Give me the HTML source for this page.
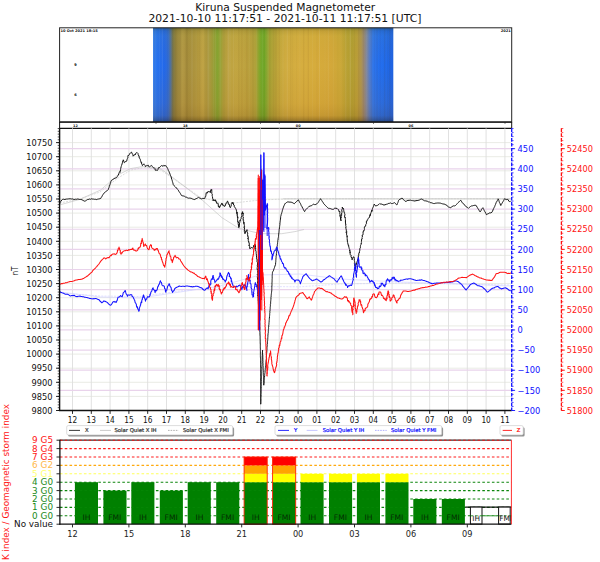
<!DOCTYPE html>
<html lang="en"><head><meta charset="utf-8"><title>Kiruna Suspended Magnetometer</title>
<style>html,body{margin:0;padding:0;background:#fff;}body{width:600px;height:562px;overflow:hidden;}svg{display:block;}</style>
</head><body>
<svg width="600" height="562" viewBox="0 0 600 562" font-family="'DejaVu Sans','Liberation Sans',sans-serif">
<defs>
<linearGradient id="keo" x1="0" y1="0" x2="1" y2="0">
<stop offset="0.0000" stop-color="#3a84f2"/>
<stop offset="0.0166" stop-color="#2672f0"/>
<stop offset="0.0458" stop-color="#2268ea"/>
<stop offset="0.0624" stop-color="#2f6cd8"/>
<stop offset="0.0728" stop-color="#50709c"/>
<stop offset="0.0832" stop-color="#7a7648"/>
<stop offset="0.0957" stop-color="#94823c"/>
<stop offset="0.1124" stop-color="#a48e40"/>
<stop offset="0.1248" stop-color="#b89e48"/>
<stop offset="0.1373" stop-color="#a48c3c"/>
<stop offset="0.1623" stop-color="#aa923e"/>
<stop offset="0.1873" stop-color="#b2983e"/>
<stop offset="0.2081" stop-color="#c0a446"/>
<stop offset="0.2247" stop-color="#ac963c"/>
<stop offset="0.2414" stop-color="#a49a3a"/>
<stop offset="0.2559" stop-color="#94a036"/>
<stop offset="0.2684" stop-color="#86a432"/>
<stop offset="0.2809" stop-color="#98a236"/>
<stop offset="0.2934" stop-color="#b09e3c"/>
<stop offset="0.3121" stop-color="#bca240"/>
<stop offset="0.3454" stop-color="#c2a642"/>
<stop offset="0.3787" stop-color="#bea23e"/>
<stop offset="0.4078" stop-color="#b8a03c"/>
<stop offset="0.4286" stop-color="#aea23a"/>
<stop offset="0.4390" stop-color="#8ea630"/>
<stop offset="0.4494" stop-color="#72a828"/>
<stop offset="0.4640" stop-color="#6ea426"/>
<stop offset="0.4744" stop-color="#8aa62e"/>
<stop offset="0.4848" stop-color="#a8a436"/>
<stop offset="0.5035" stop-color="#b4a238"/>
<stop offset="0.5243" stop-color="#c4a83c"/>
<stop offset="0.5535" stop-color="#d0ac40"/>
<stop offset="0.6117" stop-color="#d6ae40"/>
<stop offset="0.6742" stop-color="#d6ac3c"/>
<stop offset="0.7366" stop-color="#d4a83a"/>
<stop offset="0.7782" stop-color="#cca838"/>
<stop offset="0.8032" stop-color="#baa234"/>
<stop offset="0.8281" stop-color="#b29e32"/>
<stop offset="0.8489" stop-color="#ba9e38"/>
<stop offset="0.8656" stop-color="#ae944e"/>
<stop offset="0.8781" stop-color="#9a8a78"/>
<stop offset="0.8906" stop-color="#7884a4"/>
<stop offset="0.9030" stop-color="#507cd0"/>
<stop offset="0.9155" stop-color="#3076ea"/>
<stop offset="0.9363" stop-color="#2470f0"/>
<stop offset="0.9696" stop-color="#226cec"/>
<stop offset="1.0000" stop-color="#1e62e2"/>
</linearGradient>
<linearGradient id="keov" x1="0" y1="0" x2="0" y2="1">
<stop offset="0" stop-color="#203000" stop-opacity="0.34"/>
<stop offset="0.035" stop-color="#405010" stop-opacity="0.12"/>
<stop offset="0.09" stop-color="#8aa030" stop-opacity="0.06"/>
<stop offset="0.4" stop-color="#a06000" stop-opacity="0"/>
<stop offset="0.8" stop-color="#a05000" stop-opacity="0.08"/>
<stop offset="0.93" stop-color="#703800" stop-opacity="0.16"/>
<stop offset="1" stop-color="#201000" stop-opacity="0.42"/>
</linearGradient>
<pattern id="stripes" width="9" height="94" patternUnits="userSpaceOnUse">
<rect x="0" y="0" width="1" height="94" fill="#000" opacity="0.05"/>
<rect x="3" y="0" width="1" height="94" fill="#fff" opacity="0.06"/>
<rect x="6" y="0" width="1.5" height="94" fill="#000" opacity="0.04"/>
</pattern>
<clipPath id="mainclip"><rect x="59.6" y="128.3" width="452.1" height="282.2"/></clipPath>
<clipPath id="botclip"><rect x="59.6" y="436" width="451.8" height="90"/></clipPath>
<filter id="soft" x="-2%" y="-2%" width="104%" height="104%"><feGaussianBlur stdDeviation="0.35"/></filter>
</defs>
<rect width="600" height="562" fill="#fff"/>
<text x="195.3" y="10.6" font-size="10.5" fill="#111" textLength="179.9" lengthAdjust="spacingAndGlyphs">Kiruna Suspended Magnetometer</text>
<text x="148.4" y="22.2" font-size="10.5" fill="#111" textLength="273" lengthAdjust="spacingAndGlyphs">2021-10-10 11:17:51 - 2021-10-11 11:17:51 [UTC]</text>
<g>
<rect x="153" y="27.8" width="240.3" height="94.2" fill="url(#keo)"/>
<rect x="154.0" y="27.8" width="1.0" height="94.2" fill="#402000" opacity="0.054"/>
<rect x="155.7" y="27.8" width="0.6" height="94.2" fill="#fff" opacity="0.034"/>
<rect x="159.2" y="27.8" width="0.6" height="94.2" fill="#fff" opacity="0.059"/>
<rect x="161.7" y="27.8" width="1.4" height="94.2" fill="#fff" opacity="0.070"/>
<rect x="167.0" y="27.8" width="0.6" height="94.2" fill="#402000" opacity="0.054"/>
<rect x="172.4" y="27.8" width="0.6" height="94.2" fill="#402000" opacity="0.038"/>
<rect x="175.6" y="27.8" width="0.6" height="94.2" fill="#402000" opacity="0.064"/>
<rect x="179.8" y="27.8" width="0.6" height="94.2" fill="#402000" opacity="0.068"/>
<rect x="182.8" y="27.8" width="0.6" height="94.2" fill="#402000" opacity="0.067"/>
<rect x="186.3" y="27.8" width="1.4" height="94.2" fill="#402000" opacity="0.058"/>
<rect x="191.5" y="27.8" width="1.0" height="94.2" fill="#fff" opacity="0.086"/>
<rect x="195.7" y="27.8" width="0.8" height="94.2" fill="#fff" opacity="0.051"/>
<rect x="199.2" y="27.8" width="1.0" height="94.2" fill="#402000" opacity="0.047"/>
<rect x="204.7" y="27.8" width="0.6" height="94.2" fill="#402000" opacity="0.040"/>
<rect x="207.5" y="27.8" width="1.4" height="94.2" fill="#fff" opacity="0.097"/>
<rect x="209.3" y="27.8" width="1.0" height="94.2" fill="#fff" opacity="0.055"/>
<rect x="212.8" y="27.8" width="1.4" height="94.2" fill="#fff" opacity="0.037"/>
<rect x="215.4" y="27.8" width="0.6" height="94.2" fill="#fff" opacity="0.079"/>
<rect x="219.5" y="27.8" width="1.4" height="94.2" fill="#fff" opacity="0.057"/>
<rect x="223.7" y="27.8" width="0.6" height="94.2" fill="#402000" opacity="0.051"/>
<rect x="227.6" y="27.8" width="1.4" height="94.2" fill="#fff" opacity="0.084"/>
<rect x="229.6" y="27.8" width="0.8" height="94.2" fill="#fff" opacity="0.094"/>
<rect x="233.1" y="27.8" width="0.8" height="94.2" fill="#fff" opacity="0.068"/>
<rect x="238.1" y="27.8" width="1.4" height="94.2" fill="#402000" opacity="0.047"/>
<rect x="241.3" y="27.8" width="1.0" height="94.2" fill="#402000" opacity="0.053"/>
<rect x="243.7" y="27.8" width="0.6" height="94.2" fill="#fff" opacity="0.046"/>
<rect x="246.2" y="27.8" width="1.4" height="94.2" fill="#402000" opacity="0.041"/>
<rect x="248.8" y="27.8" width="0.8" height="94.2" fill="#fff" opacity="0.056"/>
<rect x="252.6" y="27.8" width="0.8" height="94.2" fill="#402000" opacity="0.061"/>
<rect x="256.5" y="27.8" width="0.6" height="94.2" fill="#fff" opacity="0.091"/>
<rect x="261.8" y="27.8" width="1.4" height="94.2" fill="#fff" opacity="0.058"/>
<rect x="265.3" y="27.8" width="1.4" height="94.2" fill="#fff" opacity="0.035"/>
<rect x="267.6" y="27.8" width="0.8" height="94.2" fill="#fff" opacity="0.072"/>
<rect x="269.5" y="27.8" width="0.8" height="94.2" fill="#402000" opacity="0.087"/>
<rect x="273.5" y="27.8" width="0.6" height="94.2" fill="#402000" opacity="0.067"/>
<rect x="275.5" y="27.8" width="1.0" height="94.2" fill="#402000" opacity="0.066"/>
<rect x="278.9" y="27.8" width="0.6" height="94.2" fill="#402000" opacity="0.090"/>
<rect x="282.3" y="27.8" width="1.4" height="94.2" fill="#fff" opacity="0.040"/>
<rect x="286.8" y="27.8" width="1.0" height="94.2" fill="#fff" opacity="0.078"/>
<rect x="290.4" y="27.8" width="0.8" height="94.2" fill="#402000" opacity="0.062"/>
<rect x="292.5" y="27.8" width="0.6" height="94.2" fill="#402000" opacity="0.048"/>
<rect x="296.5" y="27.8" width="0.6" height="94.2" fill="#402000" opacity="0.046"/>
<rect x="299.5" y="27.8" width="0.8" height="94.2" fill="#fff" opacity="0.046"/>
<rect x="303.2" y="27.8" width="1.0" height="94.2" fill="#402000" opacity="0.067"/>
<rect x="307.8" y="27.8" width="0.8" height="94.2" fill="#402000" opacity="0.079"/>
<rect x="312.3" y="27.8" width="0.8" height="94.2" fill="#fff" opacity="0.064"/>
<rect x="316.7" y="27.8" width="0.6" height="94.2" fill="#402000" opacity="0.058"/>
<rect x="319.0" y="27.8" width="1.0" height="94.2" fill="#fff" opacity="0.096"/>
<rect x="324.4" y="27.8" width="1.0" height="94.2" fill="#fff" opacity="0.037"/>
<rect x="327.8" y="27.8" width="1.0" height="94.2" fill="#fff" opacity="0.074"/>
<rect x="332.9" y="27.8" width="0.6" height="94.2" fill="#fff" opacity="0.076"/>
<rect x="337.6" y="27.8" width="0.6" height="94.2" fill="#402000" opacity="0.037"/>
<rect x="340.7" y="27.8" width="0.8" height="94.2" fill="#fff" opacity="0.042"/>
<rect x="345.3" y="27.8" width="1.0" height="94.2" fill="#fff" opacity="0.096"/>
<rect x="349.7" y="27.8" width="1.4" height="94.2" fill="#fff" opacity="0.096"/>
<rect x="354.1" y="27.8" width="0.8" height="94.2" fill="#402000" opacity="0.032"/>
<rect x="358.0" y="27.8" width="1.4" height="94.2" fill="#402000" opacity="0.039"/>
<rect x="362.8" y="27.8" width="1.4" height="94.2" fill="#402000" opacity="0.051"/>
<rect x="366.5" y="27.8" width="0.8" height="94.2" fill="#fff" opacity="0.086"/>
<rect x="370.9" y="27.8" width="0.6" height="94.2" fill="#402000" opacity="0.086"/>
<rect x="374.1" y="27.8" width="0.8" height="94.2" fill="#402000" opacity="0.043"/>
<rect x="376.6" y="27.8" width="1.0" height="94.2" fill="#402000" opacity="0.076"/>
<rect x="379.4" y="27.8" width="1.4" height="94.2" fill="#402000" opacity="0.034"/>
<rect x="383.9" y="27.8" width="1.4" height="94.2" fill="#402000" opacity="0.079"/>
<rect x="387.4" y="27.8" width="0.8" height="94.2" fill="#402000" opacity="0.061"/>
<rect x="389.0" y="27.8" width="1.4" height="94.2" fill="#402000" opacity="0.067"/>
<rect x="153" y="27.8" width="240.3" height="94.2" fill="url(#keov)"/>
<rect x="59.6" y="27.8" width="452.1" height="94.2" fill="none" stroke="#222" stroke-width="1"/>
<line x1="59.6" y1="122.2" x2="511.7" y2="122.2" stroke="#111" stroke-width="1.3"/>
<line x1="59.6" y1="128.3" x2="511.7" y2="128.3" stroke="#111" stroke-width="1.3"/>
<line x1="59.6" y1="122" x2="59.6" y2="128.3" stroke="#111" stroke-width="1"/>
<line x1="511.7" y1="122" x2="511.7" y2="128.3" stroke="#111" stroke-width="1"/>
<text x="60.6" y="31.6" font-size="3.6" fill="#111" font-weight="bold">10 Oct 2021 18:15</text>
<text x="510.8" y="31.6" font-size="3.6" fill="#111" font-weight="bold" text-anchor="end">2021</text>
<text x="75.6" y="65.8" font-size="3.6" fill="#111" font-weight="bold" text-anchor="middle">9</text>
<text x="75.6" y="95.6" font-size="3.6" fill="#111" font-weight="bold" text-anchor="middle">6</text>
<text x="75.4" y="127.2" font-size="3.4" fill="#111" font-weight="bold" text-anchor="middle">12</text>
<text x="185.3" y="127.2" font-size="3.4" fill="#111" font-weight="bold" text-anchor="middle">18</text>
<text x="298.2" y="127.2" font-size="3.4" fill="#111" font-weight="bold" text-anchor="middle">00</text>
<text x="410.9" y="127.2" font-size="3.4" fill="#111" font-weight="bold" text-anchor="middle">06</text>
<line x1="156" y1="122.2" x2="156" y2="123.8" stroke="#222" stroke-width="0.7"/>
<line x1="260.5" y1="122.2" x2="260.5" y2="123.8" stroke="#222" stroke-width="0.7"/>
<line x1="279.3" y1="122.2" x2="279.3" y2="123.8" stroke="#222" stroke-width="0.7"/>
<line x1="373.5" y1="122.2" x2="373.5" y2="123.8" stroke="#222" stroke-width="0.7"/>
<line x1="505" y1="122.2" x2="505" y2="123.8" stroke="#222" stroke-width="0.7"/>
</g>
<g>
<line x1="59.6" y1="410.50" x2="511.7" y2="410.50" stroke="#e4e6de" stroke-width="0.8"/>
<line x1="59.6" y1="396.40" x2="511.7" y2="396.40" stroke="#e4e6de" stroke-width="0.8"/>
<line x1="59.6" y1="382.30" x2="511.7" y2="382.30" stroke="#e4e6de" stroke-width="0.8"/>
<line x1="59.6" y1="368.20" x2="511.7" y2="368.20" stroke="#e4e6de" stroke-width="0.8"/>
<line x1="59.6" y1="354.10" x2="511.7" y2="354.10" stroke="#e4e6de" stroke-width="0.8"/>
<line x1="59.6" y1="340.00" x2="511.7" y2="340.00" stroke="#e4e6de" stroke-width="0.8"/>
<line x1="59.6" y1="325.90" x2="511.7" y2="325.90" stroke="#e4e6de" stroke-width="0.8"/>
<line x1="59.6" y1="311.80" x2="511.7" y2="311.80" stroke="#e4e6de" stroke-width="0.8"/>
<line x1="59.6" y1="297.70" x2="511.7" y2="297.70" stroke="#e4e6de" stroke-width="0.8"/>
<line x1="59.6" y1="283.60" x2="511.7" y2="283.60" stroke="#e4e6de" stroke-width="0.8"/>
<line x1="59.6" y1="269.50" x2="511.7" y2="269.50" stroke="#e4e6de" stroke-width="0.8"/>
<line x1="59.6" y1="255.40" x2="511.7" y2="255.40" stroke="#e4e6de" stroke-width="0.8"/>
<line x1="59.6" y1="241.30" x2="511.7" y2="241.30" stroke="#e4e6de" stroke-width="0.8"/>
<line x1="59.6" y1="227.20" x2="511.7" y2="227.20" stroke="#e4e6de" stroke-width="0.8"/>
<line x1="59.6" y1="213.10" x2="511.7" y2="213.10" stroke="#e4e6de" stroke-width="0.8"/>
<line x1="59.6" y1="199.00" x2="511.7" y2="199.00" stroke="#e4e6de" stroke-width="0.8"/>
<line x1="59.6" y1="184.90" x2="511.7" y2="184.90" stroke="#e4e6de" stroke-width="0.8"/>
<line x1="59.6" y1="170.80" x2="511.7" y2="170.80" stroke="#e4e6de" stroke-width="0.8"/>
<line x1="59.6" y1="156.70" x2="511.7" y2="156.70" stroke="#e4e6de" stroke-width="0.8"/>
<line x1="59.6" y1="142.60" x2="511.7" y2="142.60" stroke="#e4e6de" stroke-width="0.8"/>
<line x1="72.50" y1="128.3" x2="72.50" y2="410.5" stroke="#dedede" stroke-width="0.9"/>
<line x1="91.30" y1="128.3" x2="91.30" y2="410.5" stroke="#dedede" stroke-width="0.9"/>
<line x1="110.10" y1="128.3" x2="110.10" y2="410.5" stroke="#dedede" stroke-width="0.9"/>
<line x1="128.90" y1="128.3" x2="128.90" y2="410.5" stroke="#dedede" stroke-width="0.9"/>
<line x1="147.70" y1="128.3" x2="147.70" y2="410.5" stroke="#dedede" stroke-width="0.9"/>
<line x1="166.50" y1="128.3" x2="166.50" y2="410.5" stroke="#dedede" stroke-width="0.9"/>
<line x1="185.30" y1="128.3" x2="185.30" y2="410.5" stroke="#dedede" stroke-width="0.9"/>
<line x1="204.10" y1="128.3" x2="204.10" y2="410.5" stroke="#dedede" stroke-width="0.9"/>
<line x1="222.90" y1="128.3" x2="222.90" y2="410.5" stroke="#dedede" stroke-width="0.9"/>
<line x1="241.70" y1="128.3" x2="241.70" y2="410.5" stroke="#dedede" stroke-width="0.9"/>
<line x1="260.50" y1="128.3" x2="260.50" y2="410.5" stroke="#dedede" stroke-width="0.9"/>
<line x1="279.30" y1="128.3" x2="279.30" y2="410.5" stroke="#dedede" stroke-width="0.9"/>
<line x1="298.10" y1="128.3" x2="298.10" y2="410.5" stroke="#dedede" stroke-width="0.9"/>
<line x1="316.90" y1="128.3" x2="316.90" y2="410.5" stroke="#dedede" stroke-width="0.9"/>
<line x1="335.70" y1="128.3" x2="335.70" y2="410.5" stroke="#dedede" stroke-width="0.9"/>
<line x1="354.50" y1="128.3" x2="354.50" y2="410.5" stroke="#dedede" stroke-width="0.9"/>
<line x1="373.30" y1="128.3" x2="373.30" y2="410.5" stroke="#dedede" stroke-width="0.9"/>
<line x1="392.10" y1="128.3" x2="392.10" y2="410.5" stroke="#dedede" stroke-width="0.9"/>
<line x1="410.90" y1="128.3" x2="410.90" y2="410.5" stroke="#dedede" stroke-width="0.9"/>
<line x1="429.70" y1="128.3" x2="429.70" y2="410.5" stroke="#dedede" stroke-width="0.9"/>
<line x1="448.50" y1="128.3" x2="448.50" y2="410.5" stroke="#dedede" stroke-width="0.9"/>
<line x1="467.30" y1="128.3" x2="467.30" y2="410.5" stroke="#dedede" stroke-width="0.9"/>
<line x1="486.10" y1="128.3" x2="486.10" y2="410.5" stroke="#dedede" stroke-width="0.9"/>
<line x1="504.90" y1="128.3" x2="504.90" y2="410.5" stroke="#dedede" stroke-width="0.9"/>
<line x1="59.6" y1="390.36" x2="511.7" y2="390.36" stroke="#e9d3eb" stroke-width="1.2"/>
<line x1="59.6" y1="370.22" x2="511.7" y2="370.22" stroke="#e9d3eb" stroke-width="1.2"/>
<line x1="59.6" y1="350.08" x2="511.7" y2="350.08" stroke="#e9d3eb" stroke-width="1.2"/>
<line x1="59.6" y1="329.94" x2="511.7" y2="329.94" stroke="#e9d3eb" stroke-width="1.2"/>
<line x1="59.6" y1="309.80" x2="511.7" y2="309.80" stroke="#e9d3eb" stroke-width="1.2"/>
<line x1="59.6" y1="289.66" x2="511.7" y2="289.66" stroke="#e9d3eb" stroke-width="1.2"/>
<line x1="59.6" y1="269.52" x2="511.7" y2="269.52" stroke="#e9d3eb" stroke-width="1.2"/>
<line x1="59.6" y1="249.38" x2="511.7" y2="249.38" stroke="#e9d3eb" stroke-width="1.2"/>
<line x1="59.6" y1="229.24" x2="511.7" y2="229.24" stroke="#e9d3eb" stroke-width="1.2"/>
<line x1="59.6" y1="209.10" x2="511.7" y2="209.10" stroke="#e9d3eb" stroke-width="1.2"/>
<line x1="59.6" y1="188.96" x2="511.7" y2="188.96" stroke="#e9d3eb" stroke-width="1.2"/>
<line x1="59.6" y1="168.82" x2="511.7" y2="168.82" stroke="#e9d3eb" stroke-width="1.2"/>
<line x1="59.6" y1="148.68" x2="511.7" y2="148.68" stroke="#e9d3eb" stroke-width="1.2"/>
<g clip-path="url(#mainclip)">
<polyline points="59.8,204.9 79.4,199.5 100.7,190.0 117.8,175.0 130.6,168.6 143.4,166.4 160.5,168.6 178.0,181.4 202.8,200.6 222.0,217.7 239.0,228.4 260.4,233.7 281.8,233.7 295.0,231.6 304.0,229.5" fill="none" stroke="#bdbdbd" stroke-width="0.6" stroke-linejoin="round" />
<polyline points="59.8,203.0 80.0,199.0 100.0,192.0 118.0,178.0 131.0,170.0 144.0,167.5 160.0,169.5 178.0,182.0 200.0,197.0 225.0,204.0 260.0,200.0 290.0,198.8 400.0,198.8 511.0,198.8" fill="none" stroke="#c4c4c4" stroke-width="0.6" stroke-linejoin="round" stroke-dasharray="2 1.2"/>
<line x1="283" y1="198.8" x2="511" y2="198.8" stroke="#c4c4c4" stroke-width="0.7"/>
<polyline points="59.8,292.0 100.0,297.0 140.0,298.0 180.0,292.0 220.0,286.0 260.0,275.0 300.0,274.0 340.0,279.0 400.0,282.0 460.0,284.0 511.0,286.0" fill="none" stroke="#ccccff" stroke-width="0.6" stroke-linejoin="round" />
<polyline points="59.8,293.0 100.0,296.0 140.0,296.5 180.0,291.0 220.0,287.0 260.0,286.5 300.0,286.8 340.0,284.0 400.0,283.0 460.0,284.0 511.0,285.0" fill="none" stroke="#ccccff" stroke-width="0.6" stroke-linejoin="round" stroke-dasharray="2 1.2"/>
<polyline points="59.8,203.7 60.1,202.2 60.6,201.6 61.2,201.0 61.7,200.0 62.3,199.5 63.3,199.2 64.1,199.4 65.0,199.5 66.1,199.0 66.7,199.1 67.7,199.0 68.4,198.9 69.1,198.8 70.0,198.8 70.8,198.8 71.6,199.0 72.4,198.9 73.2,199.3 74.0,199.3 74.9,199.5 75.5,199.2 76.4,199.3 77.3,199.0 78.0,199.1 78.8,199.2 79.7,199.5 80.4,199.5 81.1,199.5 82.0,199.8 82.9,200.3 83.8,200.8 84.7,201.2 85.5,200.9 86.4,200.3 87.2,199.6 87.9,199.5 88.9,199.3 89.6,199.0 90.4,199.3 91.2,198.9 92.0,198.7 92.8,199.2 93.6,199.1 94.4,199.3 95.3,199.2 96.0,199.7 96.8,199.5 97.6,199.2 98.4,199.0 99.1,199.0 99.9,198.6 100.7,198.5 101.1,197.7 101.6,197.0 102.1,196.2 102.5,195.3 102.9,194.7 103.5,194.0 103.9,193.2 104.6,192.7 105.4,191.8 106.0,191.3 106.8,190.9 107.4,190.5 108.2,189.7 108.4,189.1 108.7,188.2 109.0,187.5 109.2,186.7 109.5,185.9 109.8,185.0 110.0,184.5 110.3,183.4 110.6,182.8 110.8,181.7 111.1,181.2 111.4,180.4 112.3,179.8 113.1,179.4 114.0,178.6 114.9,178.3 115.8,177.9 116.7,177.6 117.0,176.7 117.6,176.2 117.9,175.5 118.2,175.3 118.8,173.8 119.0,172.5 119.7,171.9 120.0,172.4 120.1,170.6 120.5,170.9 120.6,169.5 120.7,168.4 120.8,168.1 121.2,166.7 121.2,166.5 121.5,165.5 121.7,165.2 122.2,163.3 122.1,162.9 122.7,162.8 122.6,161.2 123.0,161.3 123.3,159.8 123.8,161.1 124.1,162.3 124.5,162.7 125.3,161.6 126.5,161.3 126.7,161.0 127.0,159.8 127.1,158.8 127.6,158.4 127.9,157.9 127.8,156.6 128.2,155.1 128.6,155.6 129.2,154.8 129.4,153.8 130.7,152.9 131.6,152.1 131.8,153.0 132.6,154.2 133.0,154.9 133.1,156.2 134.2,154.9 135.0,154.7 135.2,155.0 135.7,153.3 136.6,152.7 137.1,152.5 138.0,153.5 138.2,154.7 138.6,155.8 139.1,155.8 139.1,157.0 139.4,158.2 139.7,158.3 140.4,159.7 140.5,160.7 140.7,160.9 141.3,163.0 141.6,162.5 141.6,164.0 142.2,164.7 142.4,165.6 143.0,164.9 143.9,163.8 144.3,164.6 145.2,165.6 145.6,166.6 146.4,165.8 146.9,165.2 147.6,165.5 148.4,165.3 148.7,166.3 149.3,167.0 149.7,166.8 150.4,166.2 151.3,165.5 151.8,165.6 152.4,166.6 153.1,167.5 153.5,167.8 154.3,167.8 154.9,168.5 155.3,170.3 156.4,169.9 157.1,170.7 157.9,169.6 158.2,168.6 158.6,167.6 158.7,168.1 159.8,167.3 160.6,166.3 161.4,165.6 162.1,165.7 163.1,166.4 163.8,165.3 165.1,166.1 165.8,165.5 166.3,166.1 166.6,166.7 166.9,167.1 167.5,168.4 167.8,168.7 168.1,169.6 168.4,170.6 169.1,171.7 169.3,172.7 169.5,172.6 170.0,174.1 170.3,174.8 170.6,175.7 170.9,176.3 171.2,177.0 171.4,178.0 171.7,179.0 171.9,179.7 172.1,180.2 172.4,181.4 172.6,182.2 172.9,182.9 173.1,183.9 173.3,184.7 173.9,185.3 174.5,186.2 175.1,186.7 175.6,187.2 176.2,188.0 177.0,188.4 177.6,189.4 178.2,189.9 178.6,190.8 179.1,191.7 179.6,192.3 180.0,193.2 180.5,193.6 181.0,194.7 181.4,195.4 182.2,195.8 183.0,195.8 183.8,196.1 184.5,196.3 185.3,197.0 186.2,197.0 187.0,197.6 187.7,197.9 188.6,198.2 189.3,198.1 190.2,198.1 191.0,198.4 191.8,198.5 192.6,199.0 193.4,199.3 194.2,199.6 195.1,199.2 196.0,198.7 196.8,198.4 197.7,197.9 198.5,197.3 199.2,197.8 199.9,198.1 200.8,198.5 201.5,198.8 202.3,198.6 203.2,198.5 204.1,198.5 204.9,198.3 205.1,197.5 205.3,196.4 205.9,196.3 205.9,195.3 206.1,193.2 206.2,192.6 207.1,193.4 207.8,191.6 208.9,191.7 209.8,191.8 210.4,192.6 210.8,189.7 211.8,190.0 211.7,189.5 211.8,191.5 211.8,193.5 212.1,194.0 212.4,194.9 212.1,195.8 212.3,196.4 212.5,196.7 212.6,198.2 213.0,199.5 213.1,200.4 213.2,200.9 213.6,199.6 214.7,200.8 215.1,199.6 215.8,201.2 216.0,200.8 216.6,203.3 217.2,203.2 218.1,203.3 218.4,206.6 218.8,206.0 219.2,207.5 219.2,207.3 220.0,206.7 219.7,207.4 220.3,205.4 220.6,205.6 220.8,204.6 221.7,204.3 221.8,203.0 222.3,203.8 222.7,205.3 223.8,205.1 224.1,206.4 225.4,205.8 225.4,205.1 226.3,202.8 226.7,203.2 227.5,200.9 227.8,201.7 228.5,203.2 228.9,204.8 229.1,204.4 229.5,204.7 229.7,206.9 230.4,207.7 230.7,206.9 231.4,205.1 231.3,204.6 232.0,203.1 232.1,202.3 232.8,203.7 232.9,202.3 233.7,205.1 234.3,205.3 234.3,206.7 234.5,207.1 234.8,207.2 235.5,208.0 235.6,208.4 236.3,209.9 236.3,210.1 236.6,211.2 236.7,213.6 237.2,212.2 237.3,215.2 237.1,214.8 237.5,217.1 237.4,217.8 237.8,216.8 238.0,217.2 237.5,219.8 237.6,219.8 237.7,220.9 238.4,222.9 237.8,221.5 238.6,222.3 238.2,223.3 238.2,223.9 238.7,226.6 238.8,227.7 239.0,225.7 239.2,226.5 239.4,223.8 239.1,224.8 239.7,222.5 239.9,222.3 240.0,220.2 240.1,220.3 240.2,220.8 240.5,219.4 241.0,218.8 241.2,218.1 241.1,217.8 241.3,216.9 242.0,215.9 241.7,213.1 242.5,213.3 242.4,213.9 242.3,211.9 242.7,211.6 242.8,214.0 243.2,213.0 243.0,214.0 243.3,214.8 242.8,216.4 243.4,217.0 243.0,219.1 243.6,220.1 243.3,219.8 243.3,220.9 243.5,221.2 243.9,223.6 243.9,222.2 244.0,223.9 244.4,225.4 244.3,226.1 244.2,227.4 244.5,226.7 244.1,227.7 244.5,227.8 244.4,229.8 244.3,231.2 244.8,230.7 244.7,231.6 244.8,233.4 245.0,233.7 245.0,233.8 245.5,231.5 245.6,232.3 246.2,231.3 246.8,230.7 247.0,229.7 247.2,230.2 246.7,230.3 247.2,232.4 247.5,232.5 247.5,232.4 247.8,234.0 247.5,234.3 248.0,235.4 247.5,235.2 248.0,237.1 248.3,236.9 248.0,239.2 247.9,238.4 248.5,239.7 248.3,240.5 248.9,242.1 248.6,241.7 249.4,244.0 249.0,245.5 249.0,245.0 249.8,246.8 249.6,248.1 250.0,248.9 251.0,247.5 251.7,247.6 252.7,248.1 253.2,247.3 254.0,245.1 254.0,245.6 255.1,244.2 255.0,244.8 255.4,246.7 255.3,245.5 255.6,247.5 255.2,247.9 255.8,248.0 255.4,249.6 256.1,251.6 256.3,251.9 256.1,252.8 256.2,253.6 256.5,255.5 256.3,255.5 256.4,255.5 256.6,257.1 256.7,258.9 256.5,258.9 257.3,259.9 257.1,259.8 257.0,262.1 257.5,262.3 257.6,263.8 257.7,263.2 257.4,265.1 257.3,265.8 257.4,265.5 257.4,265.7 257.4,267.3 257.1,267.5 257.3,270.1 257.6,269.4 257.9,270.1 257.6,272.2 257.7,272.2 257.8,273.1 257.8,274.0 258.0,275.4 257.3,274.6 258.0,275.7 257.3,276.6 257.6,279.2 257.6,279.4 257.9,278.6 257.8,281.7 257.8,281.3 257.6,283.2 258.1,281.8 257.8,283.5 257.9,283.5 257.6,284.7 257.8,286.9 258.1,287.7 258.0,286.6 257.8,289.0 257.7,289.3 258.2,289.1 258.2,289.9 257.8,292.8 257.7,292.6 257.9,294.4 258.3,293.6 258.0,296.0 258.0,295.0 258.2,296.2 258.0,296.1 258.1,298.3 258.2,299.2 258.1,299.8 258.2,300.7 258.3,301.3 258.3,302.3 258.4,302.9 258.4,303.9 258.5,304.9 258.6,305.5 258.6,306.3 258.6,307.2 258.7,307.8 258.8,308.7 258.8,309.6 258.9,310.5 259.0,311.2 259.0,311.9 259.1,312.8 259.2,313.7 259.2,314.4 259.2,315.0 259.3,315.9 259.3,316.8 259.4,317.7 259.4,318.4 259.4,319.3 259.5,320.1 259.4,320.7 259.5,321.8 259.5,322.5 259.6,323.6 259.6,324.3 259.6,324.8 259.6,325.7 259.6,326.8 259.7,327.3 259.7,328.5 259.7,329.1 259.8,329.8 259.8,330.7 259.8,331.8 259.9,332.4 259.9,333.2 259.9,334.0 260.0,334.9 260.0,335.8 260.1,336.6 260.1,337.4 260.1,338.3 260.1,339.1 260.2,339.8 260.2,340.8 260.2,341.3 260.2,342.2 260.2,343.1 260.3,344.0 260.3,344.8 260.3,345.6 260.3,346.5 260.3,347.3 260.3,348.1 260.4,348.9 260.4,349.7 260.4,350.5 260.4,351.4 260.4,352.2 260.4,353.0 260.4,353.8 260.4,354.6 260.4,355.5 260.4,356.3 260.4,357.1 260.5,357.9 260.5,358.7 260.5,359.5 260.5,360.4 260.5,361.2 260.5,362.0 260.5,362.8 260.5,363.6 260.5,364.5 260.5,365.3 260.5,366.1 260.6,366.9 260.6,367.7 260.6,368.5 260.6,369.4 260.6,370.2 260.6,371.0 260.6,371.8 260.6,372.6 260.6,373.4 260.6,374.2 260.6,375.0 260.6,375.8 260.6,376.6 260.6,377.4 260.6,378.2 260.6,379.0 260.6,379.9 260.6,380.7 260.6,381.5 260.6,382.3 260.6,383.1 260.6,383.9 260.6,384.7 260.6,385.5 260.6,386.3 260.6,387.1 260.7,387.9 260.7,388.7 260.7,389.5 260.7,390.3 260.7,391.1 260.7,391.9 260.7,392.7 260.7,393.5 260.7,394.3 260.7,395.1 260.7,396.0 260.7,396.8 260.7,397.6 260.7,398.4 260.7,399.2 260.7,400.0 260.7,400.8 260.7,401.6 260.7,402.4 260.7,403.2 260.7,404.2 260.8,403.1 260.8,402.4 260.8,401.7 260.9,400.9 260.8,400.1 260.9,399.2 260.8,398.5 260.8,397.7 260.9,396.8 261.0,396.0 261.0,395.1 260.9,394.6 261.0,393.5 261.0,392.8 261.1,392.1 261.0,391.2 261.1,390.4 261.1,389.5 261.1,388.8 261.1,388.1 261.2,387.0 261.2,386.6 261.3,385.7 261.3,384.7 261.2,383.9 261.3,383.1 261.3,382.2 261.3,381.5 261.3,380.9 261.4,379.9 261.4,379.4 261.5,378.4 261.5,377.4 261.5,376.6 261.6,375.8 261.6,375.1 261.6,374.4 261.6,373.5 261.6,372.6 261.7,371.8 261.7,371.3 261.7,370.4 261.8,369.6 261.8,368.7 261.8,368.0 261.8,367.0 261.9,366.4 261.9,365.5 262.0,364.5 261.9,363.9 262.0,363.1 262.1,362.2 262.0,361.5 262.1,360.4 262.1,359.7 262.1,359.1 262.2,358.2 262.2,357.5 262.2,356.6 262.3,355.5 262.3,354.7 262.4,354.0 262.4,353.3 262.4,352.5 262.5,351.8 262.5,351.0 262.6,350.1 262.5,350.7 262.5,351.8 262.5,352.5 262.6,353.1 262.6,354.2 262.7,355.1 262.8,355.5 262.8,356.3 262.8,357.3 262.9,358.2 262.8,359.0 262.9,359.7 262.9,360.8 263.0,361.6 262.9,362.5 263.0,363.2 263.0,363.8 263.1,364.6 263.0,365.5 263.2,366.5 263.2,367.4 263.2,368.2 263.2,368.8 263.3,369.6 263.3,370.5 263.4,371.2 263.3,372.1 263.3,372.7 263.4,373.8 263.4,374.6 263.5,375.4 263.5,376.3 263.6,376.9 263.5,377.7 263.5,378.7 263.6,379.3 263.6,380.2 263.7,380.9 263.7,381.9 263.7,382.6 263.8,383.2 263.7,384.1 263.8,385.2 263.8,384.0 263.9,383.4 264.1,382.8 264.1,381.8 264.1,380.7 264.3,380.3 264.3,379.5 264.4,378.5 264.5,377.5 264.5,377.1 264.6,375.9 264.7,375.3 264.7,374.3 264.8,373.6 265.0,372.7 265.0,372.2 265.1,371.0 265.1,370.6 265.3,369.4 265.3,368.7 265.4,367.8 265.5,367.3 265.6,366.2 265.7,365.7 265.8,364.8 265.9,363.9 265.8,363.0 266.0,362.2 266.0,361.5 266.1,361.0 266.2,360.2 266.3,359.1 266.4,358.2 266.4,357.4 266.4,356.8 266.4,356.1 266.5,355.3 266.5,354.4 266.6,353.5 266.7,352.7 266.8,352.0 266.8,351.0 266.9,350.2 267.0,349.5 267.0,348.5 267.0,347.7 267.1,347.2 267.2,346.3 267.3,345.4 267.2,344.6 267.4,344.0 267.5,343.2 267.5,342.3 267.5,341.4 267.6,340.7 267.7,339.8 267.7,339.2 267.8,338.2 267.8,337.6 267.9,336.5 267.9,335.9 267.9,335.0 268.1,334.1 268.1,333.5 268.3,332.7 268.3,331.7 268.3,331.0 268.4,330.3 268.4,329.4 268.6,328.4 268.5,327.6 268.7,327.0 268.8,326.0 268.7,325.1 268.9,324.5 268.9,323.8 269.1,322.9 269.0,322.3 269.2,321.1 269.2,320.4 269.3,319.6 269.3,318.8 269.4,318.0 269.5,317.0 269.5,316.6 269.6,315.7 269.7,314.7 269.7,313.9 269.7,313.4 269.9,312.6 269.8,311.7 270.0,310.8 270.1,309.8 270.1,309.2 270.2,308.4 270.2,307.6 270.3,306.7 270.4,305.9 270.4,305.1 270.4,304.4 270.6,303.8 270.6,302.9 270.7,301.9 270.7,301.1 270.8,300.4 270.9,299.4 271.0,299.0 270.9,297.8 271.0,297.2 271.2,296.1 271.2,295.4 271.3,294.3 271.4,293.5 271.5,292.7 271.6,291.8 271.7,290.9 271.8,290.1 271.8,289.4 271.8,288.5 271.8,287.6 271.9,287.1 271.8,286.0 272.0,285.2 272.0,284.7 271.9,283.9 272.0,282.8 272.0,282.1 272.1,281.3 272.1,280.6 272.1,279.6 272.2,278.8 272.2,278.3 272.2,277.2 272.2,276.5 272.2,275.5 272.3,274.8 272.3,274.1 272.4,273.4 272.4,272.7 272.8,271.6 273.2,271.0 273.6,270.2 273.9,269.1 274.1,268.6 274.4,267.7 274.7,267.1 274.9,266.1 275.5,264.7 275.6,264.0 275.6,263.0 275.7,262.3 275.8,261.6 275.8,260.6 275.9,259.6 275.9,259.0 276.0,258.2 276.1,257.5 276.1,256.4 276.2,255.8 276.4,255.0 276.4,253.8 276.4,253.1 276.6,252.4 276.5,251.4 276.7,250.6 276.7,250.0 276.8,249.0 276.9,248.1 277.0,247.5 277.1,246.4 277.3,245.8 277.3,244.7 277.5,243.9 277.6,243.1 277.6,242.5 277.8,241.2 277.8,240.5 278.0,240.0 278.1,238.9 278.2,238.1 278.4,237.3 278.5,236.5 278.5,235.8 278.6,234.8 278.7,233.9 278.8,233.0 278.9,232.5 279.0,231.4 279.1,230.6 279.1,229.8 279.3,229.1 279.4,228.0 279.5,227.2 279.6,226.6 279.7,225.8 279.9,224.7 279.9,224.0 279.9,223.0 280.1,222.3 280.2,221.2 280.3,220.7 280.4,219.9 280.5,219.0 280.6,217.9 280.7,216.9 280.7,216.3 281.1,215.2 281.2,214.5 281.5,213.8 281.7,212.8 282.0,212.2 282.2,211.3 282.4,210.3 282.7,209.4 282.9,208.8 283.2,207.9 283.5,207.1 283.8,206.1 284.2,205.4 284.5,204.7 284.8,203.7 285.7,203.3 286.4,202.6 287.3,202.0 288.1,201.9 289.1,202.1 290.1,202.1 291.2,202.2 292.2,202.5 293.3,203.2 294.3,203.7 295.0,203.1 295.8,202.2 296.5,201.6 297.1,200.8 297.9,200.4 298.5,199.9 298.9,200.9 299.3,201.7 299.6,202.2 299.9,202.9 300.5,203.6 300.9,204.7 301.3,205.7 301.7,206.2 302.2,207.0 302.5,208.0 302.9,208.5 303.3,209.3 303.7,210.1 304.1,210.9 304.6,211.6 305.1,210.7 305.6,209.8 306.3,209.1 306.8,208.6 307.4,208.0 308.0,207.5 308.6,207.0 309.1,206.4 310.2,206.0 311.4,205.7 312.1,205.4 312.7,204.6 313.6,204.2 314.6,204.6 315.8,204.5 316.5,204.0 317.2,203.6 317.8,202.9 318.3,202.3 318.7,201.6 319.2,200.8 319.5,200.2 320.1,199.5 320.5,198.7 321.0,199.4 321.5,200.3 321.9,200.7 322.4,201.7 322.9,202.1 323.3,202.7 323.7,203.7 324.1,204.0 324.8,204.8 325.6,205.7 326.3,206.3 327.0,207.1 327.7,207.7 328.4,208.3 329.5,208.4 330.5,208.6 331.6,209.1 332.7,209.4 333.4,209.3 334.1,208.7 334.8,208.1 335.9,208.3 337.0,208.4 337.5,208.9 337.8,209.0 338.6,209.8 339.2,211.9 339.7,211.2 339.9,212.1 339.7,213.5 340.0,214.0 340.2,215.8 340.0,215.3 340.2,217.2 340.5,216.9 340.5,219.4 341.0,219.6 341.0,220.9 340.7,218.4 341.1,218.3 341.2,217.3 341.1,217.7 341.0,216.0 341.1,215.5 341.6,215.7 341.7,213.0 341.6,213.1 341.8,212.6 342.1,212.4 341.7,209.8 342.3,209.1 342.4,208.2 342.3,207.4 342.1,207.0 343.0,208.6 343.3,208.2 343.6,209.2 343.8,210.8 344.2,212.7 344.2,212.8 344.6,212.7 344.6,213.6 345.0,214.9 344.5,216.0 344.9,217.7 345.1,217.1 345.3,217.4 345.3,218.4 345.4,219.5 345.5,221.7 345.5,221.0 345.4,221.8 345.7,224.6 345.6,224.7 345.8,224.4 345.7,225.7 346.0,226.7 345.8,227.8 345.8,227.6 345.9,228.3 346.3,230.1 346.4,231.2 346.1,232.5 346.7,231.6 346.6,234.1 346.6,235.1 346.9,235.5 347.2,236.6 347.1,235.8 347.1,238.0 347.2,238.6 347.2,240.0 347.2,240.4 347.5,240.2 347.3,241.0 347.6,242.5 347.6,242.5 348.3,245.4 348.3,245.1 348.6,245.1 348.8,247.2 349.3,248.0 349.2,248.4 349.7,249.5 349.6,250.8 349.8,250.1 350.1,252.7 350.1,251.8 350.1,254.3 350.3,254.6 350.5,255.0 351.2,255.2 351.0,256.8 351.4,257.5 351.4,257.1 351.8,258.4 352.0,259.6 352.1,259.9 352.5,258.9 353.0,257.1 353.9,256.9 354.3,258.3 354.3,258.6 354.3,260.5 354.6,261.3 354.4,262.2 354.6,262.6 354.7,263.0 354.4,263.5 355.1,266.0 355.0,265.4 355.1,267.4 355.0,267.2 354.8,269.6 355.4,270.1 355.2,269.0 355.7,267.8 355.4,267.9 355.8,266.6 356.0,264.3 356.1,263.4 356.1,264.6 356.6,263.0 356.3,262.4 357.0,261.4 357.4,261.2 357.6,259.6 358.0,258.7 358.4,256.9 358.2,255.9 358.3,256.1 358.7,255.8 358.8,253.5 359.4,252.6 359.2,253.1 359.5,251.3 359.4,251.2 359.7,251.0 359.8,250.3 359.8,248.8 360.2,247.7 360.5,247.6 360.4,246.7 360.5,245.6 361.1,244.3 361.3,243.4 361.1,243.8 361.6,242.7 361.2,242.3 361.5,241.3 361.6,239.1 361.7,239.3 362.3,238.1 361.8,237.7 362.5,237.1 362.0,235.3 362.7,235.3 362.9,235.0 363.1,233.7 363.0,231.5 363.6,231.6 363.9,230.1 364.1,230.4 364.4,229.7 364.4,228.5 364.4,227.1 365.0,226.2 365.2,226.4 365.6,226.1 365.8,224.6 366.0,224.2 366.4,223.8 366.4,221.2 366.8,221.5 367.4,219.7 367.5,219.8 367.9,219.5 368.2,218.6 368.7,217.7 369.5,217.4 370.0,214.6 370.2,215.7 370.6,213.9 370.9,212.8 371.2,212.3 371.6,210.7 371.7,210.2 372.1,211.3 372.2,209.7 372.5,208.5 372.8,207.9 373.0,207.3 373.5,206.3 373.7,205.6 373.9,204.8 374.2,204.1 375.0,205.1 375.8,206.2 376.7,205.5 377.5,205.4 378.2,204.8 379.0,204.3 379.6,203.7 380.8,204.1 381.8,204.1 382.8,204.6 384.0,205.1 385.0,204.7 386.1,204.5 386.8,204.1 387.5,204.0 388.2,203.5 389.3,203.4 390.4,202.9 391.4,203.5 392.5,203.5 393.5,203.1 394.6,202.6 395.1,203.0 395.6,203.7 396.3,204.6 396.8,205.0 397.2,204.4 397.4,203.6 397.7,202.8 398.0,202.4 398.3,201.3 398.6,200.4 398.8,200.0 399.8,199.3 400.4,199.0 401.3,198.5 402.1,198.1 402.7,199.0 403.4,199.6 404.0,199.9 404.7,200.6 405.3,201.4 406.2,201.3 407.0,200.7 407.9,200.4 409.0,200.3 409.8,200.3 410.6,200.2 411.5,200.5 412.4,200.6 413.2,200.7 414.0,200.9 415.0,201.0 416.0,200.6 417.0,200.6 417.9,200.4 418.9,200.2 419.7,199.9 420.6,199.3 421.4,199.0 422.2,199.5 422.9,199.7 423.7,200.3 424.6,200.8 425.3,200.8 426.1,201.0 427.0,201.1 427.7,201.4 428.5,201.9 429.5,201.9 430.2,202.6 430.9,202.8 431.8,202.8 432.6,203.2 433.4,203.5 434.3,203.6 435.0,203.2 435.8,203.2 436.6,203.1 437.4,203.0 438.2,203.0 439.1,203.0 439.9,203.1 440.6,203.2 441.4,203.5 442.4,203.8 443.2,204.0 444.2,204.0 445.1,204.6 445.9,204.7 446.7,205.2 447.3,206.1 448.0,206.5 448.7,207.1 449.5,207.2 450.2,207.9 451.1,207.4 451.9,206.7 452.9,206.1 453.7,205.8 454.5,205.9 455.5,205.5 456.1,204.8 456.6,204.4 457.2,203.7 457.7,203.1 458.2,202.6 458.9,202.0 459.6,201.2 460.2,200.6 460.9,200.3 461.4,201.2 461.9,202.1 462.5,203.0 463.0,203.6 463.6,203.8 464.1,204.6 464.9,205.2 465.5,205.9 466.1,206.8 466.9,207.1 467.6,207.6 468.4,208.3 469.1,207.6 469.8,207.1 470.5,206.5 471.6,205.9 472.6,205.8 473.3,205.6 474.2,205.3 475.0,205.4 475.8,205.2 476.4,205.9 477.0,207.0 477.4,207.6 478.0,208.7 478.4,209.1 478.8,209.9 479.3,210.7 479.6,211.1 480.1,211.9 480.6,211.0 481.1,210.5 481.5,209.3 482.2,208.5 482.9,207.7 483.2,208.4 483.6,209.3 484.0,209.8 484.3,210.7 484.7,211.4 485.2,212.1 485.7,213.2 486.1,213.8 486.4,214.7 487.3,214.1 488.2,213.8 489.0,213.2 489.9,212.8 490.8,212.9 491.9,212.3 492.2,211.8 492.6,211.0 493.0,210.0 493.4,208.8 493.8,208.3 494.2,207.4 494.7,206.5 495.0,205.5 495.4,204.7 495.6,204.1 496.0,203.1 496.2,202.5 496.6,202.0 497.0,201.1 497.4,200.5 497.9,199.7 498.1,198.8 498.6,199.9 498.9,200.6 499.1,201.4 499.4,202.4 499.9,203.2 500.2,203.9 500.5,205.0 500.8,205.5 501.1,204.8 501.5,204.3 501.9,203.5 502.3,202.8 502.7,201.9 503.2,201.4 503.7,200.5 504.1,199.6 504.6,198.7 505.5,199.3 506.2,199.6 506.9,199.5 507.8,199.3 508.3,200.0 508.8,201.1 509.3,201.6 510.6,201.4" fill="none" stroke="#141414" stroke-width="1.0" stroke-linejoin="round" />
<polyline points="59.9,291.7 60.0,291.8 61.0,292.5 61.8,292.6 62.7,293.1 63.6,293.3 64.4,293.8 65.5,294.2 66.5,294.2 67.5,294.3 68.3,294.6 69.1,295.1 70.0,295.7 70.8,295.9 71.6,295.6 72.4,295.5 73.2,295.7 74.0,295.3 74.8,295.8 75.5,296.2 76.3,296.4 77.0,296.8 78.1,296.3 79.0,296.3 80.0,296.0 80.9,296.4 81.8,296.5 82.7,296.8 83.7,296.8 84.5,297.2 85.4,297.3 86.2,297.4 87.1,297.6 88.1,297.9 88.9,298.1 89.7,298.5 90.5,298.5 91.4,298.8 92.2,298.8 93.0,299.0 93.9,298.6 94.7,298.8 95.6,298.5 96.3,298.6 97.1,299.0 97.8,299.4 98.5,299.5 99.3,300.0 99.8,300.9 100.5,301.5 101.1,302.0 101.8,302.8 102.5,302.3 103.2,301.7 103.9,300.9 105.0,301.2 106.0,301.8 106.7,302.1 107.5,302.7 108.1,303.4 108.9,304.2 109.5,304.6 110.1,305.2 111.0,304.9 111.6,304.2 112.2,303.3 112.9,301.9 114.0,301.4 114.4,301.9 115.5,301.8 116.1,302.5 116.5,301.3 117.1,300.6 117.3,300.1 117.4,299.4 117.8,297.8 118.3,297.2 118.8,297.1 119.4,296.9 120.1,296.1 120.5,295.5 121.2,296.1 122.2,296.8 122.6,295.1 122.9,294.7 123.1,293.1 123.7,292.4 124.3,291.9 124.6,291.2 125.2,290.5 125.6,291.7 125.8,292.7 126.1,293.9 126.7,294.4 126.8,294.8 127.1,294.8 127.4,296.3 127.9,295.1 128.9,294.9 129.5,295.2 130.7,294.6 131.9,295.1 132.0,296.3 132.6,296.5 133.5,297.8 133.5,298.2 134.1,299.0 134.4,300.0 134.7,300.3 135.1,302.1 135.2,302.6 135.6,303.0 135.9,303.6 136.4,304.3 136.3,304.6 136.6,306.6 137.1,307.5 137.4,306.8 137.7,308.7 138.0,309.0 138.1,309.7 138.6,310.2 138.7,311.3 139.1,310.9 139.3,310.1 139.3,308.2 139.6,307.4 139.7,307.2 140.2,306.1 140.5,304.5 140.6,305.1 140.8,303.4 141.1,302.0 141.7,302.7 141.8,300.5 141.9,299.8 142.3,299.7 142.4,298.6 142.5,297.8 143.1,297.4 143.0,296.1 143.5,294.9 143.9,296.0 144.0,296.7 144.5,298.2 144.5,297.9 145.0,298.8 145.5,301.2 145.7,299.9 146.2,299.0 146.7,299.1 147.1,297.7 147.6,296.7 147.8,296.6 148.6,297.1 149.2,297.0 149.5,296.3 150.1,295.4 149.9,294.3 150.5,294.2 150.7,293.3 150.7,292.7 151.4,291.3 151.9,290.9 152.0,290.0 152.7,288.2 153.1,287.9 153.3,289.1 153.7,289.7 154.3,289.9 154.8,291.1 155.1,292.7 155.5,290.4 156.2,291.0 156.9,290.1 157.3,289.2 157.5,287.6 157.9,286.4 158.1,286.7 158.4,285.8 159.0,284.3 159.4,284.1 159.9,282.2 159.9,281.7 160.5,280.7 160.6,281.9 161.4,282.4 161.6,283.2 161.9,284.7 162.2,285.2 162.6,285.8 163.6,285.7 164.4,286.7 164.5,288.3 164.8,288.5 165.2,288.8 165.3,290.2 165.5,291.7 165.9,292.2 166.0,290.8 166.4,290.0 166.7,290.3 166.9,289.3 167.3,287.8 167.6,286.4 168.0,285.7 168.3,285.0 168.9,285.1 169.0,283.7 169.6,284.1 169.6,284.8 170.1,286.4 170.5,286.8 171.0,287.4 171.3,288.8 171.5,289.9 171.7,290.7 172.3,290.9 172.5,292.4 173.1,291.3 173.8,290.8 174.3,290.1 174.7,288.7 175.6,288.0 176.4,287.4 177.3,287.0 178.0,286.8 178.8,286.3 179.6,286.0 180.4,286.2 181.3,286.4 182.0,286.3 182.8,286.3 183.6,286.3 184.4,286.4 185.2,286.2 186.1,286.0 186.8,286.0 187.6,286.1 188.4,286.2 189.2,286.3 190.0,286.4 190.8,286.8 191.5,286.6 192.4,286.9 193.2,286.6 194.0,286.8 194.8,286.6 195.6,286.3 196.5,286.2 197.2,286.2 198.0,286.6 198.8,286.8 199.6,287.3 200.5,287.5 201.2,287.7 201.9,288.0 202.5,289.0 203.2,289.5 203.9,290.0 204.5,290.3 205.5,289.5 205.5,289.8 206.2,288.6 207.3,287.8 208.2,288.8 208.0,288.8 208.6,286.8 209.2,285.1 209.6,284.1 209.7,285.7 210.7,283.8 211.0,284.0 210.7,282.1 211.0,280.2 211.2,279.7 211.4,278.9 211.9,279.2 212.5,279.2 212.6,277.2 213.0,275.5 212.6,276.5 213.3,275.6 213.3,276.6 213.7,277.8 213.9,279.6 214.5,279.8 214.5,279.8 215.0,282.6 215.4,281.4 216.6,280.8 216.8,280.1 217.7,278.7 218.4,279.2 218.7,278.7 219.1,277.1 218.8,277.2 219.8,276.5 219.9,273.5 219.8,272.9 220.5,273.3 220.4,275.3 221.4,275.9 221.3,275.0 221.4,277.3 222.1,276.6 222.6,278.2 222.5,278.6 223.1,279.5 223.6,279.1 224.3,280.2 225.0,280.6 225.2,282.1 225.5,281.3 226.2,279.6 226.3,280.1 226.6,278.7 226.6,277.6 226.9,276.5 226.9,276.3 227.2,275.5 227.8,274.3 227.7,274.3 228.5,272.4 228.6,272.8 229.1,273.7 228.9,273.2 229.6,274.2 229.2,276.6 229.6,275.9 229.9,276.5 230.6,277.6 230.6,278.6 231.2,278.3 231.3,279.4 231.2,281.5 231.7,280.8 232.2,284.0 232.5,283.6 233.0,285.6 232.7,284.7 233.7,287.3 233.9,286.9 235.2,286.8 235.9,286.8 236.3,286.1 236.9,287.0 237.8,286.4 238.8,285.5 240.1,285.0 240.3,285.8 240.7,286.1 241.5,288.6 241.8,289.7 242.7,286.5 243.2,286.6 243.6,285.0 244.0,285.4 244.7,284.7 245.1,286.0 245.1,284.8 245.7,285.9 245.8,287.2 246.5,288.8 247.0,290.5 246.7,288.7 246.7,288.2 247.1,285.9 247.1,286.5 247.3,286.5 247.3,284.0 247.9,284.0 247.3,283.7 247.6,283.3 247.9,282.1 248.2,280.5 248.4,278.3 247.9,279.8 247.7,278.5 248.7,277.8 248.6,275.2 248.4,275.9 248.4,274.6 248.9,274.7 248.5,276.7 249.4,278.1 249.4,277.5 249.8,277.6 249.4,280.5 250.1,280.2 250.3,280.2 250.2,280.9 250.1,282.0 250.1,283.4 250.7,283.9 251.0,284.0 251.1,286.2 251.1,288.1 251.0,287.5 251.4,288.1 252.0,289.5 251.8,289.9 251.8,292.2 252.3,292.1 251.9,292.8 252.0,292.9 252.0,294.7 253.0,295.3 252.8,295.0 252.8,296.4 252.9,296.7 252.9,297.2 253.6,296.6 253.4,293.6 253.3,295.1 253.9,293.4 253.7,293.0 253.5,292.3 253.7,291.9 253.9,290.6 254.1,289.4 254.1,289.8 254.5,287.5 254.4,288.0 254.7,286.5 255.0,284.2 254.8,284.8 254.8,285.0 255.3,282.6 255.4,284.4 255.9,284.1 256.4,284.9 256.2,286.6 257.0,286.6 257.3,289.1 257.7,288.2 257.9,289.5 257.6,290.5 258.0,292.0 258.0,292.2 257.9,291.3 258.1,293.2 258.3,294.1 258.4,295.1 258.4,295.9 258.6,296.4 258.7,297.4 258.7,296.6 258.7,295.8 258.7,295.0 258.7,294.2 258.7,293.4 258.7,292.5 258.7,291.7 258.8,290.9 258.8,290.1 258.8,289.3 258.8,288.5 258.8,287.7 258.8,286.9 258.8,286.1 258.8,285.3 258.8,284.5 258.8,283.7 258.8,282.8 258.8,282.0 258.8,281.2 258.8,280.4 258.9,279.6 258.9,278.8 258.9,278.0 258.9,277.2 258.9,276.4 258.9,275.6 258.9,274.8 258.9,274.0 258.9,273.1 258.9,272.3 258.9,271.5 258.9,270.7 258.9,269.9 258.9,269.1 259.0,268.3 259.0,267.5 259.0,266.7 259.0,265.9 259.0,265.1 259.0,264.3 259.0,263.4 259.0,262.6 259.0,261.8 259.0,261.0 259.0,260.2 259.0,259.4 259.0,258.6 259.0,257.8 259.1,257.0 259.1,256.2 259.1,255.4 259.1,254.6 259.1,253.7 259.1,252.9 259.1,252.1 259.1,251.3 259.1,250.5 259.1,249.7 259.1,248.9 259.1,248.1 259.1,247.3 259.1,246.5 259.2,245.7 259.2,244.9 259.2,244.0 259.2,243.2 259.2,242.4 259.2,241.6 259.2,240.8 259.2,240.0 259.2,240.8 259.2,241.6 259.2,242.4 259.2,243.2 259.2,244.0 259.2,244.8 259.2,245.6 259.2,246.4 259.2,247.2 259.2,248.0 259.2,248.8 259.2,249.6 259.2,250.4 259.2,251.2 259.3,252.1 259.3,252.9 259.3,253.7 259.3,254.5 259.3,255.3 259.3,256.1 259.3,256.9 259.3,257.7 259.3,258.5 259.3,259.3 259.3,260.1 259.3,260.9 259.3,261.7 259.3,262.5 259.3,263.3 259.3,264.1 259.3,264.9 259.3,265.7 259.3,266.5 259.3,267.3 259.3,268.1 259.3,268.9 259.3,269.7 259.3,270.5 259.3,271.3 259.3,272.1 259.3,272.9 259.4,273.8 259.4,274.6 259.4,275.4 259.4,276.2 259.4,277.0 259.4,277.8 259.4,278.6 259.4,279.4 259.4,280.2 259.4,281.0 259.4,281.8 259.4,282.6 259.4,283.4 259.4,284.2 259.4,285.0 259.4,285.8 259.4,286.6 259.4,287.4 259.4,288.2 259.4,289.0 259.4,289.8 259.4,290.6 259.4,291.4 259.4,292.2 259.4,293.0 259.4,293.8 259.4,294.6 259.4,295.4 259.4,296.2 259.5,297.1 259.5,297.9 259.5,298.7 259.5,299.5 259.5,300.3 259.5,301.1 259.5,301.9 259.5,302.7 259.5,303.5 259.5,304.3 259.5,305.1 259.5,305.9 259.5,306.7 259.5,307.5 259.5,308.3 259.5,309.1 259.5,309.9 259.5,310.7 259.5,311.5 259.5,312.3 259.5,313.1 259.5,313.9 259.5,314.7 259.5,315.5 259.5,316.3 259.5,317.1 259.5,317.9 259.6,318.8 259.6,319.6 259.6,320.4 259.6,321.2 259.6,322.0 259.6,322.8 259.6,323.6 259.6,324.4 259.6,325.2 259.6,326.0 259.6,326.8 259.6,327.6 259.6,328.4 259.6,329.2 259.6,330.0 259.6,329.2 259.6,328.4 259.6,327.6 259.6,326.8 259.6,326.0 259.6,325.2 259.6,324.4 259.6,323.6 259.6,322.8 259.6,322.0 259.6,321.2 259.6,320.4 259.6,319.6 259.6,318.8 259.6,318.0 259.7,317.1 259.7,316.3 259.7,315.5 259.7,314.7 259.7,313.9 259.7,313.1 259.7,312.3 259.7,311.5 259.7,310.7 259.7,309.9 259.7,309.1 259.7,308.3 259.7,307.5 259.7,306.7 259.7,305.9 259.7,305.1 259.7,304.3 259.7,303.5 259.7,302.7 259.7,301.9 259.7,301.1 259.7,300.3 259.7,299.5 259.7,298.7 259.7,297.9 259.7,297.1 259.7,296.3 259.7,295.5 259.7,294.7 259.7,293.9 259.7,293.1 259.7,292.3 259.8,291.4 259.8,290.6 259.8,289.8 259.8,289.0 259.8,288.2 259.8,287.4 259.8,286.6 259.8,285.8 259.8,285.0 259.8,284.2 259.8,283.4 259.8,282.6 259.8,281.8 259.8,281.0 259.8,280.2 259.8,279.4 259.8,278.6 259.8,277.8 259.8,277.0 259.8,276.2 259.8,275.4 259.8,274.6 259.8,273.8 259.8,273.0 259.8,272.2 259.8,271.4 259.8,270.6 259.8,269.8 259.8,269.0 259.8,268.2 259.8,267.4 259.8,266.6 259.9,265.7 259.9,264.9 259.9,264.1 259.9,263.3 259.9,262.5 259.9,261.7 259.9,260.9 259.9,260.1 259.9,259.3 259.9,258.5 259.9,257.7 259.9,256.9 259.9,256.1 259.9,255.3 259.9,254.5 259.9,253.7 259.9,252.9 259.9,252.1 259.9,251.3 259.9,250.5 259.9,249.7 259.9,248.9 259.9,248.1 259.9,247.3 259.9,246.5 259.9,245.7 259.9,244.9 259.9,244.1 259.9,243.3 259.9,242.5 259.9,241.7 259.9,240.9 260.0,240.0 260.0,239.2 260.0,238.4 260.0,237.6 260.0,236.8 260.0,236.0 260.0,235.2 260.0,234.4 260.0,233.6 260.0,232.8 260.0,232.0 260.0,231.2 260.0,230.4 260.0,229.6 260.0,228.8 260.0,228.0 260.0,228.8 260.0,229.6 260.0,230.4 260.0,231.2 260.0,232.0 260.0,232.8 260.0,233.6 260.0,234.4 260.0,235.2 260.0,236.0 260.0,236.8 260.1,237.6 260.1,238.4 260.1,239.2 260.1,240.0 260.1,240.8 260.1,241.6 260.1,242.4 260.1,243.2 260.1,244.0 260.1,244.8 260.1,245.6 260.1,246.4 260.1,247.2 260.1,248.0 260.1,248.8 260.1,249.6 260.1,250.4 260.1,251.2 260.1,252.0 260.1,252.8 260.1,253.6 260.1,254.4 260.2,255.2 260.2,256.0 260.2,256.8 260.2,257.6 260.2,258.4 260.2,259.2 260.2,260.0 260.2,260.8 260.2,261.6 260.2,262.4 260.2,263.2 260.2,264.0 260.2,264.8 260.2,265.6 260.2,266.4 260.2,267.2 260.2,268.0 260.2,268.8 260.2,269.6 260.2,270.4 260.2,271.2 260.2,272.0 260.2,272.8 260.3,273.6 260.3,274.4 260.3,275.2 260.3,276.0 260.3,276.8 260.3,277.6 260.3,278.4 260.3,279.2 260.3,280.0 260.3,280.8 260.3,281.6 260.3,282.4 260.3,283.2 260.3,284.0 260.3,284.8 260.3,285.6 260.3,286.4 260.3,287.2 260.3,288.0 260.3,288.8 260.3,289.6 260.3,290.4 260.4,291.2 260.4,292.0 260.4,292.8 260.4,293.6 260.4,294.4 260.4,295.2 260.4,296.0 260.4,296.8 260.4,297.6 260.4,298.4 260.4,299.2 260.4,300.0 260.4,299.2 260.4,298.4 260.4,297.6 260.4,296.8 260.4,296.0 260.4,295.2 260.4,294.4 260.4,293.6 260.4,292.8 260.4,292.0 260.4,291.2 260.4,290.4 260.4,289.6 260.4,288.8 260.4,288.0 260.4,287.2 260.4,286.4 260.4,285.6 260.4,284.7 260.4,283.9 260.4,283.1 260.4,282.3 260.5,281.5 260.5,280.7 260.5,279.9 260.5,279.1 260.5,278.3 260.5,277.5 260.5,276.7 260.5,275.9 260.5,275.1 260.5,274.3 260.5,273.5 260.5,272.7 260.5,271.9 260.5,271.1 260.5,270.3 260.5,269.5 260.5,268.7 260.5,267.9 260.5,267.1 260.5,266.3 260.5,265.5 260.5,264.7 260.5,263.9 260.5,263.1 260.5,262.3 260.5,261.5 260.5,260.7 260.5,259.9 260.5,259.1 260.5,258.3 260.5,257.5 260.5,256.7 260.5,255.8 260.5,255.0 260.5,254.2 260.5,253.4 260.5,252.6 260.5,251.8 260.5,251.0 260.5,250.2 260.5,249.4 260.5,248.6 260.5,247.8 260.5,247.0 260.5,246.2 260.6,245.4 260.6,244.6 260.6,243.8 260.6,243.0 260.6,242.2 260.6,241.4 260.6,240.6 260.6,239.8 260.6,239.0 260.6,238.2 260.6,237.4 260.6,236.6 260.6,235.8 260.6,235.0 260.6,234.2 260.6,233.4 260.6,232.6 260.6,231.8 260.6,231.0 260.6,230.2 260.6,229.4 260.6,228.6 260.6,227.8 260.6,226.9 260.6,226.1 260.6,225.3 260.6,224.5 260.6,223.7 260.6,222.9 260.6,222.1 260.6,221.3 260.6,220.5 260.6,219.7 260.6,218.9 260.6,218.1 260.6,217.3 260.6,216.5 260.6,215.7 260.6,214.9 260.6,214.1 260.6,213.3 260.6,212.5 260.6,211.7 260.6,210.9 260.6,210.1 260.6,209.3 260.7,208.5 260.7,207.7 260.7,206.9 260.7,206.1 260.7,205.3 260.7,204.5 260.7,203.7 260.7,202.9 260.7,202.1 260.7,201.3 260.7,200.5 260.7,199.7 260.7,198.9 260.7,198.0 260.7,197.2 260.7,196.4 260.7,195.6 260.7,194.8 260.7,194.0 260.7,193.2 260.7,192.4 260.7,191.6 260.7,190.8 260.7,190.0 260.7,189.2 260.7,188.4 260.7,187.6 260.7,186.8 260.7,186.0 260.7,185.2 260.7,184.4 260.7,183.6 260.7,182.8 260.7,182.0 260.7,181.2 260.7,180.4 260.7,179.6 260.7,178.8 260.7,178.0 260.7,177.2 260.7,176.4 260.7,175.6 260.7,174.8 260.7,174.0 260.7,173.2 260.8,172.4 260.8,171.6 260.8,170.8 260.8,170.0 260.8,169.1 260.8,168.3 260.8,167.5 260.8,166.7 260.8,165.9 260.8,165.1 260.8,164.3 260.8,163.5 260.8,162.7 260.8,161.9 260.8,161.1 260.8,160.3 260.8,159.5 260.8,158.7 260.8,157.9 260.8,157.1 260.8,156.3 260.8,155.5 260.8,154.7 260.8,155.5 260.8,156.3 260.8,157.1 260.8,157.9 260.8,158.7 260.8,159.5 260.8,160.3 260.8,161.1 260.8,161.9 260.8,162.7 260.8,163.5 260.8,164.3 260.8,165.1 260.9,166.0 260.9,166.8 260.9,167.6 260.9,168.4 260.9,169.2 260.9,170.0 260.9,170.8 260.9,171.6 260.9,172.4 260.9,173.2 260.9,174.0 260.9,174.8 260.9,175.6 260.9,176.4 260.9,177.2 260.9,178.0 260.9,178.8 260.9,179.6 260.9,180.4 260.9,181.2 260.9,182.0 260.9,182.8 260.9,183.6 260.9,184.4 260.9,185.2 260.9,186.0 261.0,186.9 261.0,187.7 261.0,188.5 261.0,189.3 261.0,190.1 261.0,190.9 261.0,191.7 261.0,192.5 261.0,193.3 261.0,194.1 261.0,194.9 261.0,195.7 261.0,196.5 261.0,197.3 261.0,198.1 261.0,198.9 261.0,199.7 261.0,200.5 261.0,201.3 261.0,202.1 261.0,202.9 261.0,203.7 261.0,204.5 261.0,205.3 261.0,206.1 261.0,206.9 261.1,207.8 261.1,208.6 261.1,209.4 261.1,210.2 261.1,211.0 261.1,211.8 261.1,212.6 261.1,213.4 261.1,214.2 261.1,215.0 261.1,215.8 261.1,216.6 261.1,217.4 261.1,218.2 261.1,219.0 261.1,219.8 261.1,220.6 261.1,221.4 261.1,222.2 261.1,223.0 261.1,223.8 261.1,224.6 261.1,225.4 261.1,226.2 261.1,227.0 261.1,227.8 261.2,228.7 261.2,229.5 261.2,230.3 261.2,231.1 261.2,231.9 261.2,232.7 261.2,233.5 261.2,234.3 261.2,235.1 261.2,235.9 261.2,236.7 261.2,237.5 261.2,238.3 261.2,239.1 261.2,239.9 261.2,240.7 261.2,241.5 261.2,242.3 261.2,243.1 261.2,243.9 261.2,244.7 261.2,245.5 261.2,246.3 261.2,247.1 261.2,247.9 261.2,248.7 261.3,249.6 261.3,250.4 261.3,251.2 261.3,252.0 261.3,252.8 261.3,253.6 261.3,254.4 261.3,255.2 261.3,256.0 261.3,256.8 261.3,257.6 261.3,258.4 261.3,259.2 261.3,260.0 261.3,259.2 261.3,258.4 261.3,257.6 261.3,256.8 261.3,256.0 261.3,255.2 261.3,254.4 261.3,253.6 261.3,252.8 261.3,252.0 261.3,251.2 261.4,250.4 261.4,249.6 261.4,248.8 261.4,247.9 261.4,247.1 261.4,246.3 261.4,245.5 261.4,244.7 261.4,243.9 261.4,243.1 261.4,242.3 261.4,241.5 261.4,240.7 261.4,239.9 261.4,239.1 261.4,238.3 261.4,237.5 261.4,236.7 261.4,235.9 261.4,235.1 261.4,234.3 261.4,233.5 261.5,232.7 261.5,231.9 261.5,231.1 261.5,230.3 261.5,229.5 261.5,228.7 261.5,227.9 261.5,227.1 261.5,226.2 261.5,225.4 261.5,224.6 261.5,223.8 261.5,223.0 261.5,222.2 261.5,221.4 261.5,220.6 261.5,219.8 261.5,219.0 261.5,218.2 261.5,217.4 261.5,216.6 261.5,215.8 261.6,215.0 261.6,214.2 261.6,213.4 261.6,212.6 261.6,211.8 261.6,211.0 261.6,210.2 261.6,209.4 261.6,208.6 261.6,207.8 261.6,207.0 261.6,206.2 261.6,205.4 261.6,204.6 261.6,203.8 261.6,202.9 261.6,202.1 261.6,201.3 261.6,200.5 261.6,199.7 261.6,198.9 261.6,198.1 261.6,197.3 261.7,196.5 261.7,195.7 261.7,194.9 261.7,194.1 261.7,193.3 261.7,192.5 261.7,191.7 261.7,190.9 261.7,190.1 261.7,189.3 261.7,188.5 261.7,187.7 261.7,186.9 261.7,186.1 261.7,185.3 261.7,184.5 261.7,183.7 261.7,182.9 261.7,182.1 261.7,181.2 261.7,180.4 261.7,179.6 261.8,178.8 261.8,178.0 261.8,177.2 261.8,176.4 261.8,175.6 261.8,174.8 261.8,174.0 261.8,173.2 261.8,172.4 261.8,171.6 261.8,170.8 261.8,170.0 261.8,170.8 261.8,171.6 261.8,172.4 261.8,173.2 261.8,174.0 261.8,174.8 261.8,175.6 261.8,176.4 261.8,177.2 261.9,178.0 261.9,178.8 261.9,179.6 261.9,180.4 261.9,181.2 261.9,182.0 261.9,182.8 261.9,183.6 261.9,184.4 261.9,185.2 261.9,186.0 261.9,186.8 261.9,187.6 261.9,188.4 261.9,189.2 261.9,190.0 261.9,190.8 261.9,191.6 261.9,192.4 261.9,193.2 261.9,194.0 262.0,194.8 262.0,195.6 262.0,196.4 262.0,197.2 262.0,198.0 262.0,198.8 262.0,199.6 262.0,200.4 262.0,201.2 262.0,202.0 262.0,202.8 262.0,203.6 262.0,204.4 262.0,205.2 262.0,206.0 262.0,206.8 262.0,207.6 262.0,208.4 262.0,209.2 262.1,210.0 262.1,210.8 262.1,211.6 262.1,212.4 262.1,213.2 262.1,214.0 262.1,214.8 262.1,215.6 262.1,216.4 262.1,217.2 262.1,218.0 262.1,218.8 262.1,219.6 262.1,220.4 262.1,221.2 262.1,222.0 262.1,222.8 262.1,223.6 262.1,224.4 262.1,225.2 262.2,226.0 262.2,226.8 262.2,227.6 262.2,228.4 262.2,229.2 262.2,230.0 262.2,230.8 262.2,231.6 262.2,232.4 262.2,233.2 262.2,234.0 262.2,234.8 262.2,235.6 262.2,236.4 262.2,237.2 262.2,238.0 262.2,238.8 262.2,239.6 262.2,240.4 262.2,241.2 262.2,242.0 262.3,242.8 262.3,243.6 262.3,244.4 262.3,245.2 262.3,246.0 262.3,246.8 262.3,247.6 262.3,248.4 262.3,249.2 262.3,250.0 262.3,249.2 262.3,248.4 262.3,247.6 262.3,246.8 262.3,246.0 262.3,245.2 262.3,244.4 262.3,243.6 262.4,242.8 262.4,242.0 262.4,241.1 262.4,240.3 262.4,239.5 262.4,238.7 262.4,237.9 262.4,237.1 262.4,236.3 262.4,235.5 262.4,234.7 262.4,233.9 262.4,233.1 262.4,232.3 262.4,231.5 262.4,230.7 262.4,229.9 262.4,229.1 262.5,228.3 262.5,227.5 262.5,226.7 262.5,225.9 262.5,225.1 262.5,224.3 262.5,223.4 262.5,222.6 262.5,221.8 262.5,221.0 262.5,220.2 262.5,219.4 262.5,218.6 262.5,217.8 262.5,217.0 262.5,216.2 262.5,215.4 262.6,214.6 262.6,213.8 262.6,213.0 262.6,212.2 262.6,211.4 262.6,210.6 262.6,209.8 262.6,209.0 262.6,208.2 262.6,207.4 262.6,206.6 262.6,205.7 262.6,204.9 262.6,204.1 262.6,203.3 262.6,202.5 262.6,201.7 262.7,200.9 262.7,200.1 262.7,199.3 262.7,198.5 262.7,197.7 262.7,196.9 262.7,196.1 262.7,195.3 262.7,194.5 262.7,193.7 262.7,192.9 262.7,192.1 262.7,191.3 262.7,190.5 262.7,189.7 262.7,188.9 262.7,188.0 262.7,187.2 262.8,186.4 262.8,185.6 262.8,184.8 262.8,184.0 262.8,183.2 262.8,182.4 262.8,181.6 262.8,180.8 262.8,180.0 262.8,180.8 262.8,181.6 262.8,182.4 262.8,183.2 262.8,184.0 262.8,184.8 262.9,185.6 262.9,186.5 262.9,187.3 262.9,188.1 262.9,188.9 262.9,189.7 262.9,190.5 262.9,191.3 262.9,192.1 262.9,192.9 262.9,193.7 262.9,194.5 263.0,195.3 263.0,196.1 263.0,196.9 263.0,197.7 263.0,198.5 263.0,199.4 263.0,200.2 263.0,201.0 263.0,201.8 263.0,202.6 263.0,203.4 263.0,204.2 263.1,205.0 263.1,205.8 263.1,206.6 263.1,207.4 263.1,208.2 263.1,209.0 263.1,209.8 263.1,210.6 263.1,211.5 263.1,212.3 263.1,213.1 263.1,213.9 263.1,214.7 263.2,215.5 263.2,216.3 263.2,217.1 263.2,217.9 263.2,218.7 263.2,219.5 263.2,220.3 263.2,221.1 263.2,221.9 263.2,222.7 263.2,223.5 263.2,224.4 263.3,225.2 263.3,226.0 263.3,226.8 263.3,227.6 263.3,228.4 263.3,229.2 263.3,230.0 263.3,229.2 263.3,228.4 263.3,227.6 263.3,226.8 263.3,226.0 263.3,225.2 263.3,224.3 263.4,223.5 263.4,222.7 263.4,221.9 263.4,221.1 263.4,220.3 263.4,219.5 263.4,218.7 263.4,217.9 263.4,217.1 263.4,216.3 263.4,215.5 263.4,214.7 263.4,213.9 263.4,213.0 263.4,212.2 263.4,211.4 263.4,210.6 263.5,209.8 263.5,209.0 263.5,208.2 263.5,207.4 263.5,206.6 263.5,205.8 263.5,205.0 263.5,204.2 263.5,203.4 263.5,202.6 263.5,201.7 263.5,200.9 263.5,200.1 263.5,199.3 263.5,198.5 263.6,197.7 263.6,196.9 263.6,196.1 263.6,195.3 263.6,194.5 263.6,193.7 263.6,192.9 263.6,192.1 263.6,191.2 263.6,190.4 263.6,189.6 263.6,188.8 263.6,188.0 263.6,187.2 263.6,186.4 263.6,185.6 263.6,184.8 263.7,184.0 263.7,183.2 263.7,182.4 263.7,181.6 263.7,180.8 263.7,179.9 263.7,179.1 263.7,178.3 263.7,177.5 263.7,176.7 263.7,175.9 263.7,175.1 263.7,174.3 263.7,173.5 263.7,172.7 263.8,171.9 263.8,171.1 263.8,170.3 263.8,169.5 263.8,168.6 263.8,167.8 263.8,167.0 263.8,166.2 263.8,165.4 263.8,164.6 263.8,163.8 263.8,163.0 263.8,162.2 263.8,161.4 263.8,160.6 263.8,159.8 263.8,159.0 263.9,158.2 263.9,157.3 263.9,156.5 263.9,155.7 263.9,154.9 263.9,154.1 263.9,153.3 263.9,152.5 263.9,153.3 263.9,154.1 263.9,154.9 263.9,155.7 263.9,156.5 263.9,157.3 263.9,158.1 264.0,158.9 264.0,159.7 264.0,160.5 264.0,161.3 264.0,162.1 264.0,162.9 264.0,163.7 264.0,164.5 264.0,165.3 264.0,166.1 264.0,166.9 264.0,167.7 264.0,168.5 264.0,169.3 264.0,170.1 264.0,170.9 264.1,171.7 264.1,172.5 264.1,173.3 264.1,174.1 264.1,174.9 264.1,175.7 264.1,176.5 264.1,177.3 264.1,178.1 264.1,178.9 264.1,179.7 264.1,180.5 264.1,181.3 264.1,182.1 264.1,182.9 264.1,183.8 264.2,184.6 264.2,185.4 264.2,186.2 264.2,187.0 264.2,187.8 264.2,188.6 264.2,189.4 264.2,190.2 264.2,191.0 264.2,191.8 264.2,192.6 264.2,193.4 264.2,194.2 264.2,195.0 264.2,195.8 264.3,196.6 264.3,197.4 264.3,198.2 264.3,199.0 264.3,199.8 264.3,200.6 264.3,201.4 264.3,202.2 264.3,203.0 264.3,203.8 264.3,204.6 264.3,205.4 264.3,206.2 264.3,207.0 264.3,207.8 264.3,208.6 264.4,209.4 264.4,210.2 264.4,211.0 264.4,211.8 264.4,212.6 264.4,213.4 264.4,214.2 264.4,215.0 264.4,214.2 264.4,213.4 264.4,212.6 264.4,211.8 264.4,211.0 264.5,210.2 264.5,209.4 264.5,208.6 264.5,207.8 264.5,207.0 264.5,206.2 264.5,205.4 264.5,204.6 264.5,203.8 264.5,203.0 264.6,202.2 264.6,201.4 264.6,200.6 264.6,199.8 264.6,199.0 264.6,198.2 264.6,197.4 264.6,196.6 264.6,195.8 264.6,195.0 264.7,194.2 264.7,193.4 264.7,192.6 264.7,191.8 264.7,191.0 264.7,190.2 264.7,189.4 264.7,188.6 264.7,187.8 264.8,187.0 264.8,186.2 264.8,185.4 264.8,184.6 264.8,183.8 264.8,183.0 264.8,182.2 264.8,181.4 264.8,180.6 264.8,179.8 264.8,179.0 264.9,178.2 264.9,177.4 264.9,176.6 264.9,175.8 265.0,174.9 264.8,176.0 264.9,176.4 265.0,177.6 264.9,178.3 265.0,179.0 265.0,180.1 265.0,180.8 265.0,181.6 265.0,182.4 265.0,183.2 265.0,184.1 265.1,184.9 265.1,185.6 265.1,186.5 265.1,187.0 265.2,188.2 265.1,188.8 265.2,189.8 265.2,190.3 265.2,191.3 265.2,192.2 265.2,192.9 265.2,193.6 265.3,194.5 265.2,195.5 265.3,196.4 265.3,197.1 265.4,197.9 265.2,198.6 265.3,199.4 265.4,200.4 265.4,201.2 265.3,201.8 265.4,202.6 265.4,203.3 265.4,204.5 265.4,204.9 265.4,205.8 265.5,206.8 265.4,207.7 265.5,208.4 265.4,209.4 265.5,210.2 265.7,209.4 265.9,208.5 266.0,207.1 266.4,206.8 266.4,206.0 266.7,205.4 267.2,204.9 267.3,203.4 267.3,205.3 267.7,204.8 267.4,206.2 267.2,207.2 267.5,207.3 267.3,208.9 267.7,208.7 267.6,210.9 267.6,211.9 267.4,211.3 267.8,212.6 267.6,213.5 267.6,213.4 267.3,214.4 267.7,215.2 267.5,216.1 267.6,217.9 267.7,218.8 267.7,218.6 267.6,220.8 267.5,221.4 267.5,221.4 267.6,221.8 267.4,223.9 267.4,223.5 267.2,224.8 267.1,225.2 266.9,226.9 266.8,227.3 266.9,228.7 267.6,227.9 268.7,227.6 268.7,229.0 268.9,228.4 268.7,230.0 268.6,230.3 268.6,231.3 268.8,231.6 269.0,233.6 268.8,233.4 268.9,235.3 268.8,236.0 269.3,236.1 268.9,237.5 269.3,237.6 268.9,238.8 269.1,239.1 269.5,239.8 269.5,241.0 269.3,242.1 269.6,242.9 269.8,243.9 269.7,244.3 270.0,246.3 270.3,246.0 270.3,247.0 270.4,247.4 270.5,248.8 270.6,250.5 270.6,251.2 271.4,251.0 271.5,253.0 271.5,253.4 272.0,253.9 272.2,254.6 272.5,255.2 272.1,255.8 272.0,256.8 271.9,258.0 271.8,259.2 271.8,258.9 271.9,259.9 272.4,258.5 272.5,257.1 272.4,256.2 273.1,255.7 273.1,254.7 273.1,254.4 273.4,254.1 274.0,252.0 274.2,251.1 274.6,250.8 275.1,250.2 275.3,250.4 275.9,249.7 276.1,248.4 276.9,247.1 277.1,247.7 277.3,248.3 277.6,250.4 277.5,250.0 278.0,250.9 278.2,251.8 278.6,252.9 278.8,253.5 279.0,254.8 279.4,255.5 279.5,256.1 280.0,256.1 280.0,257.6 280.3,258.6 280.5,259.3 280.9,258.9 281.3,260.3 281.6,261.5 282.4,262.3 282.4,263.6 283.2,263.5 283.6,264.6 283.4,264.3 283.9,266.8 284.3,267.4 284.9,268.3 285.3,267.7 285.9,268.1 286.1,269.3 286.8,270.2 286.9,270.3 287.4,271.5 288.1,271.5 288.8,273.3 288.8,274.0 289.7,273.9 289.7,274.8 290.4,276.6 290.9,275.9 291.5,278.1 291.9,277.5 292.3,278.9 293.0,279.0 293.6,279.8 294.3,279.9 294.9,282.0 295.6,280.3 296.3,280.0 297.4,279.9 297.9,280.2 298.7,280.1 299.5,281.3 299.8,281.4 300.1,282.7 300.4,283.8 300.6,282.9 301.0,282.0 301.2,281.4 301.4,280.7 301.7,279.9 302.0,279.0 302.3,278.5 302.6,277.6 302.8,276.9 303.4,276.0 304.1,275.5 304.7,274.9 305.4,274.3 305.9,273.8 306.6,274.3 307.0,275.1 307.6,275.9 308.1,276.4 308.6,277.3 309.2,277.8 309.8,278.6 310.5,279.2 311.1,279.6 311.7,280.3 312.4,280.8 313.2,280.5 314.1,280.0 315.0,279.9 315.8,279.3 316.7,279.0 317.4,279.6 318.2,280.1 318.9,280.4 319.6,281.1 320.3,281.6 321.0,282.2 321.7,281.6 322.5,281.2 323.1,280.3 323.8,279.8 324.6,279.5 325.2,278.9 325.9,278.4 326.7,277.7 327.4,277.1 328.0,276.7 328.7,276.2 329.5,275.7 330.4,276.4 331.1,276.9 331.9,277.4 332.6,277.8 333.3,278.4 334.0,278.8 334.5,279.5 335.2,280.3 335.8,280.9 336.3,281.5 337.0,282.2 337.4,281.4 337.9,280.5 338.4,279.8 338.9,279.1 339.4,278.7 339.7,277.7 340.3,277.0 340.7,276.4 341.2,275.9 341.5,276.3 341.9,277.0 342.2,278.1 342.5,278.5 342.9,279.6 343.2,280.0 343.6,281.1 343.8,281.5 344.2,282.2 344.5,283.1 345.1,283.0 345.6,285.2 346.0,284.3 346.7,285.6 347.5,286.2 347.5,287.4 348.4,285.8 349.4,285.9 350.4,285.0 350.6,285.3 351.5,285.5 351.9,284.6 352.2,283.3 352.5,281.9 353.2,279.9 353.2,280.2 353.4,279.3 353.0,279.0 353.1,278.0 353.8,277.0 353.5,276.7 353.5,276.3 353.5,275.5 353.6,274.6 353.9,273.0 354.0,272.7 354.5,270.5 354.3,269.6 354.6,268.6 354.4,268.2 354.8,267.3 355.0,268.0 354.5,267.6 355.2,266.2 355.2,264.3 354.9,263.6 355.5,265.5 355.0,265.0 355.4,266.4 355.2,266.3 355.3,267.6 355.3,268.3 355.7,270.3 355.7,270.0 355.5,270.2 356.1,271.3 355.9,272.4 355.6,274.0 356.1,273.3 356.2,276.2 356.0,275.9 356.5,277.3 356.5,275.9 356.6,274.8 356.2,273.9 356.4,273.0 357.0,271.8 356.9,271.5 356.7,272.4 357.0,270.7 357.2,268.6 357.0,267.8 357.4,268.4 357.5,267.4 357.0,266.4 357.7,266.7 357.8,263.7 357.9,264.0 357.8,262.2 358.1,262.9 357.9,262.4 357.9,260.4 357.9,259.1 358.3,259.4 358.3,259.1 358.3,257.5 358.4,257.9 358.8,259.9 358.5,259.5 359.0,260.4 358.8,261.2 358.9,261.8 358.9,262.6 359.3,264.7 359.1,266.2 359.7,267.2 359.9,267.4 361.0,266.6 361.4,269.1 361.9,267.9 361.8,269.7 362.7,271.2 363.1,270.8 362.9,272.7 363.3,273.8 363.8,273.1 364.7,273.1 365.3,275.9 365.7,274.6 366.0,275.1 366.9,275.8 367.6,277.6 368.1,277.9 368.2,279.1 368.4,278.9 369.3,279.9 369.9,282.0 369.9,282.2 371.0,281.0 371.8,280.4 372.1,281.5 373.2,281.3 373.3,282.7 373.8,283.2 374.5,282.8 374.3,283.8 374.8,286.0 375.1,284.8 375.6,287.3 376.5,287.8 376.9,287.2 377.6,288.7 378.9,288.2 379.1,286.6 379.2,287.2 379.8,285.9 380.2,286.6 381.1,285.6 381.2,283.1 381.5,284.2 382.4,283.2 383.4,285.4 383.5,285.8 384.1,284.8 384.8,286.8 385.2,285.3 385.7,284.1 386.0,284.5 386.0,282.1 386.2,282.0 386.3,280.5 387.1,279.6 387.6,278.8 387.9,280.4 389.1,279.8 389.4,281.9 390.5,280.1 391.1,279.4 391.4,280.1 391.8,279.8 392.2,277.3 393.2,278.7 393.7,277.1 394.3,277.2 394.6,278.6 394.9,280.1 395.7,279.2 396.1,280.8 397.0,280.6 397.5,280.8 398.2,281.7 398.9,281.0 400.2,281.0 400.8,280.1 401.7,280.2 402.7,280.1 403.5,279.8 404.4,279.6 405.4,279.2 406.2,279.0 407.0,279.1 408.0,279.1 408.9,278.8 409.7,278.8 410.7,278.8 411.6,279.0 412.5,279.2 413.4,279.5 414.3,280.0 415.1,280.1 416.0,280.4 416.9,280.4 417.8,280.2 418.7,280.2 419.6,279.9 420.5,280.2 421.3,279.7 422.3,280.1 423.2,280.4 424.1,280.4 424.9,280.8 425.8,281.0 426.6,281.6 427.5,281.7 428.2,281.8 428.9,282.5 429.8,282.8 430.5,283.2 431.2,283.2 432.0,283.7 432.8,283.6 433.6,283.4 434.3,283.3 435.1,283.2 436.1,283.2 436.8,282.9 437.5,283.1 438.3,283.1 439.2,282.9 440.0,282.9 440.8,282.9 441.6,282.7 442.4,282.6 443.1,282.4 443.9,282.5 444.8,282.7 445.6,282.6 446.4,282.2 447.2,282.3 448.0,282.5 448.8,282.3 449.5,282.3 450.3,282.3 451.2,282.0 452.1,282.1 453.0,281.8 454.0,281.3 454.8,281.0 455.7,280.9 456.7,280.9 457.3,281.5 458.0,281.5 458.8,282.1 459.5,282.9 460.1,283.1 460.9,283.7 461.4,284.4 461.9,284.7 462.5,285.6 462.9,286.4 463.5,286.9 464.0,287.6 464.6,288.2 465.1,288.9 465.6,289.6 466.2,290.0 466.7,289.2 467.3,288.5 467.8,287.9 468.3,287.2 469.1,286.4 469.8,285.3 470.5,284.5 471.2,284.1 472.1,283.6 472.9,283.4 473.7,283.0 474.3,283.3 475.1,283.7 475.9,284.3 476.5,284.7 477.2,285.4 477.9,285.8 478.8,285.7 479.7,286.0 480.4,286.3 481.4,286.6 482.2,286.9 482.8,287.3 483.6,288.3 484.3,288.7 485.0,289.4 485.7,290.0 486.2,290.9 486.8,291.6 487.5,292.1 488.2,291.7 488.9,291.1 489.6,290.6 490.3,290.0 491.1,289.2 491.7,288.8 492.6,288.3 493.3,288.0 494.1,288.0 494.8,287.4 495.6,286.9 496.4,286.7 497.2,286.5 497.9,286.5 498.7,287.1 499.3,287.8 500.0,288.2 500.7,288.3 501.4,289.0 502.3,288.5 503.1,288.4 504.0,288.1 504.8,288.0 505.7,287.7 506.4,288.4 507.2,288.6 507.8,289.1 508.5,289.8 509.2,290.3 510.0,290.5 510.6,291.0" fill="none" stroke="#1414ff" stroke-width="1.05" stroke-linejoin="round" />
<polyline points="59.8,284.2 60.6,284.0 61.5,283.6 62.3,283.7 63.2,283.3 64.2,283.2 65.0,283.0 65.8,282.6 66.7,282.7 67.5,282.4 68.3,281.9 69.2,281.9 69.9,281.4 70.8,281.4 71.7,281.4 72.6,281.2 73.4,280.9 74.3,280.8 75.2,280.2 76.0,280.1 76.9,280.0 77.7,279.8 78.5,279.6 79.3,279.5 80.1,279.5 81.0,279.3 81.8,279.2 82.6,278.7 83.5,278.6 84.4,277.9 85.2,277.3 86.0,277.0 86.6,276.3 87.4,276.2 87.9,275.6 88.7,274.8 89.3,274.5 90.0,273.7 90.6,273.1 91.2,272.6 91.8,272.2 92.3,271.6 92.8,270.6 93.4,269.9 94.0,269.5 94.6,268.7 95.1,268.4 95.7,267.8 96.4,266.8 96.9,266.3 97.5,265.6 98.0,265.0 98.7,264.3 99.1,263.7 99.5,262.9 100.1,262.3 100.5,261.4 101.0,261.0 101.5,260.4 102.2,259.6 102.8,259.1 103.3,258.5 103.9,258.0 104.7,257.9 105.7,259.0 106.4,258.3 107.4,257.8 108.2,257.5 109.1,257.7 109.8,256.5 110.7,255.2 111.3,255.6 111.9,254.4 112.9,254.0 113.3,253.9 114.4,253.8 115.1,254.5 116.1,254.1 116.9,253.1 116.9,253.0 117.4,251.9 117.4,250.6 117.8,249.9 118.2,250.1 118.2,248.4 118.8,248.2 119.0,247.0 119.0,247.7 119.6,248.4 119.6,249.5 119.9,250.3 120.4,250.6 120.2,252.7 120.9,253.6 121.0,254.3 121.7,252.6 122.2,252.9 122.7,251.8 123.3,251.4 124.1,250.8 125.3,250.8 126.4,250.1 127.2,250.6 128.0,250.5 128.7,249.5 129.3,250.0 130.4,249.5 131.4,249.3 132.0,249.5 132.8,248.0 133.3,249.6 134.1,250.3 134.7,250.1 135.9,251.0 136.8,250.9 137.7,250.1 138.2,248.0 138.7,248.6 139.2,247.2 140.1,247.2 140.4,246.3 140.8,244.7 140.6,244.1 140.9,243.1 141.5,243.5 141.3,242.1 141.6,241.0 141.8,240.6 142.1,239.3 142.2,238.4 142.3,239.6 142.7,240.2 142.6,240.7 142.9,242.2 143.3,242.7 143.4,243.9 143.4,244.3 143.6,245.7 143.8,246.5 144.3,245.1 145.0,245.0 145.3,243.9 145.9,245.5 146.6,245.5 147.0,247.1 147.1,247.4 147.6,248.6 148.3,249.4 148.9,249.7 149.3,248.6 149.4,247.8 149.8,246.2 150.6,245.2 150.7,244.5 151.5,245.3 151.5,247.1 151.9,247.8 152.6,248.5 153.3,248.9 153.7,248.9 154.2,250.4 155.0,249.2 155.8,250.0 156.3,248.5 157.3,248.8 157.5,248.6 157.8,250.2 158.4,250.6 158.5,251.5 158.8,252.4 159.1,253.3 159.9,254.0 160.2,254.4 160.6,256.2 160.8,256.6 161.0,257.6 161.5,257.6 161.4,259.3 162.0,259.7 162.0,260.8 162.2,260.9 162.5,262.1 162.8,262.4 163.3,264.3 163.4,264.7 163.8,265.7 164.2,265.6 164.4,266.0 164.8,267.3 164.8,266.4 165.0,266.2 165.0,265.7 165.3,264.3 165.4,263.8 165.7,262.5 165.6,261.9 165.9,260.5 166.0,260.6 166.0,258.6 166.1,258.4 166.5,257.9 166.8,255.9 166.7,255.0 166.9,254.8 167.5,254.2 167.7,253.5 168.3,252.1 169.1,250.8 169.0,252.8 169.4,252.8 169.7,254.1 169.7,254.4 170.1,255.4 170.2,256.4 170.8,256.8 170.9,257.3 171.0,259.0 171.2,260.2 171.9,259.8 172.1,261.1 172.3,262.6 172.4,261.6 172.8,261.0 172.9,260.1 173.5,259.1 173.6,257.4 174.1,257.0 174.6,256.8 175.0,255.3 175.8,256.7 176.3,257.9 177.3,257.4 178.2,257.7 178.7,258.9 179.6,258.9 180.1,259.4 180.4,260.1 180.7,261.0 181.2,261.6 181.6,262.2 182.0,262.9 182.4,263.5 182.8,264.3 183.4,265.0 183.8,265.7 184.4,266.5 184.9,267.2 185.4,267.6 185.9,268.2 186.7,269.0 187.3,269.3 188.0,270.1 188.7,270.6 189.3,270.9 190.0,271.5 190.8,272.0 191.6,272.1 192.4,272.4 193.2,273.1 194.1,273.1 194.7,273.8 195.4,274.5 196.0,274.7 196.7,275.3 197.3,276.0 197.9,276.5 198.8,276.8 199.6,277.2 200.4,277.6 201.1,278.0 202.0,278.2 202.8,278.6 203.7,278.4 204.4,278.9 204.8,277.6 205.8,276.1 206.4,279.1 206.5,279.8 207.2,278.7 207.7,280.7 208.0,281.8 208.2,281.7 208.6,284.0 209.0,283.5 209.2,284.5 209.0,284.1 209.3,285.3 209.6,286.9 210.4,287.8 210.4,288.9 210.6,289.2 211.1,289.8 210.8,291.9 211.3,291.4 211.2,292.6 211.4,292.6 211.1,293.3 211.8,294.0 211.7,294.9 211.6,295.6 211.9,296.4 211.7,297.1 211.9,298.9 211.9,298.5 212.4,300.3 212.7,298.5 212.6,298.6 212.4,299.3 212.7,296.2 213.0,295.6 213.3,295.3 213.0,293.7 213.6,293.5 213.8,293.2 214.1,292.0 213.7,291.1 214.2,291.2 214.2,289.0 214.7,290.5 215.0,287.2 214.8,286.6 215.2,285.7 215.5,286.5 216.4,284.5 216.8,284.4 217.4,286.1 218.3,284.4 218.6,286.4 219.4,285.8 219.1,288.6 219.2,288.2 219.6,289.8 220.3,289.3 220.4,291.5 220.7,291.8 221.1,292.1 220.9,292.6 221.4,294.0 221.4,292.4 222.2,292.8 222.6,291.4 222.9,290.0 223.4,288.9 223.7,290.0 224.3,287.5 224.5,288.6 225.3,287.9 225.9,286.0 226.4,285.9 226.6,284.4 227.0,283.8 228.3,282.5 228.6,281.9 228.7,283.9 229.3,283.0 229.7,285.2 230.5,284.2 230.7,287.3 231.5,286.5 232.4,287.2 233.4,287.5 234.1,286.1 234.5,286.3 235.6,286.9 235.6,289.6 236.4,289.8 237.0,289.2 237.5,291.0 238.3,291.3 238.8,292.8 239.6,292.0 239.9,289.9 240.4,290.3 240.6,288.5 240.6,288.4 241.0,286.6 240.9,286.9 240.9,286.2 241.6,285.1 241.8,284.8 241.7,283.3 242.5,282.5 242.3,282.6 242.5,283.6 243.3,285.9 243.6,287.4 243.7,288.0 243.9,287.5 244.5,289.5 244.9,289.3 244.9,288.3 245.2,288.8 244.8,288.0 244.9,285.0 245.4,284.7 245.4,284.8 245.2,284.3 245.5,282.7 245.7,282.7 246.2,280.7 245.8,279.9 246.2,278.5 246.2,279.5 246.8,279.3 247.1,278.2 246.8,275.5 247.2,277.1 247.7,278.1 248.0,279.7 248.3,279.5 249.2,281.2 249.1,280.5 249.7,279.1 249.3,279.7 249.7,277.9 249.5,277.2 250.2,277.1 250.5,277.1 250.6,274.4 250.1,273.5 250.4,273.6 250.3,273.3 250.4,271.9 250.7,272.4 250.9,270.2 250.7,269.8 251.3,269.7 251.6,269.2 251.2,266.7 251.7,267.6 251.6,266.9 251.7,264.6 251.5,263.1 252.0,264.6 252.3,262.7 252.2,263.1 252.4,261.5 252.2,260.4 252.1,258.8 252.6,260.1 252.7,257.8 252.6,257.1 253.1,256.3 253.3,254.7 252.9,254.9 253.1,254.9 253.6,254.3 253.5,251.2 253.6,251.7 253.6,250.2 253.9,251.1 253.6,249.6 253.9,248.4 254.4,248.8 254.4,246.0 254.8,245.2 254.5,246.1 254.6,243.8 255.3,244.8 255.0,242.5 255.1,241.0 255.3,242.4 255.3,239.7 255.6,238.5 256.0,239.4 256.4,238.3 256.6,235.9 256.3,237.6 256.3,235.0 256.7,234.2 256.8,232.8 256.7,234.4 256.7,233.5 257.1,231.8 257.2,230.9 257.3,229.8 257.4,229.1 257.5,228.5 257.6,227.4 257.8,226.8 257.8,225.8 257.8,225.4 257.8,224.2 257.8,223.4 257.8,222.9 257.8,221.7 257.9,221.3 257.9,220.1 257.9,219.6 257.9,218.7 257.9,217.6 257.9,217.1 258.0,216.1 257.9,215.3 258.0,214.5 258.0,213.5 258.0,213.0 258.0,212.0 258.0,211.2 258.0,210.4 258.0,209.6 258.0,208.8 258.0,208.0 258.0,207.2 258.0,206.4 258.1,205.6 258.1,204.8 258.1,204.0 258.1,203.2 258.1,202.3 258.1,201.5 258.1,200.7 258.1,199.9 258.1,199.1 258.1,198.3 258.1,197.5 258.1,196.7 258.1,195.9 258.1,195.1 258.1,194.3 258.1,193.5 258.2,192.7 258.2,191.9 258.2,191.1 258.2,190.3 258.2,189.5 258.2,188.7 258.2,187.9 258.2,187.1 258.2,186.3 258.2,185.5 258.2,184.7 258.2,183.8 258.2,183.0 258.2,182.2 258.2,181.4 258.3,180.6 258.3,179.8 258.3,179.0 258.3,178.2 258.3,177.4 258.3,176.6 258.3,175.8 258.3,175.0 258.3,175.8 258.3,176.6 258.3,177.4 258.3,178.2 258.3,179.0 258.3,179.8 258.3,180.6 258.3,181.4 258.3,182.2 258.3,183.0 258.3,183.8 258.3,184.6 258.3,185.4 258.3,186.2 258.3,187.0 258.3,187.8 258.3,188.7 258.3,189.5 258.3,190.3 258.3,191.1 258.3,191.9 258.3,192.7 258.3,193.5 258.3,194.3 258.3,195.1 258.3,195.9 258.3,196.7 258.3,197.5 258.3,198.3 258.3,199.1 258.3,199.9 258.3,200.7 258.4,201.5 258.4,202.3 258.4,203.1 258.4,203.9 258.4,204.7 258.4,205.5 258.4,206.3 258.4,207.1 258.4,207.9 258.4,208.7 258.4,209.5 258.4,210.3 258.4,211.1 258.4,211.9 258.4,212.7 258.4,213.5 258.4,214.4 258.4,215.2 258.4,216.0 258.4,216.8 258.4,217.6 258.4,218.4 258.4,219.2 258.4,220.0 258.4,220.8 258.4,221.6 258.4,222.4 258.4,223.2 258.4,224.0 258.4,224.8 258.4,225.6 258.4,226.4 258.4,227.2 258.4,228.0 258.4,228.8 258.4,229.6 258.4,230.4 258.4,231.2 258.4,232.0 258.4,232.8 258.4,233.6 258.4,234.4 258.4,235.2 258.4,236.0 258.4,236.8 258.4,237.6 258.4,238.4 258.4,239.2 258.4,240.1 258.4,240.9 258.4,241.7 258.4,242.5 258.4,243.3 258.4,244.1 258.4,244.9 258.4,245.7 258.4,246.5 258.4,247.3 258.4,248.1 258.4,248.9 258.4,249.7 258.4,250.5 258.4,251.3 258.4,252.1 258.5,252.9 258.5,253.7 258.5,254.5 258.5,255.3 258.5,256.1 258.5,256.9 258.5,257.7 258.5,258.5 258.5,259.3 258.5,260.1 258.5,260.9 258.5,261.7 258.5,262.5 258.5,263.3 258.5,264.1 258.5,264.9 258.5,265.8 258.5,266.6 258.5,267.4 258.5,268.2 258.5,269.0 258.5,269.8 258.5,270.6 258.5,271.4 258.5,272.2 258.5,273.0 258.5,273.8 258.5,274.6 258.5,275.4 258.5,276.2 258.5,277.0 258.5,277.8 258.5,278.6 258.5,279.4 258.5,280.2 258.5,281.0 258.5,281.8 258.5,282.6 258.5,283.4 258.5,284.2 258.5,285.0 258.5,285.8 258.5,286.6 258.5,287.4 258.5,288.2 258.5,289.0 258.5,289.8 258.5,290.6 258.5,291.5 258.5,292.3 258.5,293.1 258.5,293.9 258.5,294.7 258.5,295.5 258.5,296.3 258.5,297.1 258.5,297.9 258.5,298.7 258.5,299.5 258.5,300.3 258.5,301.1 258.5,301.9 258.5,302.7 258.5,303.5 258.6,304.3 258.6,305.1 258.6,305.9 258.6,306.7 258.6,307.5 258.6,308.3 258.6,309.1 258.6,309.9 258.6,310.7 258.6,311.5 258.6,312.3 258.6,313.1 258.6,313.9 258.6,314.7 258.6,315.5 258.6,316.3 258.6,317.2 258.6,318.0 258.6,318.8 258.6,319.6 258.6,320.4 258.6,321.2 258.6,322.0 258.6,322.8 258.6,323.6 258.6,324.4 258.6,325.2 258.6,326.0 258.6,326.8 258.6,327.6 258.6,328.4 258.6,329.2 258.6,330.0 258.6,329.2 258.6,328.4 258.6,327.6 258.6,326.8 258.6,326.0 258.6,325.2 258.6,324.4 258.6,323.6 258.6,322.8 258.6,322.0 258.6,321.2 258.6,320.4 258.6,319.6 258.6,318.8 258.6,318.0 258.6,317.2 258.6,316.4 258.6,315.6 258.6,314.8 258.6,314.0 258.6,313.2 258.6,312.4 258.6,311.6 258.6,310.8 258.6,310.0 258.6,309.2 258.6,308.4 258.6,307.6 258.6,306.8 258.7,306.0 258.7,305.2 258.7,304.4 258.7,303.6 258.7,302.8 258.7,302.0 258.7,301.2 258.7,300.4 258.7,299.6 258.7,298.8 258.7,298.0 258.7,297.2 258.7,296.4 258.7,295.6 258.7,294.8 258.7,294.0 258.7,293.2 258.7,292.4 258.7,291.6 258.7,290.8 258.7,290.0 258.7,289.2 258.7,288.4 258.7,287.6 258.7,286.8 258.7,286.0 258.7,285.2 258.7,284.4 258.7,283.6 258.7,282.8 258.7,282.0 258.7,281.2 258.7,280.4 258.7,279.6 258.7,278.8 258.7,278.0 258.7,277.2 258.7,276.4 258.7,275.6 258.7,274.8 258.7,274.0 258.7,273.2 258.7,272.4 258.7,271.6 258.7,270.8 258.7,270.0 258.7,269.2 258.7,268.4 258.7,267.6 258.7,266.8 258.7,266.0 258.7,265.2 258.7,264.4 258.7,263.6 258.7,262.8 258.7,262.0 258.7,261.2 258.7,260.4 258.8,259.6 258.8,258.8 258.8,258.0 258.8,257.2 258.8,256.4 258.8,255.6 258.8,254.8 258.8,254.0 258.8,253.2 258.8,252.4 258.8,251.6 258.8,250.8 258.8,250.0 258.8,249.2 258.8,248.4 258.8,247.6 258.8,246.8 258.8,246.0 258.8,245.2 258.8,244.4 258.8,243.6 258.8,242.8 258.8,242.0 258.8,241.2 258.8,240.4 258.8,239.6 258.8,238.8 258.8,238.0 258.8,237.2 258.8,236.4 258.8,235.6 258.8,234.8 258.8,234.0 258.8,233.2 258.8,232.4 258.8,231.6 258.8,230.8 258.8,230.0 258.8,229.2 258.8,228.4 258.8,227.6 258.8,226.8 258.8,226.0 258.8,225.2 258.8,224.4 258.8,223.6 258.8,222.8 258.8,222.0 258.8,221.2 258.8,220.4 258.8,219.6 258.8,218.8 258.8,218.0 258.8,217.2 258.8,216.4 258.8,215.6 258.8,214.8 258.8,214.0 258.9,213.2 258.9,212.4 258.9,211.6 258.9,210.8 258.9,210.0 258.9,209.2 258.9,208.4 258.9,207.6 258.9,206.8 258.9,206.0 258.9,205.2 258.9,204.4 258.9,203.6 258.9,202.8 258.9,202.0 258.9,201.2 258.9,200.4 258.9,199.6 258.9,198.8 258.9,198.0 258.9,197.2 258.9,196.4 258.9,195.6 258.9,194.8 258.9,194.0 258.9,193.2 258.9,192.4 258.9,191.6 258.9,190.8 258.9,190.0 258.9,190.8 258.9,191.6 258.9,192.4 258.9,193.2 258.9,194.0 258.9,194.8 258.9,195.6 258.9,196.4 258.9,197.2 258.9,198.0 258.9,198.8 258.9,199.6 258.9,200.4 258.9,201.2 258.9,202.0 258.9,202.8 258.9,203.6 259.0,204.5 259.0,205.3 259.0,206.1 259.0,206.9 259.0,207.7 259.0,208.5 259.0,209.3 259.0,210.1 259.0,210.9 259.0,211.7 259.0,212.5 259.0,213.3 259.0,214.1 259.0,214.9 259.0,215.7 259.0,216.5 259.0,217.3 259.0,218.1 259.0,218.9 259.0,219.7 259.0,220.5 259.0,221.3 259.0,222.1 259.0,222.9 259.0,223.7 259.0,224.5 259.0,225.3 259.0,226.1 259.0,226.9 259.0,227.7 259.0,228.5 259.0,229.3 259.0,230.1 259.0,230.9 259.1,231.8 259.1,232.6 259.1,233.4 259.1,234.2 259.1,235.0 259.1,235.8 259.1,236.6 259.1,237.4 259.1,238.2 259.1,239.0 259.1,239.8 259.1,240.6 259.1,241.4 259.1,242.2 259.1,243.0 259.1,243.8 259.1,244.6 259.1,245.4 259.1,246.2 259.1,247.0 259.1,247.8 259.1,248.6 259.1,249.4 259.1,250.2 259.1,251.0 259.1,251.8 259.1,252.6 259.1,253.4 259.1,254.2 259.1,255.0 259.1,255.8 259.1,256.6 259.1,257.4 259.1,258.2 259.2,259.1 259.2,259.9 259.2,260.7 259.2,261.5 259.2,262.3 259.2,263.1 259.2,263.9 259.2,264.7 259.2,265.5 259.2,266.3 259.2,267.1 259.2,267.9 259.2,268.7 259.2,269.5 259.2,270.3 259.2,271.1 259.2,271.9 259.2,272.7 259.2,273.5 259.2,274.3 259.2,275.1 259.2,275.9 259.2,276.7 259.2,277.5 259.2,278.3 259.2,279.1 259.2,279.9 259.2,280.7 259.2,281.5 259.2,282.3 259.2,283.1 259.2,283.9 259.2,284.7 259.2,285.5 259.3,286.4 259.3,287.2 259.3,288.0 259.3,288.8 259.3,289.6 259.3,290.4 259.3,291.2 259.3,292.0 259.3,292.8 259.3,293.6 259.3,294.4 259.3,295.2 259.3,296.0 259.3,296.8 259.3,297.6 259.3,298.4 259.3,299.2 259.3,300.0 259.3,299.2 259.3,298.4 259.3,297.6 259.3,296.8 259.3,296.0 259.3,295.2 259.3,294.4 259.3,293.6 259.3,292.8 259.3,292.0 259.3,291.2 259.3,290.4 259.3,289.6 259.3,288.8 259.3,288.0 259.3,287.2 259.3,286.4 259.3,285.6 259.4,284.8 259.4,283.9 259.4,283.1 259.4,282.3 259.4,281.5 259.4,280.7 259.4,279.9 259.4,279.1 259.4,278.3 259.4,277.5 259.4,276.7 259.4,275.9 259.4,275.1 259.4,274.3 259.4,273.5 259.4,272.7 259.4,271.9 259.4,271.1 259.4,270.3 259.4,269.5 259.4,268.7 259.4,267.9 259.4,267.1 259.4,266.3 259.4,265.5 259.4,264.7 259.4,263.9 259.4,263.1 259.4,262.3 259.4,261.5 259.4,260.7 259.4,259.9 259.4,259.1 259.4,258.3 259.4,257.5 259.4,256.7 259.4,255.9 259.4,255.1 259.4,254.2 259.5,253.4 259.5,252.6 259.5,251.8 259.5,251.0 259.5,250.2 259.5,249.4 259.5,248.6 259.5,247.8 259.5,247.0 259.5,246.2 259.5,245.4 259.5,244.6 259.5,243.8 259.5,243.0 259.5,242.2 259.5,241.4 259.5,240.6 259.5,239.8 259.5,239.0 259.5,238.2 259.5,237.4 259.5,236.6 259.5,235.8 259.5,235.0 259.5,234.2 259.5,233.4 259.5,232.6 259.5,231.8 259.5,231.0 259.5,230.2 259.5,229.4 259.5,228.6 259.5,227.8 259.5,227.0 259.5,226.2 259.5,225.4 259.5,224.6 259.6,223.8 259.6,222.9 259.6,222.1 259.6,221.3 259.6,220.5 259.6,219.7 259.6,218.9 259.6,218.1 259.6,217.3 259.6,216.5 259.6,215.7 259.6,214.9 259.6,214.1 259.6,213.3 259.6,212.5 259.6,211.7 259.6,210.9 259.6,210.1 259.6,209.3 259.6,208.5 259.6,207.7 259.6,206.9 259.6,206.1 259.6,205.3 259.6,204.5 259.6,203.7 259.6,202.9 259.6,202.1 259.6,201.3 259.6,200.5 259.6,199.7 259.6,198.9 259.6,198.1 259.6,197.3 259.6,196.5 259.6,195.7 259.6,194.9 259.6,194.1 259.6,193.2 259.7,192.4 259.7,191.6 259.7,190.8 259.7,190.0 259.7,189.2 259.7,188.4 259.7,187.6 259.7,186.8 259.7,186.0 259.7,185.2 259.7,184.4 259.7,183.6 259.7,182.8 259.7,182.0 259.7,181.2 259.7,180.4 259.7,179.6 259.7,178.8 259.7,178.0 259.7,178.8 259.7,179.6 259.7,180.4 259.7,181.2 259.7,182.0 259.7,182.8 259.7,183.6 259.7,184.4 259.7,185.2 259.7,186.0 259.7,186.8 259.7,187.6 259.7,188.4 259.7,189.2 259.7,190.0 259.7,190.8 259.7,191.6 259.7,192.4 259.7,193.2 259.7,194.0 259.7,194.8 259.7,195.6 259.8,196.5 259.8,197.3 259.8,198.1 259.8,198.9 259.8,199.7 259.8,200.5 259.8,201.3 259.8,202.1 259.8,202.9 259.8,203.7 259.8,204.5 259.8,205.3 259.8,206.1 259.8,206.9 259.8,207.7 259.8,208.5 259.8,209.3 259.8,210.1 259.8,210.9 259.8,211.7 259.8,212.5 259.8,213.3 259.8,214.1 259.8,214.9 259.8,215.7 259.8,216.5 259.8,217.3 259.8,218.1 259.8,218.9 259.8,219.7 259.8,220.5 259.8,221.3 259.8,222.1 259.8,222.9 259.8,223.7 259.8,224.5 259.8,225.3 259.8,226.1 259.8,226.9 259.8,227.7 259.8,228.5 259.8,229.3 259.8,230.1 259.8,230.9 259.9,231.8 259.9,232.6 259.9,233.4 259.9,234.2 259.9,235.0 259.9,235.8 259.9,236.6 259.9,237.4 259.9,238.2 259.9,239.0 259.9,239.8 259.9,240.6 259.9,241.4 259.9,242.2 259.9,243.0 259.9,243.8 259.9,244.6 259.9,245.4 259.9,246.2 259.9,247.0 259.9,247.8 259.9,248.6 259.9,249.4 259.9,250.2 259.9,251.0 259.9,251.8 259.9,252.6 259.9,253.4 259.9,254.2 259.9,255.0 259.9,255.8 259.9,256.6 259.9,257.4 259.9,258.2 259.9,259.0 259.9,259.8 259.9,260.6 259.9,261.4 259.9,262.2 259.9,263.0 259.9,263.8 259.9,264.6 259.9,265.4 259.9,266.2 260.0,267.1 260.0,267.9 260.0,268.7 260.0,269.5 260.0,270.3 260.0,271.1 260.0,271.9 260.0,272.7 260.0,273.5 260.0,274.3 260.0,275.1 260.0,275.9 260.0,276.7 260.0,277.5 260.0,278.3 260.0,279.1 260.0,279.9 260.0,280.7 260.0,281.5 260.0,282.3 260.0,283.1 260.0,283.9 260.0,284.7 260.0,285.5 260.0,286.3 260.0,287.1 260.0,287.9 260.0,288.7 260.0,289.5 260.0,290.3 260.0,291.1 260.0,291.9 260.0,292.7 260.0,293.5 260.0,294.3 260.0,295.1 260.0,295.9 260.0,296.7 260.0,297.5 260.0,298.3 260.0,299.1 260.0,299.9 260.0,300.7 260.0,301.5 260.1,302.4 260.1,303.2 260.1,304.0 260.1,304.8 260.1,305.6 260.1,306.4 260.1,307.2 260.1,308.0 260.1,308.8 260.1,309.6 260.1,310.4 260.1,311.2 260.1,312.0 260.1,312.8 260.1,313.6 260.1,314.4 260.1,315.2 260.1,316.0 260.1,316.8 260.1,317.6 260.1,318.4 260.1,319.2 260.1,320.0 260.1,319.2 260.1,318.4 260.1,317.6 260.1,316.8 260.1,316.0 260.1,315.2 260.1,314.4 260.1,313.6 260.1,312.8 260.1,312.0 260.1,311.2 260.1,310.4 260.1,309.6 260.1,308.8 260.1,307.9 260.1,307.1 260.1,306.3 260.1,305.5 260.1,304.7 260.1,303.9 260.2,303.1 260.2,302.3 260.2,301.5 260.2,300.7 260.2,299.9 260.2,299.1 260.2,298.3 260.2,297.5 260.2,296.7 260.2,295.9 260.2,295.1 260.2,294.3 260.2,293.5 260.2,292.7 260.2,291.9 260.2,291.1 260.2,290.3 260.2,289.5 260.2,288.7 260.2,287.9 260.2,287.1 260.2,286.2 260.2,285.4 260.2,284.6 260.2,283.8 260.2,283.0 260.2,282.2 260.2,281.4 260.2,280.6 260.2,279.8 260.2,279.0 260.2,278.2 260.2,277.4 260.2,276.6 260.2,275.8 260.2,275.0 260.2,274.2 260.2,273.4 260.2,272.6 260.2,271.8 260.2,271.0 260.2,270.2 260.2,269.4 260.3,268.6 260.3,267.8 260.3,267.0 260.3,266.2 260.3,265.4 260.3,264.6 260.3,263.8 260.3,262.9 260.3,262.1 260.3,261.3 260.3,260.5 260.3,259.7 260.3,258.9 260.3,258.1 260.3,257.3 260.3,256.5 260.3,255.7 260.3,254.9 260.3,254.1 260.3,253.3 260.3,252.5 260.3,251.7 260.3,250.9 260.3,250.1 260.3,249.3 260.3,248.5 260.3,247.7 260.3,246.9 260.3,246.1 260.3,245.3 260.3,244.5 260.3,243.7 260.3,242.9 260.3,242.1 260.3,241.2 260.3,240.4 260.3,239.6 260.3,238.8 260.3,238.0 260.3,237.2 260.3,236.4 260.4,235.6 260.4,234.8 260.4,234.0 260.4,233.2 260.4,232.4 260.4,231.6 260.4,230.8 260.4,230.0 260.4,229.2 260.4,228.4 260.4,227.6 260.4,226.8 260.4,226.0 260.4,225.2 260.4,224.4 260.4,223.6 260.4,222.8 260.4,222.0 260.4,221.2 260.4,220.4 260.4,219.6 260.4,218.8 260.4,217.9 260.4,217.1 260.4,216.3 260.4,215.5 260.4,214.7 260.4,213.9 260.4,213.1 260.4,212.3 260.4,211.5 260.4,210.7 260.4,209.9 260.4,209.1 260.4,208.3 260.4,207.5 260.4,206.7 260.4,205.9 260.4,205.1 260.4,204.3 260.4,203.5 260.4,202.7 260.4,201.9 260.5,201.1 260.5,200.3 260.5,199.5 260.5,198.7 260.5,197.9 260.5,197.1 260.5,196.2 260.5,195.4 260.5,194.6 260.5,193.8 260.5,193.0 260.5,192.2 260.5,191.4 260.5,190.6 260.5,189.8 260.5,189.0 260.5,188.2 260.5,187.4 260.5,186.6 260.5,185.8 260.5,185.0 260.5,185.8 260.5,186.6 260.5,187.4 260.5,188.2 260.5,189.0 260.5,189.8 260.5,190.6 260.5,191.4 260.5,192.2 260.5,193.0 260.5,193.8 260.5,194.6 260.5,195.4 260.5,196.2 260.5,197.0 260.5,197.8 260.6,198.6 260.6,199.4 260.6,200.2 260.6,201.0 260.6,201.8 260.6,202.6 260.6,203.4 260.6,204.2 260.6,205.0 260.6,205.8 260.6,206.6 260.6,207.4 260.6,208.2 260.6,209.0 260.6,209.8 260.6,210.6 260.6,211.5 260.6,212.3 260.6,213.1 260.6,213.9 260.6,214.7 260.6,215.5 260.6,216.3 260.6,217.1 260.6,217.9 260.6,218.7 260.6,219.5 260.6,220.3 260.6,221.1 260.6,221.9 260.6,222.7 260.6,223.5 260.6,224.3 260.7,225.1 260.7,225.9 260.7,226.7 260.7,227.5 260.7,228.3 260.7,229.1 260.7,229.9 260.7,230.7 260.7,231.5 260.7,232.3 260.7,233.1 260.7,233.9 260.7,234.7 260.7,235.5 260.7,236.3 260.7,237.1 260.7,237.9 260.7,238.7 260.7,239.5 260.7,240.3 260.7,241.1 260.7,241.9 260.7,242.7 260.7,243.5 260.7,244.3 260.7,245.1 260.7,245.9 260.7,246.7 260.7,247.5 260.7,248.3 260.7,249.1 260.7,249.9 260.8,250.7 260.8,251.5 260.8,252.3 260.8,253.1 260.8,253.9 260.8,254.7 260.8,255.5 260.8,256.3 260.8,257.1 260.8,257.9 260.8,258.7 260.8,259.5 260.8,260.3 260.8,261.1 260.8,261.9 260.8,262.7 260.8,263.5 260.8,264.4 260.8,265.2 260.8,266.0 260.8,266.8 260.8,267.6 260.8,268.4 260.8,269.2 260.8,270.0 260.8,270.8 260.8,271.6 260.8,272.4 260.8,273.2 260.8,274.0 260.8,274.8 260.8,275.6 260.8,276.4 260.9,277.2 260.9,278.0 260.9,278.8 260.9,279.6 260.9,280.4 260.9,281.2 260.9,282.0 260.9,282.8 260.9,283.6 260.9,284.4 260.9,285.2 260.9,286.0 260.9,286.8 260.9,287.6 260.9,288.4 260.9,289.2 260.9,290.0 260.9,289.2 260.9,288.4 260.9,287.6 260.9,286.8 260.9,286.0 260.9,285.2 260.9,284.4 260.9,283.6 260.9,282.8 260.9,282.0 260.9,281.2 260.9,280.4 260.9,279.6 260.9,278.8 260.9,278.0 261.0,277.2 261.0,276.4 261.0,275.6 261.0,274.8 261.0,274.0 261.0,273.2 261.0,272.4 261.0,271.6 261.0,270.8 261.0,270.0 261.0,269.2 261.0,268.4 261.0,267.6 261.0,266.8 261.0,266.0 261.0,265.2 261.0,264.4 261.0,263.6 261.0,262.8 261.0,262.0 261.0,261.2 261.0,260.4 261.0,259.6 261.0,258.8 261.0,258.0 261.0,257.2 261.0,256.4 261.0,255.6 261.0,254.8 261.0,254.0 261.1,253.2 261.1,252.4 261.1,251.6 261.1,250.8 261.1,250.0 261.1,249.2 261.1,248.4 261.1,247.6 261.1,246.8 261.1,246.0 261.1,245.2 261.1,244.4 261.1,243.6 261.1,242.8 261.1,242.0 261.1,241.2 261.1,240.4 261.1,239.6 261.1,238.8 261.1,238.0 261.1,237.2 261.1,236.4 261.1,235.6 261.1,234.8 261.1,234.0 261.1,233.2 261.1,232.4 261.1,231.6 261.1,230.8 261.1,230.0 261.2,229.2 261.2,228.4 261.2,227.6 261.2,226.8 261.2,226.0 261.2,225.2 261.2,224.4 261.2,223.6 261.2,222.8 261.2,222.0 261.2,221.2 261.2,220.4 261.2,219.6 261.2,218.8 261.2,218.0 261.2,217.2 261.2,216.4 261.2,215.6 261.2,214.8 261.2,214.0 261.2,213.2 261.2,212.4 261.2,211.6 261.2,210.8 261.2,210.0 261.2,209.2 261.2,208.4 261.2,207.6 261.2,206.8 261.2,206.0 261.3,205.2 261.3,204.4 261.3,203.6 261.3,202.8 261.3,202.0 261.3,201.2 261.3,200.4 261.3,199.6 261.3,198.8 261.3,198.0 261.3,197.2 261.3,196.4 261.3,195.6 261.3,194.8 261.3,194.0 261.3,193.2 261.3,192.4 261.3,191.6 261.3,190.8 261.3,190.0 261.3,189.2 261.3,188.4 261.3,187.6 261.3,186.8 261.3,186.0 261.3,185.2 261.3,184.4 261.3,183.6 261.3,182.8 261.3,182.0 261.4,181.2 261.4,180.4 261.4,179.6 261.4,178.8 261.4,178.0 261.4,177.2 261.4,176.4 261.4,175.6 261.4,174.8 261.4,174.0 261.4,173.2 261.4,172.4 261.4,171.6 261.4,170.8 261.4,170.0 261.4,170.8 261.4,171.6 261.4,172.4 261.4,173.2 261.4,174.0 261.4,174.8 261.4,175.6 261.4,176.4 261.4,177.2 261.4,178.0 261.4,178.8 261.4,179.6 261.4,180.4 261.4,181.2 261.4,182.0 261.4,182.8 261.4,183.6 261.4,184.4 261.4,185.2 261.4,186.0 261.4,186.8 261.5,187.6 261.5,188.4 261.5,189.2 261.5,190.0 261.5,190.8 261.5,191.6 261.5,192.4 261.5,193.2 261.5,194.0 261.5,194.8 261.5,195.6 261.5,196.4 261.5,197.2 261.5,198.0 261.5,198.8 261.5,199.6 261.5,200.4 261.5,201.2 261.5,202.0 261.5,202.8 261.5,203.6 261.5,204.4 261.5,205.2 261.5,206.0 261.5,206.8 261.5,207.6 261.5,208.4 261.5,209.2 261.5,210.0 261.5,210.8 261.5,211.6 261.5,212.4 261.5,213.2 261.5,214.0 261.5,214.8 261.5,215.6 261.5,216.4 261.5,217.2 261.5,218.0 261.5,218.8 261.5,219.6 261.5,220.4 261.5,221.2 261.5,222.0 261.6,222.8 261.6,223.6 261.6,224.4 261.6,225.2 261.6,226.0 261.6,226.8 261.6,227.6 261.6,228.4 261.6,229.2 261.6,230.0 261.6,230.8 261.6,231.6 261.6,232.4 261.6,233.2 261.6,234.0 261.6,234.8 261.6,235.6 261.6,236.4 261.6,237.2 261.6,238.0 261.6,238.8 261.6,239.6 261.6,240.4 261.6,241.2 261.6,242.0 261.6,242.8 261.6,243.6 261.6,244.4 261.6,245.2 261.6,246.0 261.6,246.8 261.6,247.6 261.6,248.4 261.6,249.2 261.6,250.0 261.6,250.8 261.6,251.6 261.6,252.4 261.6,253.2 261.6,254.0 261.6,254.8 261.6,255.6 261.6,256.4 261.6,257.2 261.7,258.0 261.7,258.8 261.7,259.6 261.7,260.4 261.7,261.2 261.7,262.0 261.7,262.8 261.7,263.6 261.7,264.4 261.7,265.2 261.7,266.0 261.7,266.8 261.7,267.6 261.7,268.4 261.7,269.2 261.7,270.0 261.7,270.8 261.7,271.6 261.7,272.4 261.7,273.2 261.7,274.0 261.7,274.8 261.7,275.6 261.7,276.4 261.7,277.2 261.7,278.0 261.7,278.8 261.7,279.6 261.7,280.4 261.7,281.2 261.7,282.0 261.7,282.8 261.7,283.6 261.7,284.4 261.7,285.2 261.7,286.0 261.7,286.8 261.7,287.6 261.7,288.4 261.7,289.2 261.7,290.0 261.7,290.8 261.7,291.6 261.7,292.4 261.8,293.2 261.8,294.0 261.8,294.8 261.8,295.6 261.8,296.4 261.8,297.2 261.8,298.0 261.8,298.8 261.8,299.6 261.8,300.4 261.8,301.2 261.8,302.0 261.8,302.8 261.8,303.6 261.8,304.4 261.8,305.2 261.8,306.0 261.8,306.8 261.8,307.6 261.8,308.4 261.8,309.2 261.8,310.0 261.8,309.2 261.8,308.4 261.8,307.6 261.8,306.8 261.8,306.0 261.8,305.2 261.8,304.4 261.8,303.6 261.8,302.8 261.8,302.0 261.8,301.2 261.8,300.4 261.8,299.6 261.8,298.8 261.8,298.0 261.8,297.2 261.8,296.4 261.9,295.5 261.9,294.7 261.9,293.9 261.9,293.1 261.9,292.3 261.9,291.5 261.9,290.7 261.9,289.9 261.9,289.1 261.9,288.3 261.9,287.5 261.9,286.7 261.9,285.9 261.9,285.1 261.9,284.3 261.9,283.5 261.9,282.7 261.9,281.9 261.9,281.1 261.9,280.3 261.9,279.5 261.9,278.7 261.9,277.9 261.9,277.1 261.9,276.3 261.9,275.5 261.9,274.7 261.9,273.9 261.9,273.1 261.9,272.3 261.9,271.5 261.9,270.7 261.9,269.9 261.9,269.1 262.0,268.2 262.0,267.4 262.0,266.6 262.0,265.8 262.0,265.0 262.0,264.2 262.0,263.4 262.0,262.6 262.0,261.8 262.0,261.0 262.0,260.2 262.0,259.4 262.0,258.6 262.0,257.8 262.0,257.0 262.0,256.2 262.0,255.4 262.0,254.6 262.0,253.8 262.0,253.0 262.0,252.2 262.0,251.4 262.0,250.6 262.0,249.8 262.0,249.0 262.0,248.2 262.0,247.4 262.0,246.6 262.0,245.8 262.0,245.0 262.0,244.2 262.0,243.4 262.0,242.6 262.0,241.8 262.1,240.9 262.1,240.1 262.1,239.3 262.1,238.5 262.1,237.7 262.1,236.9 262.1,236.1 262.1,235.3 262.1,234.5 262.1,233.7 262.1,232.9 262.1,232.1 262.1,231.3 262.1,230.5 262.1,229.7 262.1,228.9 262.1,228.1 262.1,227.3 262.1,226.5 262.1,225.7 262.1,224.9 262.1,224.1 262.1,223.3 262.1,222.5 262.1,221.7 262.1,220.9 262.1,220.1 262.1,219.3 262.1,218.5 262.1,217.7 262.1,216.9 262.1,216.1 262.1,215.3 262.1,214.5 262.2,213.6 262.2,212.8 262.2,212.0 262.2,211.2 262.2,210.4 262.2,209.6 262.2,208.8 262.2,208.0 262.2,207.2 262.2,206.4 262.2,205.6 262.2,204.8 262.2,204.0 262.2,203.2 262.2,202.4 262.2,201.6 262.2,200.8 262.2,200.0 262.2,200.8 262.2,201.6 262.2,202.4 262.2,203.2 262.2,204.0 262.2,204.8 262.2,205.6 262.2,206.4 262.2,207.2 262.2,208.0 262.2,208.8 262.2,209.6 262.3,210.4 262.3,211.2 262.3,212.0 262.3,212.8 262.3,213.6 262.3,214.4 262.3,215.2 262.3,216.0 262.3,216.8 262.3,217.6 262.3,218.4 262.3,219.2 262.3,220.0 262.3,220.8 262.3,221.6 262.3,222.4 262.3,223.2 262.3,224.0 262.3,224.8 262.3,225.6 262.3,226.4 262.3,227.2 262.3,228.0 262.3,228.8 262.3,229.6 262.4,230.4 262.4,231.2 262.4,232.0 262.4,232.8 262.4,233.6 262.4,234.4 262.4,235.2 262.4,236.0 262.4,236.8 262.4,237.6 262.4,238.4 262.4,239.2 262.4,240.0 262.4,240.8 262.4,241.6 262.4,242.4 262.4,243.2 262.4,244.0 262.4,244.8 262.4,245.6 262.4,246.4 262.4,247.2 262.4,248.0 262.4,248.8 262.4,249.6 262.5,250.4 262.5,251.2 262.5,252.0 262.5,252.8 262.5,253.6 262.5,254.4 262.5,255.2 262.5,256.0 262.5,256.8 262.5,257.6 262.5,258.4 262.5,259.2 262.5,260.0 262.5,260.8 262.5,261.6 262.5,262.4 262.5,263.2 262.5,264.0 262.5,264.8 262.5,265.6 262.5,266.4 262.5,267.2 262.5,268.0 262.5,268.8 262.5,269.6 262.6,270.4 262.6,271.2 262.6,272.0 262.6,272.8 262.6,273.6 262.6,274.4 262.6,275.2 262.6,276.0 262.6,276.8 262.6,277.6 262.6,278.4 262.6,279.2 262.5,280.2 262.6,279.1 262.6,278.4 262.8,277.3 262.8,276.6 262.8,276.0 262.9,274.8 262.9,274.2 262.9,273.5 263.0,272.4 263.0,273.3 263.1,273.9 263.1,274.8 263.1,275.7 263.2,276.6 263.3,277.4 263.4,278.2 263.4,279.1 263.4,279.8 263.4,280.4 263.5,281.1 263.5,282.3 263.5,282.9 263.6,283.8 263.7,284.4 263.7,285.5 263.7,286.4 263.7,287.0 263.8,287.9 263.8,288.7 263.9,289.3 264.0,290.0 264.0,291.1 263.9,291.9 264.0,292.5 264.3,293.3 264.2,293.5 264.0,295.0 264.2,296.5 264.3,297.2 264.3,298.1 264.2,297.5 264.5,299.3 264.2,299.4 264.4,301.3 264.5,301.3 264.5,302.0 264.4,302.6 264.6,303.1 264.5,304.0 264.4,305.9 264.8,306.3 264.8,307.4 264.7,308.1 264.4,308.1 264.8,309.3 264.9,310.0 264.6,310.7 265.0,312.0 264.7,312.1 264.9,312.8 265.0,313.8 265.0,315.8 264.8,316.1 265.0,316.7 264.9,318.2 264.8,318.5 264.7,319.3 265.2,319.8 265.1,320.5 265.0,321.4 265.2,322.1 264.9,323.3 265.1,324.2 265.1,324.5 265.2,325.2 265.0,325.9 265.0,326.7 265.3,327.8 265.2,328.4 265.1,329.9 265.5,329.8 265.4,331.9 265.3,332.6 265.2,333.3 265.2,333.1 265.2,333.6 265.5,335.0 265.3,336.4 265.3,337.4 265.3,338.4 265.7,338.4 265.8,339.8 265.8,339.7 265.6,340.5 265.7,341.7 265.9,342.1 265.8,342.8 265.8,343.3 265.9,345.0 265.9,346.2 265.9,346.0 266.2,347.0 265.9,348.0 266.1,348.4 266.0,348.9 266.1,350.2 266.3,350.7 266.3,351.4 266.1,352.2 266.3,354.0 266.2,354.9 266.5,355.8 266.4,355.9 266.3,357.3 266.3,357.2 266.7,359.1 266.5,359.7 266.3,360.4 266.5,360.5 266.4,361.9 266.7,362.8 266.4,363.3 266.5,363.6 266.4,364.9 266.5,365.3 266.7,367.0 266.6,367.3 266.8,368.4 266.9,368.4 267.0,368.9 266.8,370.8 267.0,371.0 267.0,372.3 266.7,373.2 267.1,373.0 266.9,374.3 267.2,375.9 266.8,375.8 266.9,374.5 267.0,375.0 267.4,373.0 267.3,372.9 267.3,372.4 267.2,370.6 267.3,370.8 267.7,369.3 267.4,369.1 267.8,368.3 267.9,367.1 267.8,366.5 267.7,365.7 267.9,364.2 268.3,362.6 268.2,363.1 268.3,362.4 268.6,360.4 268.6,359.8 268.9,359.5 269.0,357.7 269.3,357.1 269.4,357.3 269.5,355.3 269.7,354.6 269.7,353.9 269.9,353.7 270.4,352.7 270.6,351.3 270.5,350.9 270.7,352.3 270.7,352.7 270.8,353.3 270.8,354.8 270.8,355.1 271.0,355.9 271.4,357.3 271.5,357.8 271.3,357.6 271.4,359.8 271.6,359.8 271.7,360.5 271.7,361.2 271.9,362.3 271.8,362.6 271.9,363.9 272.3,365.4 272.4,365.8 272.7,366.5 272.8,366.6 273.1,368.4 273.1,369.1 273.3,369.0 273.5,370.5 273.7,370.8 274.2,372.3 274.1,372.1 274.6,372.7 274.8,371.5 275.2,370.7 275.1,369.6 275.5,368.9 275.6,368.2 276.1,366.8 276.4,366.2 276.5,365.5 276.7,364.7 276.4,363.3 276.8,362.5 276.9,362.4 276.8,361.5 277.2,360.9 277.1,360.0 277.2,359.1 277.4,358.3 277.3,357.0 277.5,356.3 277.5,355.5 277.6,355.9 277.8,354.0 277.9,353.5 277.8,353.3 278.2,352.8 278.4,350.8 278.8,349.8 278.5,349.0 278.7,348.2 279.2,347.4 279.2,346.6 279.2,345.7 279.4,345.3 279.8,345.6 279.7,343.9 280.1,344.0 280.1,342.6 280.5,341.6 280.9,341.1 280.9,340.5 281.3,338.8 281.3,337.9 281.9,338.2 281.8,336.9 282.0,335.3 282.5,335.3 282.6,334.3 282.8,333.4 282.9,333.5 283.0,332.1 283.2,331.0 283.4,329.8 283.9,328.9 284.0,329.0 284.2,327.4 284.4,326.9 284.7,327.0 284.9,326.0 285.2,325.5 285.6,324.6 285.6,323.4 286.2,322.6 286.7,321.1 286.7,320.9 287.1,320.8 287.8,319.3 288.1,318.7 288.5,317.9 288.5,317.8 288.9,315.7 289.6,315.8 290.0,314.4 290.2,314.2 290.5,313.0 290.8,312.4 291.1,311.6 291.5,310.8 291.8,310.2 292.2,309.2 292.5,308.5 292.8,307.8 293.2,306.8 293.5,306.2 293.7,305.2 293.9,304.7 294.2,303.6 294.4,303.0 294.7,302.1 294.9,301.2 295.0,300.6 295.3,299.9 295.5,298.9 295.8,298.0 296.1,297.3 296.6,296.7 297.3,296.0 298.0,295.5 298.8,294.9 299.6,293.6 300.4,293.3 301.2,293.1 301.9,293.0 302.8,292.5 303.3,293.3 303.8,294.1 304.4,294.7 305.0,295.7 305.5,296.3 306.0,297.1 306.5,298.1 307.2,298.8 307.8,298.2 308.5,297.7 309.3,296.9 309.7,298.0 310.3,298.7 310.9,299.5 311.3,300.1 311.7,299.6 312.0,298.5 312.2,298.0 312.6,296.9 312.8,296.1 313.1,295.3 313.4,294.6 313.7,294.2 314.0,293.4 314.3,292.3 314.6,291.5 315.1,291.0 315.6,290.4 316.2,289.7 316.8,289.1 317.3,288.7 317.8,288.0 318.6,288.0 319.5,288.0 320.3,288.4 321.2,288.3 322.0,288.5 322.7,289.0 323.5,289.5 324.1,290.2 324.8,290.6 325.5,291.1 326.3,291.8 327.1,291.6 328.0,292.0 328.9,292.2 329.8,292.6 330.5,292.9 331.2,293.1 331.9,293.9 332.8,294.2 333.4,295.0 334.1,295.3 334.8,296.1 335.6,296.4 336.4,296.8 337.2,297.6 337.9,297.9 338.9,298.0 339.7,298.6 340.5,298.7 341.5,298.9 342.3,298.9 342.9,298.5 343.6,297.8 344.2,297.2 344.8,296.6 345.3,296.9 345.9,297.5 346.4,296.9 346.8,297.6 347.4,298.6 347.6,300.9 348.6,300.5 348.7,302.0 349.5,301.7 350.2,303.4 350.6,303.2 350.7,304.4 350.8,304.9 351.0,305.5 351.8,306.1 351.5,308.2 351.5,307.7 351.8,309.4 351.7,309.4 351.8,310.3 352.1,311.9 352.2,312.5 352.7,312.7 352.8,314.7 353.0,313.9 352.8,312.8 352.7,312.6 352.7,310.5 352.7,310.1 353.3,309.6 352.8,309.4 352.9,306.9 353.3,305.7 353.6,306.5 353.8,305.6 353.4,303.8 353.4,303.9 353.9,302.1 353.7,302.4 353.6,301.7 353.7,300.0 353.7,300.7 353.7,298.3 354.2,298.0 354.0,298.8 354.3,299.8 354.4,299.7 354.7,300.9 354.9,301.8 355.1,302.4 355.0,305.0 354.9,305.4 355.2,304.3 355.3,306.0 355.1,307.9 355.6,309.0 355.4,308.5 355.8,309.3 355.6,310.2 355.9,311.3 356.0,312.0 356.2,313.4 356.2,312.2 356.8,312.1 356.9,311.6 356.8,310.6 357.2,308.7 357.4,308.2 357.4,306.6 357.7,306.2 357.6,305.9 358.0,306.1 358.3,304.6 358.1,303.4 358.6,302.1 359.0,301.2 359.0,301.9 359.0,299.8 359.7,300.1 359.6,300.4 360.0,299.7 360.5,302.4 360.7,301.6 360.7,303.9 361.2,304.8 360.9,305.1 361.4,304.6 361.8,305.3 361.9,306.9 362.3,307.5 362.6,308.7 362.6,308.9 363.0,309.1 363.4,312.1 363.5,312.8 364.1,311.0 364.8,310.2 365.1,310.6 365.2,308.7 365.8,308.1 366.5,307.8 366.8,307.6 367.6,306.5 367.8,305.7 367.8,304.5 368.5,303.0 369.0,302.3 369.6,300.9 369.5,300.9 369.8,299.3 370.6,298.8 370.6,299.1 371.6,298.1 371.8,296.5 372.4,296.9 372.7,295.5 372.7,294.5 373.2,294.1 373.6,293.8 374.4,294.3 374.7,296.0 375.4,297.4 376.3,297.4 376.6,297.8 377.0,296.9 377.6,296.4 377.5,295.4 378.3,293.7 378.9,294.6 378.9,292.7 379.1,292.0 379.9,291.9 380.2,292.0 380.7,292.2 381.2,294.2 381.5,295.5 382.0,295.1 382.8,296.0 383.2,296.9 383.5,298.4 384.6,299.1 384.9,298.1 385.3,299.9 385.9,300.4 386.3,300.7 385.9,299.6 386.8,299.2 386.4,298.0 387.1,298.7 386.9,296.1 387.4,295.2 387.5,295.4 387.4,293.6 387.8,294.9 387.8,294.1 387.8,292.0 388.1,290.8 388.8,292.4 388.2,293.5 388.5,293.6 389.2,294.3 389.0,296.4 389.2,297.4 389.3,296.0 390.2,298.1 390.0,299.3 390.1,300.3 390.2,301.1 390.9,300.4 391.8,299.5 391.7,298.0 392.8,297.2 392.9,296.5 393.3,294.9 394.1,295.5 394.3,297.1 395.0,298.0 395.2,299.4 395.4,299.8 395.8,300.5 396.6,302.6 397.1,303.0 396.9,301.3 397.6,300.4 398.1,300.4 398.3,299.4 398.8,299.0 399.9,298.0 400.2,298.0 400.5,296.0 400.8,295.3 401.2,294.6 401.5,293.8 401.9,293.3 402.4,292.3 402.8,291.9 403.2,291.1 404.1,291.0 404.9,291.0 405.8,291.1 406.7,291.3 407.6,291.6 408.5,291.5 409.3,291.3 410.0,291.2 410.9,291.1 411.7,290.7 412.5,290.6 413.3,290.2 414.1,290.1 415.0,290.1 415.7,289.5 416.5,289.2 417.3,289.2 418.2,288.8 419.0,288.8 419.8,288.4 420.6,288.1 421.3,288.0 422.1,287.6 423.0,287.7 423.8,287.4 424.7,287.5 425.4,287.1 426.2,287.2 427.0,287.1 427.8,287.0 428.5,286.5 429.5,286.5 430.2,286.1 431.0,286.0 431.8,285.8 432.6,285.3 433.4,285.5 434.2,285.1 435.0,284.8 435.7,284.4 436.6,284.1 437.4,283.9 438.2,283.7 439.0,283.5 439.9,283.2 440.6,282.9 441.4,282.6 442.2,282.9 443.0,282.7 443.8,282.3 444.6,282.3 445.4,282.3 446.1,282.3 446.9,282.0 447.7,282.2 448.6,281.9 449.3,281.7 450.2,281.5 451.1,281.7 451.7,281.6 452.6,281.5 453.4,281.3 454.2,280.9 454.9,280.7 455.6,280.1 456.5,279.6 457.2,279.2 457.9,278.5 458.8,278.0 459.6,277.9 460.4,277.8 461.2,277.6 462.2,277.3 463.0,277.4 463.8,277.5 464.7,277.6 465.3,277.5 466.2,277.8 466.8,277.5 467.6,276.7 468.2,276.4 468.8,275.9 469.5,275.5 470.3,275.0 471.0,274.7 471.8,274.4 472.6,274.1 473.3,274.5 474.0,274.8 474.7,275.4 475.5,275.7 476.2,276.0 476.9,276.6 477.7,276.9 478.5,277.1 479.4,277.7 480.2,277.9 481.1,278.0 481.8,278.5 482.6,278.7 483.4,279.0 484.2,279.3 485.0,279.5 485.7,279.8 486.5,279.9 487.3,280.0 488.3,280.3 489.1,280.0 490.1,280.4 490.9,280.2 491.9,280.4 492.4,279.8 492.9,279.0 493.5,278.1 494.0,277.7 494.4,276.9 494.9,276.2 495.2,275.5 495.7,274.6 496.1,273.8 496.9,273.6 497.8,273.4 498.7,273.0 499.5,272.5 500.3,272.2 501.2,272.2 502.1,272.3 503.0,272.2 503.8,272.3 504.6,272.3 505.3,272.4 506.2,272.8 507.0,273.3 507.8,273.6 508.6,273.3 509.4,273.4 510.2,273.2 511.0,273.1" fill="none" stroke="#ff1414" stroke-width="1.05" stroke-linejoin="round" />
<path d="M258.2 330V178 M259 300V196 M259.8 330V176 M260.6 310V190 M261.4 300V172 M262.2 285V205" stroke="#ff0000" stroke-width="0.9" fill="none"/>
<path d="M260.8 235V155 M262 250V190 M263.9 232V153 M265 228V176 M259.4 330V230 M267.2 236V204" stroke="#1010ff" stroke-width="0.9" fill="none"/>
</g>
<line x1="59.6" y1="128.3" x2="59.6" y2="411.1" stroke="#111" stroke-width="1.4"/>
<line x1="58.9" y1="410.5" x2="511.7" y2="410.5" stroke="#111" stroke-width="1.4"/>
<line x1="56.0" y1="410.50" x2="59.6" y2="410.50" stroke="#111" stroke-width="0.9"/>
<text x="52.4" y="413.75" font-size="8.25" text-anchor="end" fill="#111">9800</text>
<line x1="56.0" y1="396.40" x2="59.6" y2="396.40" stroke="#111" stroke-width="0.9"/>
<text x="52.4" y="399.65" font-size="8.25" text-anchor="end" fill="#111">9850</text>
<line x1="56.0" y1="382.30" x2="59.6" y2="382.30" stroke="#111" stroke-width="0.9"/>
<text x="52.4" y="385.55" font-size="8.25" text-anchor="end" fill="#111">9900</text>
<line x1="56.0" y1="368.20" x2="59.6" y2="368.20" stroke="#111" stroke-width="0.9"/>
<text x="52.4" y="371.45" font-size="8.25" text-anchor="end" fill="#111">9950</text>
<line x1="56.0" y1="354.10" x2="59.6" y2="354.10" stroke="#111" stroke-width="0.9"/>
<text x="52.4" y="357.35" font-size="8.25" text-anchor="end" fill="#111">10000</text>
<line x1="56.0" y1="340.00" x2="59.6" y2="340.00" stroke="#111" stroke-width="0.9"/>
<text x="52.4" y="343.25" font-size="8.25" text-anchor="end" fill="#111">10050</text>
<line x1="56.0" y1="325.90" x2="59.6" y2="325.90" stroke="#111" stroke-width="0.9"/>
<text x="52.4" y="329.15" font-size="8.25" text-anchor="end" fill="#111">10100</text>
<line x1="56.0" y1="311.80" x2="59.6" y2="311.80" stroke="#111" stroke-width="0.9"/>
<text x="52.4" y="315.05" font-size="8.25" text-anchor="end" fill="#111">10150</text>
<line x1="56.0" y1="297.70" x2="59.6" y2="297.70" stroke="#111" stroke-width="0.9"/>
<text x="52.4" y="300.95" font-size="8.25" text-anchor="end" fill="#111">10200</text>
<line x1="56.0" y1="283.60" x2="59.6" y2="283.60" stroke="#111" stroke-width="0.9"/>
<text x="52.4" y="286.85" font-size="8.25" text-anchor="end" fill="#111">10250</text>
<line x1="56.0" y1="269.50" x2="59.6" y2="269.50" stroke="#111" stroke-width="0.9"/>
<text x="52.4" y="272.75" font-size="8.25" text-anchor="end" fill="#111">10300</text>
<line x1="56.0" y1="255.40" x2="59.6" y2="255.40" stroke="#111" stroke-width="0.9"/>
<text x="52.4" y="258.65" font-size="8.25" text-anchor="end" fill="#111">10350</text>
<line x1="56.0" y1="241.30" x2="59.6" y2="241.30" stroke="#111" stroke-width="0.9"/>
<text x="52.4" y="244.55" font-size="8.25" text-anchor="end" fill="#111">10400</text>
<line x1="56.0" y1="227.20" x2="59.6" y2="227.20" stroke="#111" stroke-width="0.9"/>
<text x="52.4" y="230.45" font-size="8.25" text-anchor="end" fill="#111">10450</text>
<line x1="56.0" y1="213.10" x2="59.6" y2="213.10" stroke="#111" stroke-width="0.9"/>
<text x="52.4" y="216.35" font-size="8.25" text-anchor="end" fill="#111">10500</text>
<line x1="56.0" y1="199.00" x2="59.6" y2="199.00" stroke="#111" stroke-width="0.9"/>
<text x="52.4" y="202.25" font-size="8.25" text-anchor="end" fill="#111">10550</text>
<line x1="56.0" y1="184.90" x2="59.6" y2="184.90" stroke="#111" stroke-width="0.9"/>
<text x="52.4" y="188.15" font-size="8.25" text-anchor="end" fill="#111">10600</text>
<line x1="56.0" y1="170.80" x2="59.6" y2="170.80" stroke="#111" stroke-width="0.9"/>
<text x="52.4" y="174.05" font-size="8.25" text-anchor="end" fill="#111">10650</text>
<line x1="56.0" y1="156.70" x2="59.6" y2="156.70" stroke="#111" stroke-width="0.9"/>
<text x="52.4" y="159.95" font-size="8.25" text-anchor="end" fill="#111">10700</text>
<line x1="56.0" y1="142.60" x2="59.6" y2="142.60" stroke="#111" stroke-width="0.9"/>
<text x="52.4" y="145.85" font-size="8.25" text-anchor="end" fill="#111">10750</text>
<line x1="57.7" y1="410.50" x2="59.6" y2="410.50" stroke="#111" stroke-width="0.7"/>
<line x1="57.7" y1="407.68" x2="59.6" y2="407.68" stroke="#111" stroke-width="0.7"/>
<line x1="57.7" y1="404.86" x2="59.6" y2="404.86" stroke="#111" stroke-width="0.7"/>
<line x1="57.7" y1="402.04" x2="59.6" y2="402.04" stroke="#111" stroke-width="0.7"/>
<line x1="57.7" y1="399.22" x2="59.6" y2="399.22" stroke="#111" stroke-width="0.7"/>
<line x1="57.7" y1="396.40" x2="59.6" y2="396.40" stroke="#111" stroke-width="0.7"/>
<line x1="57.7" y1="393.58" x2="59.6" y2="393.58" stroke="#111" stroke-width="0.7"/>
<line x1="57.7" y1="390.76" x2="59.6" y2="390.76" stroke="#111" stroke-width="0.7"/>
<line x1="57.7" y1="387.94" x2="59.6" y2="387.94" stroke="#111" stroke-width="0.7"/>
<line x1="57.7" y1="385.12" x2="59.6" y2="385.12" stroke="#111" stroke-width="0.7"/>
<line x1="57.7" y1="382.30" x2="59.6" y2="382.30" stroke="#111" stroke-width="0.7"/>
<line x1="57.7" y1="379.48" x2="59.6" y2="379.48" stroke="#111" stroke-width="0.7"/>
<line x1="57.7" y1="376.66" x2="59.6" y2="376.66" stroke="#111" stroke-width="0.7"/>
<line x1="57.7" y1="373.84" x2="59.6" y2="373.84" stroke="#111" stroke-width="0.7"/>
<line x1="57.7" y1="371.02" x2="59.6" y2="371.02" stroke="#111" stroke-width="0.7"/>
<line x1="57.7" y1="368.20" x2="59.6" y2="368.20" stroke="#111" stroke-width="0.7"/>
<line x1="57.7" y1="365.38" x2="59.6" y2="365.38" stroke="#111" stroke-width="0.7"/>
<line x1="57.7" y1="362.56" x2="59.6" y2="362.56" stroke="#111" stroke-width="0.7"/>
<line x1="57.7" y1="359.74" x2="59.6" y2="359.74" stroke="#111" stroke-width="0.7"/>
<line x1="57.7" y1="356.92" x2="59.6" y2="356.92" stroke="#111" stroke-width="0.7"/>
<line x1="57.7" y1="354.10" x2="59.6" y2="354.10" stroke="#111" stroke-width="0.7"/>
<line x1="57.7" y1="351.28" x2="59.6" y2="351.28" stroke="#111" stroke-width="0.7"/>
<line x1="57.7" y1="348.46" x2="59.6" y2="348.46" stroke="#111" stroke-width="0.7"/>
<line x1="57.7" y1="345.64" x2="59.6" y2="345.64" stroke="#111" stroke-width="0.7"/>
<line x1="57.7" y1="342.82" x2="59.6" y2="342.82" stroke="#111" stroke-width="0.7"/>
<line x1="57.7" y1="340.00" x2="59.6" y2="340.00" stroke="#111" stroke-width="0.7"/>
<line x1="57.7" y1="337.18" x2="59.6" y2="337.18" stroke="#111" stroke-width="0.7"/>
<line x1="57.7" y1="334.36" x2="59.6" y2="334.36" stroke="#111" stroke-width="0.7"/>
<line x1="57.7" y1="331.54" x2="59.6" y2="331.54" stroke="#111" stroke-width="0.7"/>
<line x1="57.7" y1="328.72" x2="59.6" y2="328.72" stroke="#111" stroke-width="0.7"/>
<line x1="57.7" y1="325.90" x2="59.6" y2="325.90" stroke="#111" stroke-width="0.7"/>
<line x1="57.7" y1="323.08" x2="59.6" y2="323.08" stroke="#111" stroke-width="0.7"/>
<line x1="57.7" y1="320.26" x2="59.6" y2="320.26" stroke="#111" stroke-width="0.7"/>
<line x1="57.7" y1="317.44" x2="59.6" y2="317.44" stroke="#111" stroke-width="0.7"/>
<line x1="57.7" y1="314.62" x2="59.6" y2="314.62" stroke="#111" stroke-width="0.7"/>
<line x1="57.7" y1="311.80" x2="59.6" y2="311.80" stroke="#111" stroke-width="0.7"/>
<line x1="57.7" y1="308.98" x2="59.6" y2="308.98" stroke="#111" stroke-width="0.7"/>
<line x1="57.7" y1="306.16" x2="59.6" y2="306.16" stroke="#111" stroke-width="0.7"/>
<line x1="57.7" y1="303.34" x2="59.6" y2="303.34" stroke="#111" stroke-width="0.7"/>
<line x1="57.7" y1="300.52" x2="59.6" y2="300.52" stroke="#111" stroke-width="0.7"/>
<line x1="57.7" y1="297.70" x2="59.6" y2="297.70" stroke="#111" stroke-width="0.7"/>
<line x1="57.7" y1="294.88" x2="59.6" y2="294.88" stroke="#111" stroke-width="0.7"/>
<line x1="57.7" y1="292.06" x2="59.6" y2="292.06" stroke="#111" stroke-width="0.7"/>
<line x1="57.7" y1="289.24" x2="59.6" y2="289.24" stroke="#111" stroke-width="0.7"/>
<line x1="57.7" y1="286.42" x2="59.6" y2="286.42" stroke="#111" stroke-width="0.7"/>
<line x1="57.7" y1="283.60" x2="59.6" y2="283.60" stroke="#111" stroke-width="0.7"/>
<line x1="57.7" y1="280.78" x2="59.6" y2="280.78" stroke="#111" stroke-width="0.7"/>
<line x1="57.7" y1="277.96" x2="59.6" y2="277.96" stroke="#111" stroke-width="0.7"/>
<line x1="57.7" y1="275.14" x2="59.6" y2="275.14" stroke="#111" stroke-width="0.7"/>
<line x1="57.7" y1="272.32" x2="59.6" y2="272.32" stroke="#111" stroke-width="0.7"/>
<line x1="57.7" y1="269.50" x2="59.6" y2="269.50" stroke="#111" stroke-width="0.7"/>
<line x1="57.7" y1="266.68" x2="59.6" y2="266.68" stroke="#111" stroke-width="0.7"/>
<line x1="57.7" y1="263.86" x2="59.6" y2="263.86" stroke="#111" stroke-width="0.7"/>
<line x1="57.7" y1="261.04" x2="59.6" y2="261.04" stroke="#111" stroke-width="0.7"/>
<line x1="57.7" y1="258.22" x2="59.6" y2="258.22" stroke="#111" stroke-width="0.7"/>
<line x1="57.7" y1="255.40" x2="59.6" y2="255.40" stroke="#111" stroke-width="0.7"/>
<line x1="57.7" y1="252.58" x2="59.6" y2="252.58" stroke="#111" stroke-width="0.7"/>
<line x1="57.7" y1="249.76" x2="59.6" y2="249.76" stroke="#111" stroke-width="0.7"/>
<line x1="57.7" y1="246.94" x2="59.6" y2="246.94" stroke="#111" stroke-width="0.7"/>
<line x1="57.7" y1="244.12" x2="59.6" y2="244.12" stroke="#111" stroke-width="0.7"/>
<line x1="57.7" y1="241.30" x2="59.6" y2="241.30" stroke="#111" stroke-width="0.7"/>
<line x1="57.7" y1="238.48" x2="59.6" y2="238.48" stroke="#111" stroke-width="0.7"/>
<line x1="57.7" y1="235.66" x2="59.6" y2="235.66" stroke="#111" stroke-width="0.7"/>
<line x1="57.7" y1="232.84" x2="59.6" y2="232.84" stroke="#111" stroke-width="0.7"/>
<line x1="57.7" y1="230.02" x2="59.6" y2="230.02" stroke="#111" stroke-width="0.7"/>
<line x1="57.7" y1="227.20" x2="59.6" y2="227.20" stroke="#111" stroke-width="0.7"/>
<line x1="57.7" y1="224.38" x2="59.6" y2="224.38" stroke="#111" stroke-width="0.7"/>
<line x1="57.7" y1="221.56" x2="59.6" y2="221.56" stroke="#111" stroke-width="0.7"/>
<line x1="57.7" y1="218.74" x2="59.6" y2="218.74" stroke="#111" stroke-width="0.7"/>
<line x1="57.7" y1="215.92" x2="59.6" y2="215.92" stroke="#111" stroke-width="0.7"/>
<line x1="57.7" y1="213.10" x2="59.6" y2="213.10" stroke="#111" stroke-width="0.7"/>
<line x1="57.7" y1="210.28" x2="59.6" y2="210.28" stroke="#111" stroke-width="0.7"/>
<line x1="57.7" y1="207.46" x2="59.6" y2="207.46" stroke="#111" stroke-width="0.7"/>
<line x1="57.7" y1="204.64" x2="59.6" y2="204.64" stroke="#111" stroke-width="0.7"/>
<line x1="57.7" y1="201.82" x2="59.6" y2="201.82" stroke="#111" stroke-width="0.7"/>
<line x1="57.7" y1="199.00" x2="59.6" y2="199.00" stroke="#111" stroke-width="0.7"/>
<line x1="57.7" y1="196.18" x2="59.6" y2="196.18" stroke="#111" stroke-width="0.7"/>
<line x1="57.7" y1="193.36" x2="59.6" y2="193.36" stroke="#111" stroke-width="0.7"/>
<line x1="57.7" y1="190.54" x2="59.6" y2="190.54" stroke="#111" stroke-width="0.7"/>
<line x1="57.7" y1="187.72" x2="59.6" y2="187.72" stroke="#111" stroke-width="0.7"/>
<line x1="57.7" y1="184.90" x2="59.6" y2="184.90" stroke="#111" stroke-width="0.7"/>
<line x1="57.7" y1="182.08" x2="59.6" y2="182.08" stroke="#111" stroke-width="0.7"/>
<line x1="57.7" y1="179.26" x2="59.6" y2="179.26" stroke="#111" stroke-width="0.7"/>
<line x1="57.7" y1="176.44" x2="59.6" y2="176.44" stroke="#111" stroke-width="0.7"/>
<line x1="57.7" y1="173.62" x2="59.6" y2="173.62" stroke="#111" stroke-width="0.7"/>
<line x1="57.7" y1="170.80" x2="59.6" y2="170.80" stroke="#111" stroke-width="0.7"/>
<line x1="57.7" y1="167.98" x2="59.6" y2="167.98" stroke="#111" stroke-width="0.7"/>
<line x1="57.7" y1="165.16" x2="59.6" y2="165.16" stroke="#111" stroke-width="0.7"/>
<line x1="57.7" y1="162.34" x2="59.6" y2="162.34" stroke="#111" stroke-width="0.7"/>
<line x1="57.7" y1="159.52" x2="59.6" y2="159.52" stroke="#111" stroke-width="0.7"/>
<line x1="57.7" y1="156.70" x2="59.6" y2="156.70" stroke="#111" stroke-width="0.7"/>
<line x1="57.7" y1="153.88" x2="59.6" y2="153.88" stroke="#111" stroke-width="0.7"/>
<line x1="57.7" y1="151.06" x2="59.6" y2="151.06" stroke="#111" stroke-width="0.7"/>
<line x1="57.7" y1="148.24" x2="59.6" y2="148.24" stroke="#111" stroke-width="0.7"/>
<line x1="57.7" y1="145.42" x2="59.6" y2="145.42" stroke="#111" stroke-width="0.7"/>
<line x1="57.7" y1="142.60" x2="59.6" y2="142.60" stroke="#111" stroke-width="0.7"/>
<line x1="57.7" y1="139.78" x2="59.6" y2="139.78" stroke="#111" stroke-width="0.7"/>
<line x1="57.7" y1="136.96" x2="59.6" y2="136.96" stroke="#111" stroke-width="0.7"/>
<line x1="57.7" y1="134.14" x2="59.6" y2="134.14" stroke="#111" stroke-width="0.7"/>
<line x1="57.7" y1="131.32" x2="59.6" y2="131.32" stroke="#111" stroke-width="0.7"/>
<line x1="57.7" y1="128.50" x2="59.6" y2="128.50" stroke="#111" stroke-width="0.7"/>
<text transform="translate(18.3,275.6) rotate(-90)" font-size="8.6" fill="#111" textLength="9.2" lengthAdjust="spacingAndGlyphs">nT</text>
<line x1="72.50" y1="410.5" x2="72.50" y2="413.9" stroke="#111" stroke-width="0.9"/>
<text x="72.50" y="422.6" font-size="9" text-anchor="middle" fill="#111" textLength="9.4" lengthAdjust="spacingAndGlyphs">12</text>
<line x1="91.30" y1="410.5" x2="91.30" y2="413.9" stroke="#111" stroke-width="0.9"/>
<text x="91.30" y="422.6" font-size="9" text-anchor="middle" fill="#111" textLength="9.4" lengthAdjust="spacingAndGlyphs">13</text>
<line x1="110.10" y1="410.5" x2="110.10" y2="413.9" stroke="#111" stroke-width="0.9"/>
<text x="110.10" y="422.6" font-size="9" text-anchor="middle" fill="#111" textLength="9.4" lengthAdjust="spacingAndGlyphs">14</text>
<line x1="128.90" y1="410.5" x2="128.90" y2="413.9" stroke="#111" stroke-width="0.9"/>
<text x="128.90" y="422.6" font-size="9" text-anchor="middle" fill="#111" textLength="9.4" lengthAdjust="spacingAndGlyphs">15</text>
<line x1="147.70" y1="410.5" x2="147.70" y2="413.9" stroke="#111" stroke-width="0.9"/>
<text x="147.70" y="422.6" font-size="9" text-anchor="middle" fill="#111" textLength="9.4" lengthAdjust="spacingAndGlyphs">16</text>
<line x1="166.50" y1="410.5" x2="166.50" y2="413.9" stroke="#111" stroke-width="0.9"/>
<text x="166.50" y="422.6" font-size="9" text-anchor="middle" fill="#111" textLength="9.4" lengthAdjust="spacingAndGlyphs">17</text>
<line x1="185.30" y1="410.5" x2="185.30" y2="413.9" stroke="#111" stroke-width="0.9"/>
<text x="185.30" y="422.6" font-size="9" text-anchor="middle" fill="#111" textLength="9.4" lengthAdjust="spacingAndGlyphs">18</text>
<line x1="204.10" y1="410.5" x2="204.10" y2="413.9" stroke="#111" stroke-width="0.9"/>
<text x="204.10" y="422.6" font-size="9" text-anchor="middle" fill="#111" textLength="9.4" lengthAdjust="spacingAndGlyphs">19</text>
<line x1="222.90" y1="410.5" x2="222.90" y2="413.9" stroke="#111" stroke-width="0.9"/>
<text x="222.90" y="422.6" font-size="9" text-anchor="middle" fill="#111" textLength="9.4" lengthAdjust="spacingAndGlyphs">20</text>
<line x1="241.70" y1="410.5" x2="241.70" y2="413.9" stroke="#111" stroke-width="0.9"/>
<text x="241.70" y="422.6" font-size="9" text-anchor="middle" fill="#111" textLength="9.4" lengthAdjust="spacingAndGlyphs">21</text>
<line x1="260.50" y1="410.5" x2="260.50" y2="413.9" stroke="#111" stroke-width="0.9"/>
<text x="260.50" y="422.6" font-size="9" text-anchor="middle" fill="#111" textLength="9.4" lengthAdjust="spacingAndGlyphs">22</text>
<line x1="279.30" y1="410.5" x2="279.30" y2="413.9" stroke="#111" stroke-width="0.9"/>
<text x="279.30" y="422.6" font-size="9" text-anchor="middle" fill="#111" textLength="9.4" lengthAdjust="spacingAndGlyphs">23</text>
<line x1="298.10" y1="410.5" x2="298.10" y2="413.9" stroke="#111" stroke-width="0.9"/>
<text x="298.10" y="422.6" font-size="9" text-anchor="middle" fill="#111" textLength="9.4" lengthAdjust="spacingAndGlyphs">00</text>
<line x1="316.90" y1="410.5" x2="316.90" y2="413.9" stroke="#111" stroke-width="0.9"/>
<text x="316.90" y="422.6" font-size="9" text-anchor="middle" fill="#111" textLength="9.4" lengthAdjust="spacingAndGlyphs">01</text>
<line x1="335.70" y1="410.5" x2="335.70" y2="413.9" stroke="#111" stroke-width="0.9"/>
<text x="335.70" y="422.6" font-size="9" text-anchor="middle" fill="#111" textLength="9.4" lengthAdjust="spacingAndGlyphs">02</text>
<line x1="354.50" y1="410.5" x2="354.50" y2="413.9" stroke="#111" stroke-width="0.9"/>
<text x="354.50" y="422.6" font-size="9" text-anchor="middle" fill="#111" textLength="9.4" lengthAdjust="spacingAndGlyphs">03</text>
<line x1="373.30" y1="410.5" x2="373.30" y2="413.9" stroke="#111" stroke-width="0.9"/>
<text x="373.30" y="422.6" font-size="9" text-anchor="middle" fill="#111" textLength="9.4" lengthAdjust="spacingAndGlyphs">04</text>
<line x1="392.10" y1="410.5" x2="392.10" y2="413.9" stroke="#111" stroke-width="0.9"/>
<text x="392.10" y="422.6" font-size="9" text-anchor="middle" fill="#111" textLength="9.4" lengthAdjust="spacingAndGlyphs">05</text>
<line x1="410.90" y1="410.5" x2="410.90" y2="413.9" stroke="#111" stroke-width="0.9"/>
<text x="410.90" y="422.6" font-size="9" text-anchor="middle" fill="#111" textLength="9.4" lengthAdjust="spacingAndGlyphs">06</text>
<line x1="429.70" y1="410.5" x2="429.70" y2="413.9" stroke="#111" stroke-width="0.9"/>
<text x="429.70" y="422.6" font-size="9" text-anchor="middle" fill="#111" textLength="9.4" lengthAdjust="spacingAndGlyphs">07</text>
<line x1="448.50" y1="410.5" x2="448.50" y2="413.9" stroke="#111" stroke-width="0.9"/>
<text x="448.50" y="422.6" font-size="9" text-anchor="middle" fill="#111" textLength="9.4" lengthAdjust="spacingAndGlyphs">08</text>
<line x1="467.30" y1="410.5" x2="467.30" y2="413.9" stroke="#111" stroke-width="0.9"/>
<text x="467.30" y="422.6" font-size="9" text-anchor="middle" fill="#111" textLength="9.4" lengthAdjust="spacingAndGlyphs">09</text>
<line x1="486.10" y1="410.5" x2="486.10" y2="413.9" stroke="#111" stroke-width="0.9"/>
<text x="486.10" y="422.6" font-size="9" text-anchor="middle" fill="#111" textLength="9.4" lengthAdjust="spacingAndGlyphs">10</text>
<line x1="504.90" y1="410.5" x2="504.90" y2="413.9" stroke="#111" stroke-width="0.9"/>
<text x="504.90" y="422.6" font-size="9" text-anchor="middle" fill="#111" textLength="9.4" lengthAdjust="spacingAndGlyphs">11</text>
<line x1="511.7" y1="128.3" x2="511.7" y2="410.5" stroke="#1010ff" stroke-width="1.3" stroke-dasharray="3.6 1.3"/>
<line x1="511.7" y1="410.50" x2="515.1" y2="410.50" stroke="#1010ff" stroke-width="0.9"/>
<text x="517.6" y="413.75" font-size="8.3" fill="#1010ff">−200</text>
<line x1="561.4" y1="410.50" x2="564.8" y2="410.50" stroke="#ff1010" stroke-width="0.9"/>
<text x="566.8" y="413.75" font-size="8.2" fill="#ff1010">51800</text>
<line x1="511.7" y1="390.36" x2="515.1" y2="390.36" stroke="#1010ff" stroke-width="0.9"/>
<text x="517.6" y="393.61" font-size="8.3" fill="#1010ff">−150</text>
<line x1="561.4" y1="390.36" x2="564.8" y2="390.36" stroke="#ff1010" stroke-width="0.9"/>
<text x="566.8" y="393.61" font-size="8.2" fill="#ff1010">51850</text>
<line x1="511.7" y1="370.22" x2="515.1" y2="370.22" stroke="#1010ff" stroke-width="0.9"/>
<text x="517.6" y="373.47" font-size="8.3" fill="#1010ff">−100</text>
<line x1="561.4" y1="370.22" x2="564.8" y2="370.22" stroke="#ff1010" stroke-width="0.9"/>
<text x="566.8" y="373.47" font-size="8.2" fill="#ff1010">51900</text>
<line x1="511.7" y1="350.08" x2="515.1" y2="350.08" stroke="#1010ff" stroke-width="0.9"/>
<text x="517.6" y="353.33" font-size="8.3" fill="#1010ff">−50</text>
<line x1="561.4" y1="350.08" x2="564.8" y2="350.08" stroke="#ff1010" stroke-width="0.9"/>
<text x="566.8" y="353.33" font-size="8.2" fill="#ff1010">51950</text>
<line x1="511.7" y1="329.94" x2="515.1" y2="329.94" stroke="#1010ff" stroke-width="0.9"/>
<text x="517.6" y="333.19" font-size="8.3" fill="#1010ff">0</text>
<line x1="561.4" y1="329.94" x2="564.8" y2="329.94" stroke="#ff1010" stroke-width="0.9"/>
<text x="566.8" y="333.19" font-size="8.2" fill="#ff1010">52000</text>
<line x1="511.7" y1="309.80" x2="515.1" y2="309.80" stroke="#1010ff" stroke-width="0.9"/>
<text x="517.6" y="313.05" font-size="8.3" fill="#1010ff">50</text>
<line x1="561.4" y1="309.80" x2="564.8" y2="309.80" stroke="#ff1010" stroke-width="0.9"/>
<text x="566.8" y="313.05" font-size="8.2" fill="#ff1010">52050</text>
<line x1="511.7" y1="289.66" x2="515.1" y2="289.66" stroke="#1010ff" stroke-width="0.9"/>
<text x="517.6" y="292.91" font-size="8.3" fill="#1010ff">100</text>
<line x1="561.4" y1="289.66" x2="564.8" y2="289.66" stroke="#ff1010" stroke-width="0.9"/>
<text x="566.8" y="292.91" font-size="8.2" fill="#ff1010">52100</text>
<line x1="511.7" y1="269.52" x2="515.1" y2="269.52" stroke="#1010ff" stroke-width="0.9"/>
<text x="517.6" y="272.77" font-size="8.3" fill="#1010ff">150</text>
<line x1="561.4" y1="269.52" x2="564.8" y2="269.52" stroke="#ff1010" stroke-width="0.9"/>
<text x="566.8" y="272.77" font-size="8.2" fill="#ff1010">52150</text>
<line x1="511.7" y1="249.38" x2="515.1" y2="249.38" stroke="#1010ff" stroke-width="0.9"/>
<text x="517.6" y="252.63" font-size="8.3" fill="#1010ff">200</text>
<line x1="561.4" y1="249.38" x2="564.8" y2="249.38" stroke="#ff1010" stroke-width="0.9"/>
<text x="566.8" y="252.63" font-size="8.2" fill="#ff1010">52200</text>
<line x1="511.7" y1="229.24" x2="515.1" y2="229.24" stroke="#1010ff" stroke-width="0.9"/>
<text x="517.6" y="232.49" font-size="8.3" fill="#1010ff">250</text>
<line x1="561.4" y1="229.24" x2="564.8" y2="229.24" stroke="#ff1010" stroke-width="0.9"/>
<text x="566.8" y="232.49" font-size="8.2" fill="#ff1010">52250</text>
<line x1="511.7" y1="209.10" x2="515.1" y2="209.10" stroke="#1010ff" stroke-width="0.9"/>
<text x="517.6" y="212.35" font-size="8.3" fill="#1010ff">300</text>
<line x1="561.4" y1="209.10" x2="564.8" y2="209.10" stroke="#ff1010" stroke-width="0.9"/>
<text x="566.8" y="212.35" font-size="8.2" fill="#ff1010">52300</text>
<line x1="511.7" y1="188.96" x2="515.1" y2="188.96" stroke="#1010ff" stroke-width="0.9"/>
<text x="517.6" y="192.21" font-size="8.3" fill="#1010ff">350</text>
<line x1="561.4" y1="188.96" x2="564.8" y2="188.96" stroke="#ff1010" stroke-width="0.9"/>
<text x="566.8" y="192.21" font-size="8.2" fill="#ff1010">52350</text>
<line x1="511.7" y1="168.82" x2="515.1" y2="168.82" stroke="#1010ff" stroke-width="0.9"/>
<text x="517.6" y="172.07" font-size="8.3" fill="#1010ff">400</text>
<line x1="561.4" y1="168.82" x2="564.8" y2="168.82" stroke="#ff1010" stroke-width="0.9"/>
<text x="566.8" y="172.07" font-size="8.2" fill="#ff1010">52400</text>
<line x1="511.7" y1="148.68" x2="515.1" y2="148.68" stroke="#1010ff" stroke-width="0.9"/>
<text x="517.6" y="151.93" font-size="8.3" fill="#1010ff">450</text>
<line x1="561.4" y1="148.68" x2="564.8" y2="148.68" stroke="#ff1010" stroke-width="0.9"/>
<text x="566.8" y="151.93" font-size="8.2" fill="#ff1010">52450</text>
<line x1="511.7" y1="410.50" x2="513.6" y2="410.50" stroke="#1010ff" stroke-width="0.7"/>
<line x1="561.4" y1="410.50" x2="563.3" y2="410.50" stroke="#ff1010" stroke-width="0.7"/>
<line x1="511.7" y1="406.47" x2="513.6" y2="406.47" stroke="#1010ff" stroke-width="0.7"/>
<line x1="561.4" y1="406.47" x2="563.3" y2="406.47" stroke="#ff1010" stroke-width="0.7"/>
<line x1="511.7" y1="402.44" x2="513.6" y2="402.44" stroke="#1010ff" stroke-width="0.7"/>
<line x1="561.4" y1="402.44" x2="563.3" y2="402.44" stroke="#ff1010" stroke-width="0.7"/>
<line x1="511.7" y1="398.42" x2="513.6" y2="398.42" stroke="#1010ff" stroke-width="0.7"/>
<line x1="561.4" y1="398.42" x2="563.3" y2="398.42" stroke="#ff1010" stroke-width="0.7"/>
<line x1="511.7" y1="394.39" x2="513.6" y2="394.39" stroke="#1010ff" stroke-width="0.7"/>
<line x1="561.4" y1="394.39" x2="563.3" y2="394.39" stroke="#ff1010" stroke-width="0.7"/>
<line x1="511.7" y1="390.36" x2="513.6" y2="390.36" stroke="#1010ff" stroke-width="0.7"/>
<line x1="561.4" y1="390.36" x2="563.3" y2="390.36" stroke="#ff1010" stroke-width="0.7"/>
<line x1="511.7" y1="386.33" x2="513.6" y2="386.33" stroke="#1010ff" stroke-width="0.7"/>
<line x1="561.4" y1="386.33" x2="563.3" y2="386.33" stroke="#ff1010" stroke-width="0.7"/>
<line x1="511.7" y1="382.30" x2="513.6" y2="382.30" stroke="#1010ff" stroke-width="0.7"/>
<line x1="561.4" y1="382.30" x2="563.3" y2="382.30" stroke="#ff1010" stroke-width="0.7"/>
<line x1="511.7" y1="378.28" x2="513.6" y2="378.28" stroke="#1010ff" stroke-width="0.7"/>
<line x1="561.4" y1="378.28" x2="563.3" y2="378.28" stroke="#ff1010" stroke-width="0.7"/>
<line x1="511.7" y1="374.25" x2="513.6" y2="374.25" stroke="#1010ff" stroke-width="0.7"/>
<line x1="561.4" y1="374.25" x2="563.3" y2="374.25" stroke="#ff1010" stroke-width="0.7"/>
<line x1="511.7" y1="370.22" x2="513.6" y2="370.22" stroke="#1010ff" stroke-width="0.7"/>
<line x1="561.4" y1="370.22" x2="563.3" y2="370.22" stroke="#ff1010" stroke-width="0.7"/>
<line x1="511.7" y1="366.19" x2="513.6" y2="366.19" stroke="#1010ff" stroke-width="0.7"/>
<line x1="561.4" y1="366.19" x2="563.3" y2="366.19" stroke="#ff1010" stroke-width="0.7"/>
<line x1="511.7" y1="362.16" x2="513.6" y2="362.16" stroke="#1010ff" stroke-width="0.7"/>
<line x1="561.4" y1="362.16" x2="563.3" y2="362.16" stroke="#ff1010" stroke-width="0.7"/>
<line x1="511.7" y1="358.14" x2="513.6" y2="358.14" stroke="#1010ff" stroke-width="0.7"/>
<line x1="561.4" y1="358.14" x2="563.3" y2="358.14" stroke="#ff1010" stroke-width="0.7"/>
<line x1="511.7" y1="354.11" x2="513.6" y2="354.11" stroke="#1010ff" stroke-width="0.7"/>
<line x1="561.4" y1="354.11" x2="563.3" y2="354.11" stroke="#ff1010" stroke-width="0.7"/>
<line x1="511.7" y1="350.08" x2="513.6" y2="350.08" stroke="#1010ff" stroke-width="0.7"/>
<line x1="561.4" y1="350.08" x2="563.3" y2="350.08" stroke="#ff1010" stroke-width="0.7"/>
<line x1="511.7" y1="346.05" x2="513.6" y2="346.05" stroke="#1010ff" stroke-width="0.7"/>
<line x1="561.4" y1="346.05" x2="563.3" y2="346.05" stroke="#ff1010" stroke-width="0.7"/>
<line x1="511.7" y1="342.02" x2="513.6" y2="342.02" stroke="#1010ff" stroke-width="0.7"/>
<line x1="561.4" y1="342.02" x2="563.3" y2="342.02" stroke="#ff1010" stroke-width="0.7"/>
<line x1="511.7" y1="338.00" x2="513.6" y2="338.00" stroke="#1010ff" stroke-width="0.7"/>
<line x1="561.4" y1="338.00" x2="563.3" y2="338.00" stroke="#ff1010" stroke-width="0.7"/>
<line x1="511.7" y1="333.97" x2="513.6" y2="333.97" stroke="#1010ff" stroke-width="0.7"/>
<line x1="561.4" y1="333.97" x2="563.3" y2="333.97" stroke="#ff1010" stroke-width="0.7"/>
<line x1="511.7" y1="329.94" x2="513.6" y2="329.94" stroke="#1010ff" stroke-width="0.7"/>
<line x1="561.4" y1="329.94" x2="563.3" y2="329.94" stroke="#ff1010" stroke-width="0.7"/>
<line x1="511.7" y1="325.91" x2="513.6" y2="325.91" stroke="#1010ff" stroke-width="0.7"/>
<line x1="561.4" y1="325.91" x2="563.3" y2="325.91" stroke="#ff1010" stroke-width="0.7"/>
<line x1="511.7" y1="321.88" x2="513.6" y2="321.88" stroke="#1010ff" stroke-width="0.7"/>
<line x1="561.4" y1="321.88" x2="563.3" y2="321.88" stroke="#ff1010" stroke-width="0.7"/>
<line x1="511.7" y1="317.86" x2="513.6" y2="317.86" stroke="#1010ff" stroke-width="0.7"/>
<line x1="561.4" y1="317.86" x2="563.3" y2="317.86" stroke="#ff1010" stroke-width="0.7"/>
<line x1="511.7" y1="313.83" x2="513.6" y2="313.83" stroke="#1010ff" stroke-width="0.7"/>
<line x1="561.4" y1="313.83" x2="563.3" y2="313.83" stroke="#ff1010" stroke-width="0.7"/>
<line x1="511.7" y1="309.80" x2="513.6" y2="309.80" stroke="#1010ff" stroke-width="0.7"/>
<line x1="561.4" y1="309.80" x2="563.3" y2="309.80" stroke="#ff1010" stroke-width="0.7"/>
<line x1="511.7" y1="305.77" x2="513.6" y2="305.77" stroke="#1010ff" stroke-width="0.7"/>
<line x1="561.4" y1="305.77" x2="563.3" y2="305.77" stroke="#ff1010" stroke-width="0.7"/>
<line x1="511.7" y1="301.74" x2="513.6" y2="301.74" stroke="#1010ff" stroke-width="0.7"/>
<line x1="561.4" y1="301.74" x2="563.3" y2="301.74" stroke="#ff1010" stroke-width="0.7"/>
<line x1="511.7" y1="297.72" x2="513.6" y2="297.72" stroke="#1010ff" stroke-width="0.7"/>
<line x1="561.4" y1="297.72" x2="563.3" y2="297.72" stroke="#ff1010" stroke-width="0.7"/>
<line x1="511.7" y1="293.69" x2="513.6" y2="293.69" stroke="#1010ff" stroke-width="0.7"/>
<line x1="561.4" y1="293.69" x2="563.3" y2="293.69" stroke="#ff1010" stroke-width="0.7"/>
<line x1="511.7" y1="289.66" x2="513.6" y2="289.66" stroke="#1010ff" stroke-width="0.7"/>
<line x1="561.4" y1="289.66" x2="563.3" y2="289.66" stroke="#ff1010" stroke-width="0.7"/>
<line x1="511.7" y1="285.63" x2="513.6" y2="285.63" stroke="#1010ff" stroke-width="0.7"/>
<line x1="561.4" y1="285.63" x2="563.3" y2="285.63" stroke="#ff1010" stroke-width="0.7"/>
<line x1="511.7" y1="281.60" x2="513.6" y2="281.60" stroke="#1010ff" stroke-width="0.7"/>
<line x1="561.4" y1="281.60" x2="563.3" y2="281.60" stroke="#ff1010" stroke-width="0.7"/>
<line x1="511.7" y1="277.58" x2="513.6" y2="277.58" stroke="#1010ff" stroke-width="0.7"/>
<line x1="561.4" y1="277.58" x2="563.3" y2="277.58" stroke="#ff1010" stroke-width="0.7"/>
<line x1="511.7" y1="273.55" x2="513.6" y2="273.55" stroke="#1010ff" stroke-width="0.7"/>
<line x1="561.4" y1="273.55" x2="563.3" y2="273.55" stroke="#ff1010" stroke-width="0.7"/>
<line x1="511.7" y1="269.52" x2="513.6" y2="269.52" stroke="#1010ff" stroke-width="0.7"/>
<line x1="561.4" y1="269.52" x2="563.3" y2="269.52" stroke="#ff1010" stroke-width="0.7"/>
<line x1="511.7" y1="265.49" x2="513.6" y2="265.49" stroke="#1010ff" stroke-width="0.7"/>
<line x1="561.4" y1="265.49" x2="563.3" y2="265.49" stroke="#ff1010" stroke-width="0.7"/>
<line x1="511.7" y1="261.46" x2="513.6" y2="261.46" stroke="#1010ff" stroke-width="0.7"/>
<line x1="561.4" y1="261.46" x2="563.3" y2="261.46" stroke="#ff1010" stroke-width="0.7"/>
<line x1="511.7" y1="257.44" x2="513.6" y2="257.44" stroke="#1010ff" stroke-width="0.7"/>
<line x1="561.4" y1="257.44" x2="563.3" y2="257.44" stroke="#ff1010" stroke-width="0.7"/>
<line x1="511.7" y1="253.41" x2="513.6" y2="253.41" stroke="#1010ff" stroke-width="0.7"/>
<line x1="561.4" y1="253.41" x2="563.3" y2="253.41" stroke="#ff1010" stroke-width="0.7"/>
<line x1="511.7" y1="249.38" x2="513.6" y2="249.38" stroke="#1010ff" stroke-width="0.7"/>
<line x1="561.4" y1="249.38" x2="563.3" y2="249.38" stroke="#ff1010" stroke-width="0.7"/>
<line x1="511.7" y1="245.35" x2="513.6" y2="245.35" stroke="#1010ff" stroke-width="0.7"/>
<line x1="561.4" y1="245.35" x2="563.3" y2="245.35" stroke="#ff1010" stroke-width="0.7"/>
<line x1="511.7" y1="241.32" x2="513.6" y2="241.32" stroke="#1010ff" stroke-width="0.7"/>
<line x1="561.4" y1="241.32" x2="563.3" y2="241.32" stroke="#ff1010" stroke-width="0.7"/>
<line x1="511.7" y1="237.30" x2="513.6" y2="237.30" stroke="#1010ff" stroke-width="0.7"/>
<line x1="561.4" y1="237.30" x2="563.3" y2="237.30" stroke="#ff1010" stroke-width="0.7"/>
<line x1="511.7" y1="233.27" x2="513.6" y2="233.27" stroke="#1010ff" stroke-width="0.7"/>
<line x1="561.4" y1="233.27" x2="563.3" y2="233.27" stroke="#ff1010" stroke-width="0.7"/>
<line x1="511.7" y1="229.24" x2="513.6" y2="229.24" stroke="#1010ff" stroke-width="0.7"/>
<line x1="561.4" y1="229.24" x2="563.3" y2="229.24" stroke="#ff1010" stroke-width="0.7"/>
<line x1="511.7" y1="225.21" x2="513.6" y2="225.21" stroke="#1010ff" stroke-width="0.7"/>
<line x1="561.4" y1="225.21" x2="563.3" y2="225.21" stroke="#ff1010" stroke-width="0.7"/>
<line x1="511.7" y1="221.18" x2="513.6" y2="221.18" stroke="#1010ff" stroke-width="0.7"/>
<line x1="561.4" y1="221.18" x2="563.3" y2="221.18" stroke="#ff1010" stroke-width="0.7"/>
<line x1="511.7" y1="217.16" x2="513.6" y2="217.16" stroke="#1010ff" stroke-width="0.7"/>
<line x1="561.4" y1="217.16" x2="563.3" y2="217.16" stroke="#ff1010" stroke-width="0.7"/>
<line x1="511.7" y1="213.13" x2="513.6" y2="213.13" stroke="#1010ff" stroke-width="0.7"/>
<line x1="561.4" y1="213.13" x2="563.3" y2="213.13" stroke="#ff1010" stroke-width="0.7"/>
<line x1="511.7" y1="209.10" x2="513.6" y2="209.10" stroke="#1010ff" stroke-width="0.7"/>
<line x1="561.4" y1="209.10" x2="563.3" y2="209.10" stroke="#ff1010" stroke-width="0.7"/>
<line x1="511.7" y1="205.07" x2="513.6" y2="205.07" stroke="#1010ff" stroke-width="0.7"/>
<line x1="561.4" y1="205.07" x2="563.3" y2="205.07" stroke="#ff1010" stroke-width="0.7"/>
<line x1="511.7" y1="201.04" x2="513.6" y2="201.04" stroke="#1010ff" stroke-width="0.7"/>
<line x1="561.4" y1="201.04" x2="563.3" y2="201.04" stroke="#ff1010" stroke-width="0.7"/>
<line x1="511.7" y1="197.02" x2="513.6" y2="197.02" stroke="#1010ff" stroke-width="0.7"/>
<line x1="561.4" y1="197.02" x2="563.3" y2="197.02" stroke="#ff1010" stroke-width="0.7"/>
<line x1="511.7" y1="192.99" x2="513.6" y2="192.99" stroke="#1010ff" stroke-width="0.7"/>
<line x1="561.4" y1="192.99" x2="563.3" y2="192.99" stroke="#ff1010" stroke-width="0.7"/>
<line x1="511.7" y1="188.96" x2="513.6" y2="188.96" stroke="#1010ff" stroke-width="0.7"/>
<line x1="561.4" y1="188.96" x2="563.3" y2="188.96" stroke="#ff1010" stroke-width="0.7"/>
<line x1="511.7" y1="184.93" x2="513.6" y2="184.93" stroke="#1010ff" stroke-width="0.7"/>
<line x1="561.4" y1="184.93" x2="563.3" y2="184.93" stroke="#ff1010" stroke-width="0.7"/>
<line x1="511.7" y1="180.90" x2="513.6" y2="180.90" stroke="#1010ff" stroke-width="0.7"/>
<line x1="561.4" y1="180.90" x2="563.3" y2="180.90" stroke="#ff1010" stroke-width="0.7"/>
<line x1="511.7" y1="176.88" x2="513.6" y2="176.88" stroke="#1010ff" stroke-width="0.7"/>
<line x1="561.4" y1="176.88" x2="563.3" y2="176.88" stroke="#ff1010" stroke-width="0.7"/>
<line x1="511.7" y1="172.85" x2="513.6" y2="172.85" stroke="#1010ff" stroke-width="0.7"/>
<line x1="561.4" y1="172.85" x2="563.3" y2="172.85" stroke="#ff1010" stroke-width="0.7"/>
<line x1="511.7" y1="168.82" x2="513.6" y2="168.82" stroke="#1010ff" stroke-width="0.7"/>
<line x1="561.4" y1="168.82" x2="563.3" y2="168.82" stroke="#ff1010" stroke-width="0.7"/>
<line x1="511.7" y1="164.79" x2="513.6" y2="164.79" stroke="#1010ff" stroke-width="0.7"/>
<line x1="561.4" y1="164.79" x2="563.3" y2="164.79" stroke="#ff1010" stroke-width="0.7"/>
<line x1="511.7" y1="160.76" x2="513.6" y2="160.76" stroke="#1010ff" stroke-width="0.7"/>
<line x1="561.4" y1="160.76" x2="563.3" y2="160.76" stroke="#ff1010" stroke-width="0.7"/>
<line x1="511.7" y1="156.74" x2="513.6" y2="156.74" stroke="#1010ff" stroke-width="0.7"/>
<line x1="561.4" y1="156.74" x2="563.3" y2="156.74" stroke="#ff1010" stroke-width="0.7"/>
<line x1="511.7" y1="152.71" x2="513.6" y2="152.71" stroke="#1010ff" stroke-width="0.7"/>
<line x1="561.4" y1="152.71" x2="563.3" y2="152.71" stroke="#ff1010" stroke-width="0.7"/>
<line x1="511.7" y1="148.68" x2="513.6" y2="148.68" stroke="#1010ff" stroke-width="0.7"/>
<line x1="561.4" y1="148.68" x2="563.3" y2="148.68" stroke="#ff1010" stroke-width="0.7"/>
<line x1="511.7" y1="144.65" x2="513.6" y2="144.65" stroke="#1010ff" stroke-width="0.7"/>
<line x1="561.4" y1="144.65" x2="563.3" y2="144.65" stroke="#ff1010" stroke-width="0.7"/>
<line x1="511.7" y1="140.62" x2="513.6" y2="140.62" stroke="#1010ff" stroke-width="0.7"/>
<line x1="561.4" y1="140.62" x2="563.3" y2="140.62" stroke="#ff1010" stroke-width="0.7"/>
<line x1="511.7" y1="136.60" x2="513.6" y2="136.60" stroke="#1010ff" stroke-width="0.7"/>
<line x1="561.4" y1="136.60" x2="563.3" y2="136.60" stroke="#ff1010" stroke-width="0.7"/>
<line x1="511.7" y1="132.57" x2="513.6" y2="132.57" stroke="#1010ff" stroke-width="0.7"/>
<line x1="561.4" y1="132.57" x2="563.3" y2="132.57" stroke="#ff1010" stroke-width="0.7"/>
<line x1="511.7" y1="128.54" x2="513.6" y2="128.54" stroke="#1010ff" stroke-width="0.7"/>
<line x1="561.4" y1="128.54" x2="563.3" y2="128.54" stroke="#ff1010" stroke-width="0.7"/>
<line x1="561.4" y1="128.3" x2="561.4" y2="410.5" stroke="#ff1010" stroke-width="1.3" stroke-dasharray="3.6 1.3"/>
</g>
<rect x="68.10000000000001" y="427.3" width="166.0" height="9.3" rx="1.5" fill="#7c7c7c" opacity="0.85"/>
<rect x="66.7" y="425.6" width="166.0" height="9.3" rx="1.5" fill="#fff" stroke="#cfcfcf" stroke-width="0.7"/>
<line x1="69" y1="430.4" x2="80" y2="430.4" stroke="#222" stroke-width="0.9"/>
<text x="85" y="432.1" font-size="5.3" fill="#333" stroke="#333" stroke-width="0.22">X</text>
<line x1="100" y1="430.4" x2="111" y2="430.4" stroke="#c4c4c4" stroke-width="0.9"/>
<text x="114.5" y="432.1" font-size="5.3" fill="#333" stroke="#333" stroke-width="0.22">Solar Quiet X IH</text>
<line x1="168" y1="430.4" x2="178.5" y2="430.4" stroke="#aaa" stroke-width="0.9" stroke-dasharray="1.6 1"/>
<text x="183" y="432.1" font-size="5.3" fill="#333" stroke="#333" stroke-width="0.22">Solar Quiet X FMI</text>
<rect x="276.4" y="427.3" width="166.7" height="9.3" rx="1.5" fill="#7c7c7c" opacity="0.85"/>
<rect x="275" y="425.6" width="166.7" height="9.3" rx="1.5" fill="#fff" stroke="#cfcfcf" stroke-width="0.7"/>
<line x1="278" y1="430.4" x2="289" y2="430.4" stroke="#1010ff" stroke-width="0.9"/>
<text x="294" y="432.1" font-size="5.3" fill="#1010ff" stroke="#1010ff" stroke-width="0.22">Y</text>
<line x1="306.7" y1="430.4" x2="317.5" y2="430.4" stroke="#c0c0ff" stroke-width="0.9"/>
<text x="322.7" y="432.1" font-size="5.3" fill="#1010ff" stroke="#1010ff" stroke-width="0.22">Solar Quiet Y IH</text>
<line x1="375" y1="430.4" x2="386.7" y2="430.4" stroke="#a8a8ff" stroke-width="0.9" stroke-dasharray="1.6 1"/>
<text x="391" y="432.1" font-size="5.3" fill="#1010ff" stroke="#1010ff" stroke-width="0.22">Solar Quiet Y FMI</text>
<rect x="501.4" y="427.3" width="23.200000000000045" height="9.3" rx="1.5" fill="#7c7c7c" opacity="0.85"/>
<rect x="500" y="425.6" width="23.200000000000045" height="9.3" rx="1.5" fill="#fff" stroke="#cfcfcf" stroke-width="0.7"/>
<line x1="502.7" y1="430.4" x2="512" y2="430.4" stroke="#ff1010" stroke-width="0.9"/>
<text x="516.8" y="432.1" font-size="5.3" fill="#ff1010" stroke="#ff1010" stroke-width="0.22">Z</text>
<g>
<line x1="59.9" y1="440.2" x2="511.4" y2="440.2" stroke="#333" stroke-width="1.2"/>
<line x1="59.9" y1="515.80" x2="511.4" y2="515.80" stroke="#008000" stroke-width="1.1" stroke-dasharray="2.6 2.2" opacity="0.95"/>
<line x1="59.9" y1="507.40" x2="511.4" y2="507.40" stroke="#008000" stroke-width="1.1" stroke-dasharray="2.6 2.2" opacity="0.95"/>
<line x1="59.9" y1="499.00" x2="511.4" y2="499.00" stroke="#008000" stroke-width="1.1" stroke-dasharray="2.6 2.2" opacity="0.95"/>
<line x1="59.9" y1="490.60" x2="511.4" y2="490.60" stroke="#008000" stroke-width="1.1" stroke-dasharray="2.6 2.2" opacity="0.95"/>
<line x1="59.9" y1="482.20" x2="511.4" y2="482.20" stroke="#008000" stroke-width="1.1" stroke-dasharray="2.6 2.2" opacity="0.95"/>
<line x1="59.9" y1="473.80" x2="511.4" y2="473.80" stroke="#ffff30" stroke-width="1.1" stroke-dasharray="2.6 2.2" opacity="0.8"/>
<line x1="59.9" y1="465.40" x2="511.4" y2="465.40" stroke="#ffa500" stroke-width="1.1" stroke-dasharray="2.6 2.2" opacity="0.95"/>
<line x1="59.9" y1="457.00" x2="511.4" y2="457.00" stroke="#ff1010" stroke-width="1.1" stroke-dasharray="2.6 2.2" opacity="0.95"/>
<line x1="59.9" y1="448.60" x2="511.4" y2="448.60" stroke="#ff1010" stroke-width="1.1" stroke-dasharray="2.6 2.2" opacity="0.95"/>
<line x1="59.9" y1="440.20" x2="511.4" y2="440.20" stroke="#ff1010" stroke-width="1.1" stroke-dasharray="2.6 2.2" opacity="0.95"/>
<g clip-path="url(#botclip)">
<rect x="74.90" y="482.20" width="23.1" height="42.00" fill="#008000"/>
<line x1="74.90" y1="515.80" x2="98.00" y2="515.80" stroke="#0a8c0a" stroke-width="0.9" stroke-dasharray="2.6 2.2" opacity="0.5"/>
<line x1="74.90" y1="507.40" x2="98.00" y2="507.40" stroke="#0a8c0a" stroke-width="0.9" stroke-dasharray="2.6 2.2" opacity="0.5"/>
<line x1="74.90" y1="499.00" x2="98.00" y2="499.00" stroke="#0a8c0a" stroke-width="0.9" stroke-dasharray="2.6 2.2" opacity="0.5"/>
<line x1="74.90" y1="490.60" x2="98.00" y2="490.60" stroke="#0a8c0a" stroke-width="0.9" stroke-dasharray="2.6 2.2" opacity="0.5"/>
<text x="86.60" y="519.6" font-size="7.6" text-anchor="middle" fill="#052605" opacity="0.9">IH</text>
<rect x="103.40" y="490.60" width="23.1" height="33.60" fill="#008000"/>
<line x1="103.40" y1="515.80" x2="126.50" y2="515.80" stroke="#0a8c0a" stroke-width="0.9" stroke-dasharray="2.6 2.2" opacity="0.5"/>
<line x1="103.40" y1="507.40" x2="126.50" y2="507.40" stroke="#0a8c0a" stroke-width="0.9" stroke-dasharray="2.6 2.2" opacity="0.5"/>
<line x1="103.40" y1="499.00" x2="126.50" y2="499.00" stroke="#0a8c0a" stroke-width="0.9" stroke-dasharray="2.6 2.2" opacity="0.5"/>
<text x="114.80" y="519.6" font-size="7.6" text-anchor="middle" fill="#052605" opacity="0.9">FMI</text>
<rect x="131.30" y="482.20" width="23.1" height="42.00" fill="#008000"/>
<line x1="131.30" y1="515.80" x2="154.40" y2="515.80" stroke="#0a8c0a" stroke-width="0.9" stroke-dasharray="2.6 2.2" opacity="0.5"/>
<line x1="131.30" y1="507.40" x2="154.40" y2="507.40" stroke="#0a8c0a" stroke-width="0.9" stroke-dasharray="2.6 2.2" opacity="0.5"/>
<line x1="131.30" y1="499.00" x2="154.40" y2="499.00" stroke="#0a8c0a" stroke-width="0.9" stroke-dasharray="2.6 2.2" opacity="0.5"/>
<line x1="131.30" y1="490.60" x2="154.40" y2="490.60" stroke="#0a8c0a" stroke-width="0.9" stroke-dasharray="2.6 2.2" opacity="0.5"/>
<text x="143.00" y="519.6" font-size="7.6" text-anchor="middle" fill="#052605" opacity="0.9">IH</text>
<rect x="159.80" y="490.60" width="23.1" height="33.60" fill="#008000"/>
<line x1="159.80" y1="515.80" x2="182.90" y2="515.80" stroke="#0a8c0a" stroke-width="0.9" stroke-dasharray="2.6 2.2" opacity="0.5"/>
<line x1="159.80" y1="507.40" x2="182.90" y2="507.40" stroke="#0a8c0a" stroke-width="0.9" stroke-dasharray="2.6 2.2" opacity="0.5"/>
<line x1="159.80" y1="499.00" x2="182.90" y2="499.00" stroke="#0a8c0a" stroke-width="0.9" stroke-dasharray="2.6 2.2" opacity="0.5"/>
<text x="171.20" y="519.6" font-size="7.6" text-anchor="middle" fill="#052605" opacity="0.9">FMI</text>
<rect x="187.70" y="482.20" width="23.1" height="42.00" fill="#008000"/>
<line x1="187.70" y1="515.80" x2="210.80" y2="515.80" stroke="#0a8c0a" stroke-width="0.9" stroke-dasharray="2.6 2.2" opacity="0.5"/>
<line x1="187.70" y1="507.40" x2="210.80" y2="507.40" stroke="#0a8c0a" stroke-width="0.9" stroke-dasharray="2.6 2.2" opacity="0.5"/>
<line x1="187.70" y1="499.00" x2="210.80" y2="499.00" stroke="#0a8c0a" stroke-width="0.9" stroke-dasharray="2.6 2.2" opacity="0.5"/>
<line x1="187.70" y1="490.60" x2="210.80" y2="490.60" stroke="#0a8c0a" stroke-width="0.9" stroke-dasharray="2.6 2.2" opacity="0.5"/>
<text x="199.40" y="519.6" font-size="7.6" text-anchor="middle" fill="#052605" opacity="0.9">IH</text>
<rect x="216.20" y="482.20" width="23.1" height="42.00" fill="#008000"/>
<line x1="216.20" y1="515.80" x2="239.30" y2="515.80" stroke="#0a8c0a" stroke-width="0.9" stroke-dasharray="2.6 2.2" opacity="0.5"/>
<line x1="216.20" y1="507.40" x2="239.30" y2="507.40" stroke="#0a8c0a" stroke-width="0.9" stroke-dasharray="2.6 2.2" opacity="0.5"/>
<line x1="216.20" y1="499.00" x2="239.30" y2="499.00" stroke="#0a8c0a" stroke-width="0.9" stroke-dasharray="2.6 2.2" opacity="0.5"/>
<line x1="216.20" y1="490.60" x2="239.30" y2="490.60" stroke="#0a8c0a" stroke-width="0.9" stroke-dasharray="2.6 2.2" opacity="0.5"/>
<text x="227.60" y="519.6" font-size="7.6" text-anchor="middle" fill="#052605" opacity="0.9">FMI</text>
<rect x="244.10" y="482.20" width="23.1" height="42.00" fill="#008000"/>
<rect x="244.10" y="473.80" width="23.1" height="8.40" fill="#ffff00"/>
<rect x="244.10" y="465.40" width="23.1" height="8.40" fill="#ffa500"/>
<rect x="244.10" y="457.00" width="23.1" height="8.40" fill="#ff0000"/>
<rect x="244.10" y="457.00" width="23.1" height="67.20" fill="none" stroke="#ff2000" stroke-width="0.9"/>
<line x1="244.10" y1="515.80" x2="267.20" y2="515.80" stroke="#0a8c0a" stroke-width="0.9" stroke-dasharray="2.6 2.2" opacity="0.5"/>
<line x1="244.10" y1="507.40" x2="267.20" y2="507.40" stroke="#0a8c0a" stroke-width="0.9" stroke-dasharray="2.6 2.2" opacity="0.5"/>
<line x1="244.10" y1="499.00" x2="267.20" y2="499.00" stroke="#0a8c0a" stroke-width="0.9" stroke-dasharray="2.6 2.2" opacity="0.5"/>
<line x1="244.10" y1="490.60" x2="267.20" y2="490.60" stroke="#0a8c0a" stroke-width="0.9" stroke-dasharray="2.6 2.2" opacity="0.5"/>
<text x="255.80" y="519.6" font-size="7.6" text-anchor="middle" fill="#052605" opacity="0.9">IH</text>
<rect x="272.60" y="482.20" width="23.1" height="42.00" fill="#008000"/>
<rect x="272.60" y="473.80" width="23.1" height="8.40" fill="#ffff00"/>
<rect x="272.60" y="465.40" width="23.1" height="8.40" fill="#ffa500"/>
<rect x="272.60" y="457.00" width="23.1" height="8.40" fill="#ff0000"/>
<rect x="272.60" y="457.00" width="23.1" height="67.20" fill="none" stroke="#ff2000" stroke-width="0.9"/>
<line x1="272.60" y1="515.80" x2="295.70" y2="515.80" stroke="#0a8c0a" stroke-width="0.9" stroke-dasharray="2.6 2.2" opacity="0.5"/>
<line x1="272.60" y1="507.40" x2="295.70" y2="507.40" stroke="#0a8c0a" stroke-width="0.9" stroke-dasharray="2.6 2.2" opacity="0.5"/>
<line x1="272.60" y1="499.00" x2="295.70" y2="499.00" stroke="#0a8c0a" stroke-width="0.9" stroke-dasharray="2.6 2.2" opacity="0.5"/>
<line x1="272.60" y1="490.60" x2="295.70" y2="490.60" stroke="#0a8c0a" stroke-width="0.9" stroke-dasharray="2.6 2.2" opacity="0.5"/>
<text x="284.00" y="519.6" font-size="7.6" text-anchor="middle" fill="#052605" opacity="0.9">FMI</text>
<rect x="300.50" y="482.20" width="23.1" height="42.00" fill="#008000"/>
<rect x="300.50" y="473.80" width="23.1" height="8.40" fill="#ffff00"/>
<line x1="300.50" y1="515.80" x2="323.60" y2="515.80" stroke="#0a8c0a" stroke-width="0.9" stroke-dasharray="2.6 2.2" opacity="0.5"/>
<line x1="300.50" y1="507.40" x2="323.60" y2="507.40" stroke="#0a8c0a" stroke-width="0.9" stroke-dasharray="2.6 2.2" opacity="0.5"/>
<line x1="300.50" y1="499.00" x2="323.60" y2="499.00" stroke="#0a8c0a" stroke-width="0.9" stroke-dasharray="2.6 2.2" opacity="0.5"/>
<line x1="300.50" y1="490.60" x2="323.60" y2="490.60" stroke="#0a8c0a" stroke-width="0.9" stroke-dasharray="2.6 2.2" opacity="0.5"/>
<text x="312.20" y="519.6" font-size="7.6" text-anchor="middle" fill="#052605" opacity="0.9">IH</text>
<rect x="329.00" y="482.20" width="23.1" height="42.00" fill="#008000"/>
<rect x="329.00" y="473.80" width="23.1" height="8.40" fill="#ffff00"/>
<line x1="329.00" y1="515.80" x2="352.10" y2="515.80" stroke="#0a8c0a" stroke-width="0.9" stroke-dasharray="2.6 2.2" opacity="0.5"/>
<line x1="329.00" y1="507.40" x2="352.10" y2="507.40" stroke="#0a8c0a" stroke-width="0.9" stroke-dasharray="2.6 2.2" opacity="0.5"/>
<line x1="329.00" y1="499.00" x2="352.10" y2="499.00" stroke="#0a8c0a" stroke-width="0.9" stroke-dasharray="2.6 2.2" opacity="0.5"/>
<line x1="329.00" y1="490.60" x2="352.10" y2="490.60" stroke="#0a8c0a" stroke-width="0.9" stroke-dasharray="2.6 2.2" opacity="0.5"/>
<text x="340.40" y="519.6" font-size="7.6" text-anchor="middle" fill="#052605" opacity="0.9">FMI</text>
<rect x="356.90" y="482.20" width="23.1" height="42.00" fill="#008000"/>
<rect x="356.90" y="473.80" width="23.1" height="8.40" fill="#ffff00"/>
<line x1="356.90" y1="515.80" x2="380.00" y2="515.80" stroke="#0a8c0a" stroke-width="0.9" stroke-dasharray="2.6 2.2" opacity="0.5"/>
<line x1="356.90" y1="507.40" x2="380.00" y2="507.40" stroke="#0a8c0a" stroke-width="0.9" stroke-dasharray="2.6 2.2" opacity="0.5"/>
<line x1="356.90" y1="499.00" x2="380.00" y2="499.00" stroke="#0a8c0a" stroke-width="0.9" stroke-dasharray="2.6 2.2" opacity="0.5"/>
<line x1="356.90" y1="490.60" x2="380.00" y2="490.60" stroke="#0a8c0a" stroke-width="0.9" stroke-dasharray="2.6 2.2" opacity="0.5"/>
<text x="368.60" y="519.6" font-size="7.6" text-anchor="middle" fill="#052605" opacity="0.9">IH</text>
<rect x="385.40" y="482.20" width="23.1" height="42.00" fill="#008000"/>
<rect x="385.40" y="473.80" width="23.1" height="8.40" fill="#ffff00"/>
<line x1="385.40" y1="515.80" x2="408.50" y2="515.80" stroke="#0a8c0a" stroke-width="0.9" stroke-dasharray="2.6 2.2" opacity="0.5"/>
<line x1="385.40" y1="507.40" x2="408.50" y2="507.40" stroke="#0a8c0a" stroke-width="0.9" stroke-dasharray="2.6 2.2" opacity="0.5"/>
<line x1="385.40" y1="499.00" x2="408.50" y2="499.00" stroke="#0a8c0a" stroke-width="0.9" stroke-dasharray="2.6 2.2" opacity="0.5"/>
<line x1="385.40" y1="490.60" x2="408.50" y2="490.60" stroke="#0a8c0a" stroke-width="0.9" stroke-dasharray="2.6 2.2" opacity="0.5"/>
<text x="396.80" y="519.6" font-size="7.6" text-anchor="middle" fill="#052605" opacity="0.9">FMI</text>
<rect x="413.30" y="499.00" width="23.1" height="25.20" fill="#008000"/>
<line x1="413.30" y1="515.80" x2="436.40" y2="515.80" stroke="#0a8c0a" stroke-width="0.9" stroke-dasharray="2.6 2.2" opacity="0.5"/>
<line x1="413.30" y1="507.40" x2="436.40" y2="507.40" stroke="#0a8c0a" stroke-width="0.9" stroke-dasharray="2.6 2.2" opacity="0.5"/>
<text x="425.00" y="519.6" font-size="7.6" text-anchor="middle" fill="#052605" opacity="0.9">IH</text>
<rect x="441.80" y="499.00" width="23.1" height="25.20" fill="#008000"/>
<line x1="441.80" y1="515.80" x2="464.90" y2="515.80" stroke="#0a8c0a" stroke-width="0.9" stroke-dasharray="2.6 2.2" opacity="0.5"/>
<line x1="441.80" y1="507.40" x2="464.90" y2="507.40" stroke="#0a8c0a" stroke-width="0.9" stroke-dasharray="2.6 2.2" opacity="0.5"/>
<text x="453.20" y="519.6" font-size="7.6" text-anchor="middle" fill="#052605" opacity="0.9">FMI</text>
<line x1="465.3" y1="507.1" x2="511.4" y2="507.1" stroke="#111" stroke-width="1.1"/>
<rect x="470.4" y="507.1" width="11.6" height="17" fill="#fff" stroke="#111" stroke-width="1"/>
<rect x="498.6" y="507.1" width="11.6" height="17" fill="#fff" stroke="#111" stroke-width="1"/>
<line x1="470.4" y1="515.80" x2="511.4" y2="515.80" stroke="#008000" stroke-width="1" stroke-dasharray="2.6 2.2" opacity="0.8"/>
<text x="476.2" y="521.4" font-size="7.4" text-anchor="middle" fill="#222">IH</text>
<text x="505.6" y="521.4" font-size="7.4" text-anchor="middle" fill="#222">FMI</text>
</g>
<line x1="59.9" y1="439.7" x2="59.9" y2="524.8000000000001" stroke="#111" stroke-width="1.3"/>
<line x1="59.3" y1="524.2" x2="511.4" y2="524.2" stroke="#111" stroke-width="1.3"/>
<line x1="511.4" y1="440.2" x2="511.4" y2="524.2" stroke="#ff3030" stroke-width="1"/>
<line x1="56.5" y1="515.80" x2="59.9" y2="515.80" stroke="#111" stroke-width="0.9"/>
<text transform="translate(53,518.75) scale(1.12,1)" font-size="7.9" text-anchor="end" fill="#1a8a1a">0 G0</text>
<line x1="56.5" y1="507.40" x2="59.9" y2="507.40" stroke="#111" stroke-width="0.9"/>
<text transform="translate(53,510.35) scale(1.12,1)" font-size="7.9" text-anchor="end" fill="#1a8a1a">1 G0</text>
<line x1="56.5" y1="499.00" x2="59.9" y2="499.00" stroke="#111" stroke-width="0.9"/>
<text transform="translate(53,501.95) scale(1.12,1)" font-size="7.9" text-anchor="end" fill="#1a8a1a">2 G0</text>
<line x1="56.5" y1="490.60" x2="59.9" y2="490.60" stroke="#111" stroke-width="0.9"/>
<text transform="translate(53,493.55) scale(1.12,1)" font-size="7.9" text-anchor="end" fill="#1a8a1a">3 G0</text>
<line x1="56.5" y1="482.20" x2="59.9" y2="482.20" stroke="#111" stroke-width="0.9"/>
<text transform="translate(53,485.15) scale(1.12,1)" font-size="7.9" text-anchor="end" fill="#1a8a1a">4 G0</text>
<line x1="56.5" y1="473.80" x2="59.9" y2="473.80" stroke="#111" stroke-width="0.9"/>
<text transform="translate(53,476.75) scale(1.12,1)" font-size="7.9" text-anchor="end" fill="#ffff70">5 G1</text>
<line x1="56.5" y1="465.40" x2="59.9" y2="465.40" stroke="#111" stroke-width="0.9"/>
<text transform="translate(53,468.35) scale(1.12,1)" font-size="7.9" text-anchor="end" fill="#ffb84a">6 G2</text>
<line x1="56.5" y1="457.00" x2="59.9" y2="457.00" stroke="#111" stroke-width="0.9"/>
<text transform="translate(53,459.95) scale(1.12,1)" font-size="7.9" text-anchor="end" fill="#ff1414">7 G3</text>
<line x1="56.5" y1="448.60" x2="59.9" y2="448.60" stroke="#111" stroke-width="0.9"/>
<text transform="translate(53,451.55) scale(1.12,1)" font-size="7.9" text-anchor="end" fill="#ff1414">8 G4</text>
<line x1="56.5" y1="440.20" x2="59.9" y2="440.20" stroke="#111" stroke-width="0.9"/>
<text transform="translate(53,443.15) scale(1.12,1)" font-size="7.9" text-anchor="end" fill="#ff1414">9 G5</text>
<line x1="56.5" y1="524.2" x2="59.9" y2="524.2" stroke="#111" stroke-width="0.9"/>
<text transform="translate(53,527.00) scale(1.12,1)" font-size="7.9" text-anchor="end" fill="#111">No value</text>
<line x1="72.50" y1="524.2" x2="72.50" y2="527.4000000000001" stroke="#111" stroke-width="0.9"/>
<text x="72.50" y="536.6" font-size="8.2" text-anchor="middle" fill="#222">12</text>
<line x1="128.90" y1="524.2" x2="128.90" y2="527.4000000000001" stroke="#111" stroke-width="0.9"/>
<text x="128.90" y="536.6" font-size="8.2" text-anchor="middle" fill="#222">15</text>
<line x1="185.30" y1="524.2" x2="185.30" y2="527.4000000000001" stroke="#111" stroke-width="0.9"/>
<text x="185.30" y="536.6" font-size="8.2" text-anchor="middle" fill="#222">18</text>
<line x1="241.70" y1="524.2" x2="241.70" y2="527.4000000000001" stroke="#111" stroke-width="0.9"/>
<text x="241.70" y="536.6" font-size="8.2" text-anchor="middle" fill="#222">21</text>
<line x1="298.10" y1="524.2" x2="298.10" y2="527.4000000000001" stroke="#111" stroke-width="0.9"/>
<text x="298.10" y="536.6" font-size="8.2" text-anchor="middle" fill="#222">00</text>
<line x1="354.50" y1="524.2" x2="354.50" y2="527.4000000000001" stroke="#111" stroke-width="0.9"/>
<text x="354.50" y="536.6" font-size="8.2" text-anchor="middle" fill="#222">03</text>
<line x1="410.90" y1="524.2" x2="410.90" y2="527.4000000000001" stroke="#111" stroke-width="0.9"/>
<text x="410.90" y="536.6" font-size="8.2" text-anchor="middle" fill="#222">06</text>
<line x1="467.30" y1="524.2" x2="467.30" y2="527.4000000000001" stroke="#111" stroke-width="0.9"/>
<text x="467.30" y="536.6" font-size="8.2" text-anchor="middle" fill="#222">09</text>
<text transform="translate(8.7,560) rotate(-90)" font-size="8.2" fill="#ff1414" textLength="156" lengthAdjust="spacingAndGlyphs">K index / Geomagnetic storm index</text>
</g>
</svg>
</body></html>
